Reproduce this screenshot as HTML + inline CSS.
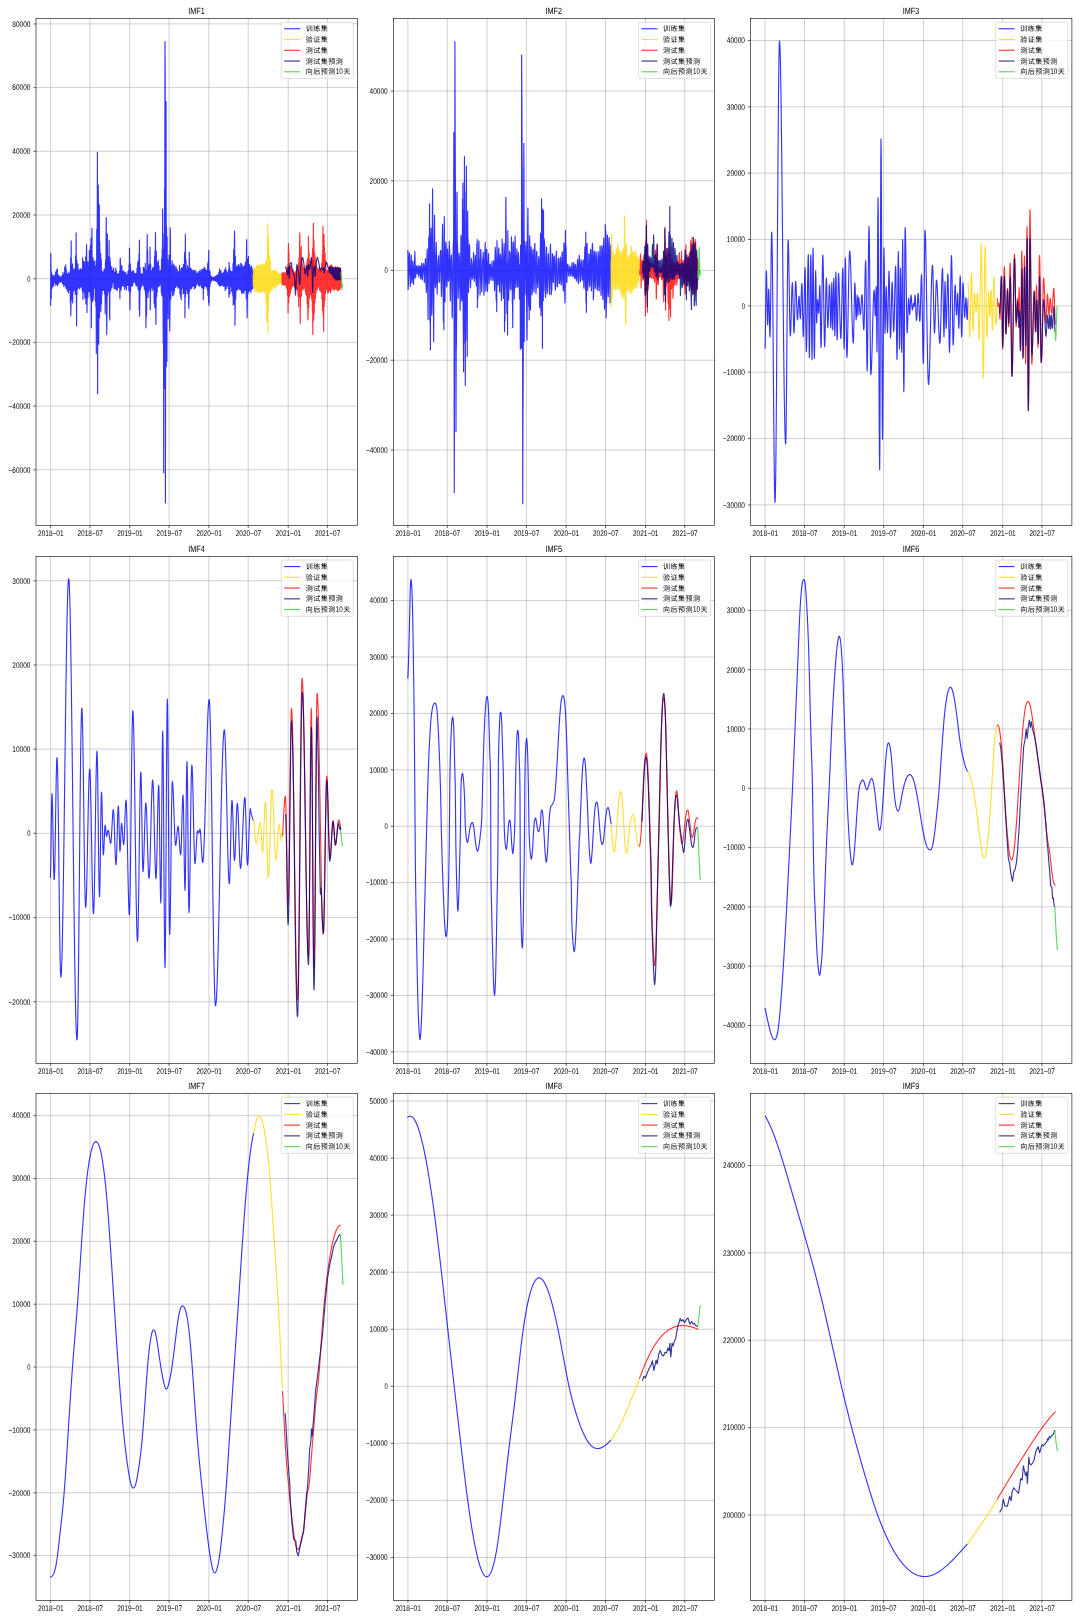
<!DOCTYPE html>
<html lang="zh"><head><meta charset="utf-8"><title>IMF</title>
<style>
html,body{margin:0;padding:0;background:#fff;}
svg{display:block;will-change:transform;}
text{font-family:"Liberation Sans", "Noto Sans CJK SC", sans-serif;fill:#000;text-rendering:geometricPrecision;}
.tk{font-size:8.2px;}
.lg{font-size:7px;letter-spacing:0.5px;}
.tt{font-size:9px;}
.ln{fill:none;stroke-width:1.125;stroke-linejoin:round;stroke-linecap:butt;}
.gr{stroke:#b0b0b0;stroke-width:0.6;fill:none;}
.sp{stroke:#000;stroke-width:0.6;fill:none;}
</style></head><body>
<svg width="1080" height="1620" viewBox="0 0 1080 1620">
<rect x="0" y="0" width="1080" height="1620" fill="#fff"/>
<g id="ax1">
<clipPath id="cp1"><rect x="36" y="18.6" width="321.4" height="506.9"/></clipPath>
<path class="gr" d="M50.6 18.6V525.5M90 18.6V525.5M129.7 18.6V525.5M169.1 18.6V525.5M208.9 18.6V525.5M248.2 18.6V525.5M288.2 18.6V525.5M327.4 18.6V525.5M36 23.9H357.4M36 87.6H357.4M36 151.3H357.4M36 215H357.4M36 278.7H357.4M36 342.4H357.4M36 406.1H357.4M36 469.8H357.4"/>
<g clip-path="url(#cp1)">
<path class="ln" stroke="rgb(0,0,255)" stroke-opacity="0.8" d="M50.6 305.83L50.82 253.33L51.03 269.45L51.25 298.59L51.47 271.98L51.68 275.65L51.9 288.53L52.12 277.46L52.33 276.26L52.55 286.66L52.77 274.95L52.98 282.67L53.2 279.65L53.42 276.61L53.63 285.87L53.85 276.04L54.07 275.94L54.28 281.42L54.5 282.72L54.72 275.7L54.93 283.02L55.15 279.21L55.37 272.8L55.58 282.42L55.8 285.32L56.02 271.42L56.23 281.29L56.45 284.04L56.67 269.94L56.88 280.44L57.1 284.42L57.32 268.79L57.53 285.75L57.75 276.55L57.97 275.8L58.18 283.96L58.4 275.09L58.62 283.45L58.83 280.6L59.05 277.17L59.27 281.32L59.48 280.54L59.7 276.14L59.92 277.78L60.13 282.19L60.35 277.7L60.57 277.96L60.78 280.28L61 277.4L61.22 281.77L61.43 277.82L61.65 276.61L61.87 282.03L62.08 280.4L62.3 274.96L62.52 283.52L62.73 283.01L62.95 272.37L63.17 284.2L63.38 280.78L63.6 274.67L63.82 286.4L64.03 274.23L64.25 276.04L64.47 284.98L64.68 266.89L64.9 284.99L65.12 272.02L65.33 276.12L65.55 286.5L65.77 264.73L65.98 288.19L66.2 269.27L66.42 273.06L66.63 288.5L66.85 273.42L67.07 275.85L67.28 291.14L67.5 283.71L67.72 274.17L67.93 289.05L68.15 274.94L68.37 277.44L68.58 292.87L68.8 271.85L69.02 274.15L69.23 288.47L69.45 273.54L69.67 289.74L69.88 273.68L70.1 274.5L70.32 302.81L70.53 258.16L70.75 315.83L70.97 307.5L71.18 240.83L71.4 283.36L71.62 291.12L71.83 266.39L72.05 299.7L72.27 289.91L72.48 263.73L72.7 303.06L72.91 285.86L73.13 271.28L73.35 291.55L73.56 287.9L73.78 268.89L74 274.51L74.21 287.54L74.43 270.64L74.65 290.15L74.86 290.58L75.08 268.11L75.3 294.4L75.51 255.93L75.73 282.89L75.95 291.96L76.16 232.83L76.38 297.45L76.6 325.83L76.81 260.07L77.03 294.35L77.25 263.42L77.46 267.68L77.68 288.66L77.9 264.47L78.11 284.91L78.33 273.38L78.55 271.63L78.76 287.16L78.98 269.73L79.2 281.66L79.41 288.91L79.63 271.25L79.85 283.73L80.06 275.92L80.28 268.66L80.5 287.63L80.71 271.76L80.93 277.31L81.15 286.44L81.36 269.47L81.58 284.53L81.8 284.66L82.01 269.24L82.23 290.5L82.45 287.46L82.66 257.9L82.88 299.39L83.1 263.9L83.31 286.55L83.53 292.36L83.75 261.24L83.96 283.01L84.18 288.29L84.4 262.37L84.61 288.53L84.83 298.04L85.05 267.82L85.26 271.24L85.48 288.15L85.7 256.81L85.91 304.1L86.13 295.04L86.35 259.89L86.56 244.67L86.78 262.76L87 312.5L87.21 294.35L87.43 262.01L87.65 273.76L87.86 297.8L88.08 261.93L88.3 287.15L88.51 278.76L88.73 266.59L88.95 291.81L89.16 291.86L89.38 250.26L89.6 287.08L89.81 281.73L90.03 252.36L90.25 296.15L90.46 245.24L90.68 284.99L90.9 299.74L91.11 238.31L91.33 327.83L91.55 286.45L91.76 241.61L91.98 228L92.2 287.64L92.41 257.36L92.63 301.72L92.85 259.01L93.06 258.09L93.28 299.27L93.5 289.24L93.71 261.73L93.93 286.44L94.15 287.91L94.36 261L94.58 285.58L94.8 273.87L95.01 266.94L95.23 300.52L95.45 266.06L95.66 298.51L95.88 306.44L96.1 260.51L96.31 353.33L96.53 301.9L96.75 229.03L96.96 323.34L97.18 250.6L97.4 152.5L97.61 393.83L97.83 233.88L98.05 239.33L98.26 185L98.48 210.39L98.7 344.17L98.91 314.07L99.13 227.33L99.35 205L99.56 317.63L99.78 241.89L100 266.48L100.21 304.08L100.43 269.83L100.65 253.25L100.86 311.54L101.08 295.78L101.3 259.27L101.51 303.95L101.73 271.51L101.95 294.16L102.16 283.75L102.38 271.18L102.6 290.5L102.81 272.85L103.03 275.4L103.25 290.56L103.46 272.02L103.68 273.54L103.9 289.59L104.11 269.01L104.33 273.17L104.55 293.96L104.76 272.82L104.98 269.63L105.2 314.05L105.41 263.58L105.63 259.85L105.85 302.97L106.06 237.01L106.28 217.5L106.5 306.81L106.71 334.67L106.93 313.44L107.15 292.94L107.36 233.99L107.58 295.11L107.8 271.53L108.01 256.46L108.23 290.96L108.45 291.28L108.66 262.3L108.88 291.88L109.1 240.33L109.31 262.89L109.53 314.15L109.75 320L109.96 257.7L110.18 291.52L110.4 261.62L110.61 283.96L110.83 290.29L111.05 269.24L111.26 285.19L111.48 271.39L111.7 266.51L111.91 287.62L112.13 285.14L112.35 270.66L112.56 282.77L112.78 277.76L113 270.4L113.21 280.33L113.43 282.73L113.65 268.01L113.86 281.67L114.08 288.62L114.3 275.21L114.51 272.26L114.73 287.96L114.95 273.76L115.16 272.77L115.38 289.3L115.6 274.81L115.81 268.02L116.03 282.96L116.24 285.3L116.46 270.99L116.68 290.18L116.89 276.76L117.11 274.4L117.33 289.94L117.54 280.84L117.76 273.77L117.98 285.42L118.19 275.16L118.41 274.87L118.63 287.43L118.84 273.6L119.06 282.56L119.28 285.4L119.49 271.37L119.71 285.56L119.93 298.67L120.14 259.31L120.36 258L120.58 273.62L120.79 271.35L121.01 290.25L121.23 265.27L121.44 283.85L121.66 286.93L121.88 266.05L122.09 285.04L122.31 274.66L122.53 271.13L122.74 285.43L122.96 282.49L123.18 272.99L123.39 282.87L123.61 286.11L123.83 270.72L124.04 284.58L124.26 272.76L124.48 275.78L124.69 289.79L124.91 272.62L125.13 285.32L125.34 276.25L125.56 272.42L125.78 286.93L125.99 273.66L126.21 275.17L126.43 289.7L126.64 274.75L126.86 274.97L127.08 284.89L127.29 275.93L127.51 277.63L127.73 285.53L127.94 271.42L128.16 281.91L128.38 285.45L128.59 270.29L128.81 290.13L129.03 264.88L129.24 291.48L129.46 248L129.68 263.29L129.89 309.67L130.11 291.41L130.33 263.76L130.54 291.52L130.76 277.36L130.98 270.67L131.19 285.89L131.41 283.76L131.63 273.01L131.84 286.22L132.06 284.22L132.28 271.9L132.49 281.48L132.71 285.59L132.93 271.14L133.14 281.31L133.36 282.7L133.58 270.83L133.79 281.49L134.01 281.73L134.23 273.53L134.44 281.91L134.66 277.15L134.88 273.29L135.09 281.93L135.31 273.69L135.53 284.12L135.74 282.35L135.96 273.8L136.18 285.62L136.39 273.39L136.61 285.87L136.83 282.21L137.04 268.13L137.26 282.2L137.48 281.68L137.69 262.45L137.91 288.42L138.13 288.01L138.34 260.45L138.56 290.33L138.78 290.88L138.99 253.97L139.21 309.87L139.43 240L139.64 316.17L139.86 297.57L140.08 267.26L140.29 276.71L140.51 289.54L140.73 273.56L140.94 285.02L141.16 287.31L141.38 273.57L141.59 285.85L141.81 284.64L142.03 273.96L142.24 281.84L142.46 282.04L142.68 275.14L142.89 278.99L143.11 285.49L143.33 267.21L143.54 284.43L143.76 279.96L143.98 267.79L144.19 289.01L144.41 275.6L144.63 269.29L144.84 285.95L145.06 290.73L145.28 263.41L145.49 295.11L145.71 285.75L145.93 327.83L146.14 307.93L146.36 270.36L146.58 316.09L146.79 285.76L147.01 251.99L147.23 234.5L147.44 292.88L147.66 250.64L147.88 286.47L148.09 297.49L148.31 264.95L148.53 271.85L148.74 291.18L148.96 267.14L149.18 275.55L149.39 288.84L149.61 263.91L149.83 287.99L150.04 247L150.26 310L150.48 291.51L150.69 264.32L150.91 283.82L151.13 284.82L151.34 270.85L151.56 288.05L151.78 271.92L151.99 278.14L152.21 290.8L152.43 272.84L152.64 267.74L152.86 286.01L153.08 279.52L153.29 271.24L153.51 288.91L153.73 267.66L153.94 268.76L154.16 303.71L154.38 266.02L154.59 256.64L154.81 307.75L155.03 250.06L155.24 297.1L155.46 232.5L155.68 261.73L155.89 324.5L156.11 306.07L156.33 251.24L156.54 297.04L156.76 295.92L156.98 262.16L157.19 292.08L157.41 269.01L157.63 263.64L157.84 285.95L158.06 287.01L158.28 260.43L158.49 285.49L158.71 281.54L158.93 265.72L159.14 286L159.36 285.81L159.57 271.19L159.79 277.97L160.01 285.02L160.22 271.23L160.44 275.92L160.66 284.05L160.87 270.17L161.09 273.97L161.31 292.79L161.52 258.75L161.74 280.89L161.96 296.06L162.17 249.41L162.39 279.89L162.61 209.17L162.82 249.81L163.04 312.05L163.26 343.61L163.47 249.9L163.69 472.67L163.91 321.45L164.12 233.7L164.34 388.71L164.56 188.5L164.77 202.59L164.99 41.5L165.21 78.99L165.42 502.83L165.64 345.94L165.86 182.18L166.07 101.67L166.29 366.67L166.51 226.2L166.72 256.14L166.94 361.4L167.16 237L167.37 295.42L167.59 309.93L167.81 260.03L168.02 281.98L168.24 318.67L168.46 270.22L168.67 290.49L168.89 288.79L169.11 255.04L169.32 294.98L169.54 296.35L169.76 330.83L169.97 310.61L170.19 227.83L170.41 237.68L170.62 283.03L170.84 299.21L171.06 265.31L171.27 289.86L171.49 289.84L171.71 269.67L171.92 291.03L172.14 260.7L172.36 282.06L172.57 295.84L172.79 269.32L173.01 273.02L173.22 293.18L173.44 263.97L173.66 274L173.87 294.99L174.09 273.71L174.31 275.75L174.52 290.57L174.74 265.87L174.96 285.98L175.17 269.61L175.39 271.56L175.61 287.39L175.82 282.55L176.04 266.54L176.26 283.95L176.47 276.69L176.69 269.98L176.91 286.12L177.12 268.95L177.34 277.18L177.56 283.11L177.77 272.58L177.99 288.19L178.21 285.48L178.42 271.53L178.64 283.26L178.86 282.75L179.07 271.71L179.29 287.79L179.51 265.49L179.72 274.84L179.94 294.01L180.16 268.98L180.37 283.15L180.59 296.46L180.81 272.13L181.02 273.3L181.24 300.06L181.46 272.42L181.67 267.7L181.89 288.81L182.11 281.75L182.32 267.9L182.54 286.87L182.76 276.67L182.97 276.08L183.19 293.85L183.41 264.48L183.62 286.23L183.84 290.24L184.06 264.15L184.27 293.57L184.49 258.63L184.71 251.99L184.92 317.83L185.14 292.63L185.36 234.17L185.57 296.47L185.79 269.04L186.01 259.46L186.22 289.78L186.44 270.45L186.66 283.42L186.87 285.29L187.09 269.51L187.31 293.74L187.52 265.57L187.74 268.49L187.96 292.56L188.17 267.69L188.39 270.29L188.61 303.57L188.82 308.33L189.04 296.55L189.26 252L189.47 262.87L189.69 290.93L189.91 281.55L190.12 267.73L190.34 288.58L190.56 272.1L190.77 281.51L190.99 285.72L191.21 268.89L191.42 285.08L191.64 288.81L191.86 270.01L192.07 281.38L192.29 285.64L192.51 272.57L192.72 286.58L192.94 275.26L193.16 270.03L193.37 285.26L193.59 271.88L193.81 272.76L194.02 286.25L194.24 270.33L194.46 288.67L194.67 271.2L194.89 285.09L195.11 281.15L195.32 273.19L195.54 287.82L195.76 274.6L195.97 270.67L196.19 285.49L196.41 276.95L196.62 274.32L196.84 284.4L197.06 273.1L197.27 283.48L197.49 281.66L197.71 273.8L197.92 282.29L198.14 282.89L198.36 272.7L198.57 285.27L198.79 271.52L199.01 286.04L199.22 285.5L199.44 271.97L199.66 281.2L199.87 285.91L200.09 269.73L200.31 283.03L200.52 284.81L200.74 271.48L200.96 284.03L201.17 273.84L201.39 273.76L201.61 287.82L201.82 269.53L202.04 287.18L202.25 285.68L202.47 269.06L202.69 288L202.9 285.55L203.12 269.31L203.34 299.67L203.55 269.86L203.77 271.28L203.99 288.74L204.2 267.68L204.42 275.53L204.64 284.17L204.85 267.48L205.07 286.29L205.29 269.25L205.5 282.73L205.72 280.91L205.94 270.37L206.15 286.7L206.37 284.63L206.59 273.03L206.8 286.94L207.02 270.19L207.24 289.7L207.45 288.84L207.67 263.46L207.89 295.6L208.1 265.1L208.32 260.92L208.54 302.41L208.75 250.33L208.97 305.33L209.19 294.39L209.4 286.36L209.62 270.92L209.84 286.78L210.05 271.64L210.27 283.59L210.49 281.12L210.7 275.81L210.92 281.86L211.14 276.33L211.35 277.59L211.57 280.59L211.79 276.69L212 279.64L212.22 280.22L212.44 277.73L212.65 279.78L212.87 277.86L213.09 277.52L213.3 280.18L213.52 279L213.74 277.35L213.95 280.15L214.17 277.55L214.39 277.1L214.6 280.53L214.82 277.29L215.04 277.1L215.25 280.77L215.47 276.2L215.69 281.27L215.9 279.8L216.12 276.03L216.34 281.52L216.55 276.16L216.77 275.63L216.99 281.64L217.2 274.94L217.42 282.09L217.64 276.97L217.85 275.23L218.07 283.67L218.29 277.38L218.5 274.15L218.72 284.92L218.94 272.15L219.15 284.68L219.37 277.62L219.59 268.9L219.8 285.95L220.02 282.91L220.24 271.33L220.45 285.49L220.67 280.95L220.89 270.59L221.1 285.81L221.32 281.36L221.54 273.38L221.75 285.49L221.97 283.34L222.19 273.77L222.4 284.67L222.62 274.39L222.84 282.32L223.05 281.36L223.27 272.55L223.49 286.49L223.7 272.68L223.92 283.54L224.14 286.36L224.35 270.01L224.57 276.07L224.79 284.88L225 271.27L225.22 290.6L225.44 267.79L225.65 283.26L225.87 287.21L226.09 269.8L226.3 288.84L226.52 273.48L226.74 271.71L226.95 285.66L227.17 275.94L227.39 272.97L227.6 285.25L227.82 274.08L228.04 273.71L228.25 288.52L228.47 270.06L228.69 272.28L228.9 297.3L229.12 262.2L229.34 270.37L229.55 290.86L229.77 267.67L229.99 294.06L230.2 274.74L230.42 273.28L230.64 286.54L230.85 271.13L231.07 286.64L231.29 273.85L231.5 281.55L231.72 291.58L231.94 271.45L232.15 291.64L232.37 274.54L232.59 276.97L232.8 295.85L233.02 263.54L233.24 305.01L233.45 274.34L233.67 250.13L233.89 299.7L234.1 304.04L234.32 242.91L234.54 231.17L234.75 249.97L234.97 325.33L235.19 303.11L235.4 256.66L235.62 299.59L235.84 291.63L236.05 265.21L236.27 290.46L236.49 276.04L236.7 268.09L236.92 289.79L237.14 267.22L237.35 289.85L237.57 267.73L237.79 265.82L238 289.42L238.22 264.79L238.44 284.96L238.65 288.18L238.87 264.31L239.09 288.21L239.3 287.99L239.52 266.5L239.74 289.81L239.95 272.46L240.17 267.19L240.39 289.5L240.6 286.21L240.82 263.06L241.04 290.84L241.25 284.88L241.47 267.5L241.69 293.59L241.9 264.1L242.12 292.81L242.34 267.55L242.55 272.69L242.77 288.56L242.99 266.88L243.2 292.85L243.42 285.21L243.64 270.16L243.85 293.32L244.07 268L244.29 265.44L244.5 290.58L244.72 271.11L244.94 266.36L245.15 290.09L245.37 262.14L245.58 290.21L245.8 265.97L246.02 273.61L246.23 298.57L246.45 252.33L246.67 239.5L246.88 288.94L247.1 317.83L247.32 305.79L247.53 285.14L247.75 258.99L247.97 294.02L248.18 288.82L248.4 256.45L248.62 291.05L248.83 265.5L249.05 282.94L249.27 291.67L249.48 264.54L249.7 284.59L249.92 290.13L250.13 267.56L250.35 287.38L250.57 287.95L250.78 269.1L251 292.63L251.22 265.66L251.43 275.71L251.65 289.31L251.87 267.23L252.08 289.19L252.3 269.7L252.52 282.58L252.73 288.44L252.95 269.19"/>
<path class="ln" stroke="rgb(255,215,0)" stroke-opacity="0.8" d="M253 275.06L253.22 286.03L253.43 269.16L253.65 286.75L253.87 287.66L254.08 267.92L254.3 290.89L254.52 269.5L254.73 285.48L254.95 289.08L255.17 268.44L255.38 287.65L255.6 271.38L255.82 273.3L256.03 292.01L256.25 266.84L256.47 284.84L256.68 288.44L256.9 265.23L257.12 290.4L257.33 270.34L257.55 266.3L257.77 291.77L257.98 288.37L258.2 265.54L258.42 291.55L258.63 270.65L258.85 272.2L259.07 292.07L259.28 264.12L259.5 292.56L259.72 285.87L259.93 267.16L260.15 291.22L260.37 266.07L260.58 292.13L260.8 269.46L261.02 285.98L261.23 290.04L261.45 264.01L261.67 291.53L261.88 268.22L262.1 267.58L262.32 289.9L262.53 264.6L262.75 289.72L262.97 289.28L263.18 267.94L263.4 291.9L263.62 287.54L263.83 263.77L264.05 291.43L264.27 268.53L264.48 264.55L264.7 292.29L264.92 287.66L265.13 263.49L265.35 292.43L265.57 287.93L265.78 261.6L266 302.64L266.22 264.72L266.43 261.71L266.65 321.23L266.87 258.67L267.08 266.71L267.3 322.5L267.52 245.59L267.73 223.67L267.95 332.83L268.17 254.18L268.38 309.35L268.6 238.33L268.82 301.89L269.03 287.54L269.25 257.84L269.47 291.43L269.68 255.4L269.9 261.69L270.12 292.09L270.33 261.04L270.55 290.75L270.77 270.65L270.98 275.17L271.2 288.13L271.42 271.38L271.63 289.43L271.85 271.79L272.07 273.17L272.28 287.62L272.5 270.47L272.72 286.46L272.93 274.45L273.15 277.26L273.37 285.03L273.58 270.83L273.8 286.42L274.02 270.91L274.23 271.74L274.45 288.9L274.66 270.75L274.88 282.75L275.1 285.98L275.31 269.96L275.53 287.8L275.75 285L275.96 270.87L276.18 285.79L276.4 271.73L276.61 273.42L276.83 285.22L277.05 271.88L277.26 285.28L277.48 283.63L277.7 272.93L277.91 285.23L278.13 274.29L278.35 273.69L278.56 283.5L278.78 274.04L279 275.01L279.21 283.52L279.43 274.23L279.65 281.56L279.86 282.49L280.08 274.08L280.3 282.13L280.51 279.59L280.73 274.15L280.95 283.08L281.16 274.43L281.38 274.94L281.6 284.66L281.81 274.26"/>
<path class="ln" stroke="rgb(255,0,0)" stroke-opacity="0.8" d="M282 272.55L282.22 284.53L282.43 272.81L282.65 283.22L282.87 274.1L283.08 273.68L283.3 284.58L283.52 272.62L283.73 285.26L283.95 274.79L284.17 273.03L284.38 284.7L284.6 282.94L284.82 273.42L285.03 285.36L285.25 272.75L285.47 275.88L285.68 284.78L285.9 272.89L286.12 273.64L286.33 287.98L286.55 268.3L286.77 288.08L286.98 271.55L287.2 266.98L287.42 294.89L287.63 286.66L287.85 264.23L288.07 312.83L288.28 255.85L288.5 243.67L288.72 302.85L288.93 251.82L289.15 297.25L289.37 269.37L289.58 269.93L289.8 295.95L290.02 265.28L290.23 273.24L290.45 292.85L290.67 266.11L290.88 286.64L291.1 270.78L291.32 267.22L291.53 288.95L291.75 272.85L291.97 270.4L292.18 286.93L292.4 269.54L292.62 280.99L292.83 286.04L293.05 269.92L293.27 285.6L293.48 285.59L293.7 271.02L293.92 282.58L294.13 282.86L294.35 273.35L294.57 286.97L294.78 273.65L295 275.44L295.22 288.83L295.43 271.44L295.65 286.2L295.87 288.94L296.08 273.58L296.3 285.79L296.52 286.98L296.73 274.08L296.95 289.7L297.17 269.56L297.38 290.07L297.6 274.32L297.82 266.43L298.03 296.17L298.25 267.31L298.47 264.74L298.68 306.87L298.9 258.24L299.12 297.33L299.33 283L299.55 240.61L299.77 232.83L299.98 245.99L300.2 323.67L300.42 303.46L300.63 252.38L300.85 251.41L301.07 296.72L301.28 246.6L301.5 295.7L301.72 264.21L301.93 258.33L302.15 290.65L302.37 265.71L302.58 265.24L302.8 287.98L303.02 274.37L303.23 269.8L303.45 289.03L303.67 267.91L303.88 287.89L304.1 274.66L304.31 268.6L304.53 287.82L304.75 270.47L304.96 282L305.18 290.72L305.4 268.44L305.61 270.3L305.83 294.36L306.05 265.35L306.26 269.9L306.48 295.14L306.7 268.45L306.91 262.39L307.13 303.79L307.35 258.49L307.56 291.12L307.78 311.36L308 320L308.21 312.94L308.43 236.17L308.65 253.64L308.86 307.44L309.08 253.14L309.3 297.57L309.51 297.9L309.73 259.71L309.95 290.68L310.16 274.62L310.38 264.92L310.6 294.43L310.81 291.95L311.03 262.67L311.25 296.57L311.46 261.75L311.68 299.73L311.9 291.02L312.11 255.39L312.33 310.36L312.55 248.9L312.76 334.5L312.98 317.51L313.2 241.7L313.41 223L313.63 320.2L313.85 239.8L314.06 247.52L314.28 313.14L314.5 252.41L314.71 253.84L314.93 302.72L315.15 256.42L315.36 272.49L315.58 298.1L315.8 260.77L316.01 288.61L316.23 292.29L316.45 265.83L316.66 286.99L316.88 286.58L317.1 267.42L317.31 289.41L317.53 269.95L317.75 285.38L317.96 278.29L318.18 269.98L318.4 286.93L318.61 269.14L318.83 286.68L319.05 283.17L319.26 267.9L319.48 290.25L319.7 272.8L319.91 273.19L320.13 289.9L320.35 271.98L320.56 270.3L320.78 292.03L321 269.94L321.21 287.55L321.43 283.52L321.65 263.3L321.86 298.41L322.08 292.97L322.3 254.73L322.51 310.75L322.73 246.65L322.95 226.33L323.16 315.91L323.38 239L323.6 331.33L323.81 305.45L324.03 234.32L324.25 306.44L324.46 246.52L324.68 287.4L324.9 300.3L325.11 253.29L325.33 292.54L325.55 293.3L325.76 260.48L325.98 290.15L326.2 286.94L326.41 271.7L326.63 288.89L326.85 270.93L327.06 286.5L327.28 285.26L327.5 270.17L327.71 292.74L327.93 273.69L328.15 276.1L328.36 292.65L328.58 270.42L328.8 291.44L329.01 287.05L329.23 267.01L329.45 289.98L329.66 275.27L329.88 270.01L330.1 290.41L330.31 265.09L330.53 292.76L330.75 266.98L330.96 269.78L331.18 290.82L331.4 265.27L331.61 288.15L331.83 287.71L332.05 265.15L332.26 286.06L332.48 286.97L332.7 268.75L332.91 289.61L333.13 271.04L333.35 268.64L333.56 289.12L333.78 269.86L334 282.96L334.21 286.02L334.43 269.7L334.65 290.3L334.86 273.9L335.08 271.22L335.3 288.58L335.51 266.6L335.73 288.01L335.95 288.26L336.16 268.53L336.38 285.89L336.6 289.42L336.81 267.89L337.03 275.96L337.25 285.67L337.46 266.69L337.68 290.94L337.9 285.61L338.11 268.54L338.33 288.56L338.55 269.76L338.76 267.79L338.98 290.3L339.2 267.72L339.41 287.97L339.63 284.38L339.85 268.06L340.06 289.52L340.28 268.32L340.5 286.82L340.71 287.8L340.93 269.85L341.15 287.77"/>
<path class="ln" stroke="rgb(0,0,128)" stroke-opacity="0.8" d="M285.07 266.67L285.27 266.76L285.47 267L285.67 267.35L285.87 267.8L286.07 268.32L286.27 268.88L286.47 269.47L286.67 270.42L286.87 271.79L287.07 273.23L287.27 274.41L287.47 274.99L287.67 274.43L287.87 272.63L288.07 270.29L288.27 268.11L288.47 266.79L288.67 267.66L288.87 271.96L289.06 276.67L289.26 278.4L289.46 274.89L289.66 268.89L289.86 264.38L290.06 263.62L290.26 263.28L290.46 263L290.66 262.79L290.86 262.64L291.06 262.54L291.26 262.5L291.46 262.87L291.66 264.36L291.86 266.48L292.06 268.66L292.26 270.35L292.46 271.14L292.66 271.61L292.86 271.96L293.06 272.25L293.26 272.54L293.46 272.88L293.66 273.35L293.86 273.99L294.06 274.89L294.26 276.05L294.46 277.49L294.66 279.23L294.86 281.5L295.06 286.41L295.26 291.97L295.46 295.08L295.66 293.61L295.86 289.13L296.06 283.61L296.26 278.7L296.46 272.8L296.66 267.3L296.86 264.61L297.06 264.82L297.26 265.55L297.46 266.61L297.66 267.84L297.85 269.08L298.05 270.26L298.25 271.55L298.45 272.97L298.65 274.51L298.85 276.17L299.05 278.11L299.25 280.92L299.45 283.55L299.65 284.72L299.85 283.45L300.05 280.25L300.25 276.08L300.45 271.87L300.65 268.56L300.85 266.43L301.05 264.53L301.25 262.83L301.45 261.36L301.65 260.16L301.85 259.17L302.05 258.23L302.25 257.53L302.45 257.29L302.65 257.54L302.85 258.14L303.05 258.98L303.25 259.97L303.45 260.99L303.65 262.17L303.85 263.71L304.05 265.45L304.25 267.25L304.45 268.93L304.65 270.56L304.85 272.4L305.05 273.85L305.25 274.29L305.45 273.88L305.65 273.02L305.85 271.87L306.05 270.63L306.25 269.47L306.45 268.11L306.64 266.55L306.84 265.45L307.04 265.9L307.24 269.7L307.44 274.25L307.64 276.39L307.84 275.2L308.04 272.43L308.24 269.08L308.44 266.15L308.64 264.63L308.84 264.9L309.04 265.93L309.24 267.3L309.44 268.58L309.64 269.36L309.84 269.22L310.04 267.99L310.24 266.09L310.44 263.95L310.64 262.02L310.84 260.63L311.04 259.3L311.24 258.17L311.44 257.64L311.64 258.73L311.84 261.97L312.04 266.54L312.24 272.82L312.44 285.12L312.64 292.36L312.84 287.94L313.04 279.54L313.24 274.39L313.44 271.7L313.64 269.39L313.84 267.58L314.04 266.4L314.24 265.97L314.44 266.97L314.64 269.39L314.84 272.35L315.04 274.96L315.23 276.34L315.43 275.44L315.63 272.37L315.83 268.7L316.03 265.94L316.23 263.59L316.43 261.47L316.63 259.91L316.83 258.87L317.03 257.98L317.23 257.41L317.43 257.32L317.63 257.71L317.83 258.42L318.03 259.33L318.23 260.32L318.43 261.24L318.63 262.18L318.83 263.21L319.03 264.31L319.23 265.45L319.43 266.59L319.63 267.96L319.83 269.52L320.03 270.64L320.23 270.77L320.43 270.31L320.63 269.57L320.83 268.79L321.03 268.22L321.23 268.06L321.43 268.25L321.63 268.6L321.83 269L322.03 269.32L322.23 269.44L322.43 269.3L322.63 268.98L322.83 268.58L323.03 268.24L323.23 268.06L323.43 268.37L323.63 269.41L323.83 270.77L324.02 272.05L324.22 272.83L324.42 272.72L324.62 271.67L324.82 270.04L325.02 268.25L325.22 266.67L325.42 265.63L325.62 264.71L325.82 263.84L326.02 263.11L326.22 262.64L326.42 262.5L326.62 262.67L326.82 263.03L327.02 263.55L327.22 264.17L327.42 264.84L327.62 265.49L327.82 266.1L328.02 266.7L328.22 267.34L328.42 268.02L328.62 268.72L328.82 269.44L329.03 271.5L329.24 267.87L329.46 272.96L329.68 266.76L329.89 272.58L330.11 268.22L330.33 272.47L330.54 267.3L330.76 273.31L330.98 267.19L331.19 273.77L331.41 267.41L331.63 274.03L331.84 266.94L332.06 274.35L332.28 267.29L332.49 275.79L332.71 267.57L332.93 276.2L333.14 268.19L333.36 276.54L333.58 267.25L333.79 277.38L334.01 267.84L334.23 278.38L334.44 267.55L334.66 278.66L334.88 268.18L335.09 278.06L335.31 267.72L335.53 278.91L335.74 267.4L335.96 280.37L336.18 267.41L336.39 279.85L336.61 268.46L336.83 279.03L337.04 268.88L337.26 279.38L337.48 267.71L337.69 279.65L337.91 268.54L338.13 279.3L338.34 267.58L338.56 279.2L338.78 269.04L338.99 279.76L339.21 268.27L339.43 279.93L339.64 269.03L339.86 279.55L340.08 267.97L340.29 279.68L340.51 268"/>
<path class="ln" stroke="rgb(50,205,50)" stroke-opacity="0.8" d="M340.6 272.5L341.1 275.5L341.6 281L342.1 289.5L342.7 284"/>
</g>
<rect class="sp" x="36" y="18.6" width="321.4" height="506.9"/>
<path class="sp" d="M50.6 525.5v2.6M90 525.5v2.6M129.7 525.5v2.6M169.1 525.5v2.6M208.9 525.5v2.6M248.2 525.5v2.6M288.2 525.5v2.6M327.4 525.5v2.6M36 23.9h-2.6M36 87.6h-2.6M36 151.3h-2.6M36 215h-2.6M36 278.7h-2.6M36 342.4h-2.6M36 406.1h-2.6M36 469.8h-2.6"/>
<text class="tk" x="50.8" y="536.3" text-anchor="middle" textLength="25.44" lengthAdjust="spacingAndGlyphs">2018−01</text>
<text class="tk" x="90.2" y="536.3" text-anchor="middle" textLength="25.44" lengthAdjust="spacingAndGlyphs">2018−07</text>
<text class="tk" x="129.9" y="536.3" text-anchor="middle" textLength="25.44" lengthAdjust="spacingAndGlyphs">2019−01</text>
<text class="tk" x="169.3" y="536.3" text-anchor="middle" textLength="25.44" lengthAdjust="spacingAndGlyphs">2019−07</text>
<text class="tk" x="209.1" y="536.3" text-anchor="middle" textLength="25.44" lengthAdjust="spacingAndGlyphs">2020−01</text>
<text class="tk" x="248.4" y="536.3" text-anchor="middle" textLength="25.44" lengthAdjust="spacingAndGlyphs">2020−07</text>
<text class="tk" x="288.4" y="536.3" text-anchor="middle" textLength="25.44" lengthAdjust="spacingAndGlyphs">2021−01</text>
<text class="tk" x="327.6" y="536.3" text-anchor="middle" textLength="25.44" lengthAdjust="spacingAndGlyphs">2021−07</text>
<text class="tk" x="30.4" y="26.7" text-anchor="end" textLength="18.1" lengthAdjust="spacingAndGlyphs">80000</text>
<text class="tk" x="30.4" y="90.4" text-anchor="end" textLength="18.1" lengthAdjust="spacingAndGlyphs">60000</text>
<text class="tk" x="30.4" y="154.1" text-anchor="end" textLength="18.1" lengthAdjust="spacingAndGlyphs">40000</text>
<text class="tk" x="30.4" y="217.8" text-anchor="end" textLength="18.1" lengthAdjust="spacingAndGlyphs">20000</text>
<text class="tk" x="30.4" y="281.5" text-anchor="end" textLength="3.22" lengthAdjust="spacingAndGlyphs">0</text>
<text class="tk" x="30.4" y="345.2" text-anchor="end" textLength="21.82" lengthAdjust="spacingAndGlyphs">−20000</text>
<text class="tk" x="30.4" y="408.9" text-anchor="end" textLength="21.82" lengthAdjust="spacingAndGlyphs">−40000</text>
<text class="tk" x="30.4" y="472.6" text-anchor="end" textLength="21.82" lengthAdjust="spacingAndGlyphs">−60000</text>
<text class="tt" x="196.5" y="14.1" text-anchor="middle" textLength="16.6" lengthAdjust="spacingAndGlyphs">IMF1</text>
<rect x="281.25" y="22.3" width="72.05" height="56.2" rx="1.5" ry="1.5" fill="#fff" fill-opacity="0.8" stroke="#ccc" stroke-opacity="0.8" stroke-width="0.75"/>
<path class="ln" stroke="rgb(0,0,255)" stroke-opacity="0.8" d="M284.15 28.75h16"/>
<text class="lg" x="305.65" y="31.35">训练集</text>
<path class="ln" stroke="rgb(255,215,0)" stroke-opacity="0.8" d="M284.15 39.51h16"/>
<text class="lg" x="305.65" y="42.11">验证集</text>
<path class="ln" stroke="rgb(255,0,0)" stroke-opacity="0.8" d="M284.15 50.27h16"/>
<text class="lg" x="305.65" y="52.87">测试集</text>
<path class="ln" stroke="rgb(0,0,128)" stroke-opacity="0.8" d="M284.15 61.03h16"/>
<text class="lg" x="305.65" y="63.63">测试集预测</text>
<path class="ln" stroke="rgb(50,205,50)" stroke-opacity="0.8" d="M284.15 71.79h16"/>
<text class="lg" x="305.65" y="74.39">向后预测</text><text class="tk" x="335.75" y="74.49" textLength="7" lengthAdjust="spacingAndGlyphs">10</text><text class="lg" x="343.15" y="74.39">天</text>
</g>
<g id="ax2">
<clipPath id="cp2"><rect x="393.3" y="18.6" width="321.4" height="506.9"/></clipPath>
<path class="gr" d="M407.9 18.6V525.5M447.3 18.6V525.5M487 18.6V525.5M526.4 18.6V525.5M566.2 18.6V525.5M605.5 18.6V525.5M645.5 18.6V525.5M684.7 18.6V525.5M393.3 91H714.7M393.3 180.75H714.7M393.3 270.5H714.7M393.3 360.25H714.7M393.3 450H714.7"/>
<g clip-path="url(#cp2)">
<path class="ln" stroke="rgb(0,0,255)" stroke-opacity="0.8" d="M407.9 250L408.12 289.44L408.33 285.97L408.55 276.92L408.77 269.15L408.98 264.62L409.2 253.89L409.42 252.81L409.63 258.56L409.85 274.46L410.07 277.3L410.28 286.42L410.5 282.64L410.72 277.34L410.93 264.78L411.15 254.94L411.37 257.95L411.58 271.76L411.8 279.65L412.02 283.04L412.23 278.56L412.45 271.75L412.67 262.38L412.88 261.01L413.1 264.6L413.32 278.4L413.53 284.35L413.75 278.47L413.97 278.6L414.18 278.73L414.4 264.32L414.62 258.64L414.83 251.43L415.05 258.51L415.27 272.03L415.48 277.71L415.7 277.38L415.92 272.78L416.13 268.71L416.35 265.74L416.57 266.79L416.78 268.7L417 271.28L417.22 274.01L417.43 273.59L417.65 272.45L417.87 268.54L418.08 265.4L418.3 267.69L418.52 271.67L418.73 277.05L418.95 274.12L419.17 275.21L419.38 269.68L419.6 266.06L419.82 266.4L420.03 266.39L420.25 266.46L420.47 276.11L420.68 278.51L420.9 279.07L421.12 271.78L421.33 266.54L421.55 263.29L421.77 266.68L421.98 268.91L422.2 276.64L422.42 280.01L422.63 274.87L422.85 269.89L423.07 266.63L423.28 263.33L423.5 264.36L423.72 265.9L423.93 272.59L424.15 274.86L424.37 282.35L424.58 275.08L424.8 267.85L425.02 264.05L425.23 261.76L425.45 258.45L425.67 266.63L425.88 284.07L426.1 284.05L426.32 292.55L426.53 286.59L426.75 265.25L426.97 254.85L427.18 248.96L427.4 261.14L427.62 282.64L427.83 297.56L428.05 319.59L428.27 292.14L428.48 265.29L428.7 237.86L428.92 243.12L429.13 236.28L429.35 246.66L429.57 203.83L429.78 320.46L430 298.5L430.21 317.38L430.43 350L430.65 234.27L430.86 234.8L431.08 228.11L431.3 255.96L431.51 286.62L431.73 315.1L431.95 310.61L432.16 268.3L432.38 214.21L432.6 188.83L432.81 226.74L433.03 256.95L433.25 301.43L433.46 307.16L433.68 341.67L433.9 281.28L434.11 255.57L434.33 230.4L434.55 215.25L434.76 252.66L434.98 275.62L435.2 286.87L435.41 287.79L435.63 279.58L435.85 254.78L436.06 256.21L436.28 242.33L436.5 255.66L436.71 284.06L436.93 283.63L437.15 293.98L437.36 285.57L437.58 278.94L437.8 267.66L438.01 259.9L438.23 260.84L438.45 255.52L438.66 258.13L438.88 272.77L439.1 282.49L439.31 279.8L439.53 281.64L439.75 273.65L439.96 263.92L440.18 252.15L440.4 253.85L440.61 250.23L440.83 251.36L441.05 273.01L441.26 290.89L441.48 296.45L441.7 287.13L441.91 278.6L442.13 249.34L442.35 235.84L442.56 224.12L442.78 249.36L443 263.96L443.21 299.52L443.43 321.5L443.65 300.79L443.86 329.67L444.08 242.27L444.3 216.61L444.51 243.91L444.73 277.67L444.95 302.05L445.16 286.2L445.38 283.13L445.6 254.63L445.81 243.12L446.03 242.12L446.25 247.17L446.46 266.18L446.68 286.96L446.9 286.2L447.11 278.01L447.33 266.92L447.55 249L447.76 254.83L447.98 262.07L448.2 275.95L448.41 281.36L448.63 280.3L448.85 277.8L449.06 257.93L449.28 241.23L449.5 248.32L449.71 249.84L449.93 259.02L450.15 291.67L450.36 301.06L450.58 288.45L450.8 271.91L451.01 258.64L451.23 259.44L451.45 254.97L451.66 266.64L451.88 280.39L452.1 315.62L452.31 317.85L452.53 298.77L452.75 292.08L452.96 262.95L453.18 247.68L453.4 242.76L453.61 240.38L453.83 132.33L454.05 276.33L454.26 492.67L454.48 401.69L454.7 315.56L454.91 41.67L455.13 120.88L455.35 177L455.56 195.7L455.78 287.18L456 431.67L456.21 351.85L456.43 343.7L456.65 307.82L456.86 233.14L457.08 192.17L457.3 243.7L457.51 243.59L457.73 257.63L457.95 281.15L458.16 298.27L458.38 291.26L458.6 287.78L458.81 261.31L459.03 253.15L459.25 255.68L459.46 255.65L459.68 272.76L459.9 293.62L460.11 310.24L460.33 298.16L460.55 276.76L460.76 258.25L460.98 235.42L461.2 236.11L461.41 287.39L461.63 298.58L461.85 301.03L462.06 297.36L462.28 274.44L462.5 199.08L462.71 237.33L462.93 183L463.15 318.13L463.36 335.71L463.58 371.67L463.8 238.47L464.01 209.45L464.23 222.9L464.45 156.67L464.66 312.04L464.88 343.18L465.1 340.17L465.31 385.5L465.53 287.71L465.75 230.03L465.96 191.75L466.18 206.15L466.4 166.17L466.61 312.29L466.83 340.3L467.05 294.48L467.26 356.33L467.48 247.45L467.7 211.02L467.91 243.98L468.13 239.25L468.35 273.47L468.56 292.54L468.78 280.61L469 278.93L469.21 253.4L469.43 244.59L469.65 248L469.86 262.07L470.08 273.97L470.3 279.91L470.51 287.81L470.73 281.75L470.95 276.67L471.16 265.57L471.38 258.66L471.6 261.99L471.81 265.5L472.03 275.22L472.25 278.89L472.46 278.92L472.68 276.36L472.9 272.38L473.11 261.24L473.33 260.53L473.54 252.55L473.76 260.96L473.98 276.9L474.19 281.29L474.41 280.21L474.63 276.1L474.84 266.29L475.06 259.49L475.28 255.04L475.49 258.41L475.71 276.69L475.93 279.38L476.14 283.67L476.36 285.87L476.58 273.72L476.79 243.46L477.01 254.1L477.23 239.44L477.44 307.5L477.66 282.41L477.88 298.23L478.09 293.82L478.31 284.73L478.53 265.37L478.74 243.46L478.96 240.81L479.18 258L479.39 260.63L479.61 275.55L479.83 280.11L480.04 294.96L480.26 288.43L480.48 266.08L480.69 249.37L480.91 249.81L481.13 261.4L481.34 275.17L481.56 285.3L481.78 291.98L481.99 284.85L482.21 278.05L482.43 267.67L482.64 258.65L482.86 258.82L483.08 256.31L483.29 252.25L483.51 259.4L483.73 279.77L483.94 295.28L484.16 289.47L484.38 281.83L484.59 264.85L484.81 255.08L485.03 249.53L485.24 242.36L485.46 268.56L485.68 290.82L485.89 284.7L486.11 282.32L486.33 249.47L486.54 251.63L486.76 249.49L486.98 261.82L487.19 281.98L487.41 291.55L487.63 289.05L487.84 275.54L488.06 263.49L488.28 260.67L488.49 253.48L488.71 259.25L488.93 278.72L489.14 283.74L489.36 277.25L489.58 275.57L489.79 267L490.01 264.71L490.23 264.06L490.44 264.55L490.66 274.33L490.88 279.73L491.09 280.19L491.31 276.71L491.53 271.28L491.74 266.02L491.96 261L492.18 267.06L492.39 273.81L492.61 277.59L492.83 280.52L493.04 275.22L493.26 267.92L493.48 265.55L493.69 260.67L493.91 263.7L494.13 276.08L494.34 281.8L494.56 290.41L494.78 281.86L494.99 257.85L495.21 247.25L495.43 251.14L495.64 254.78L495.86 268.85L496.08 296.7L496.29 301.25L496.51 280.24L496.73 311.67L496.94 240.67L497.16 248.01L497.38 261.79L497.59 280.86L497.81 281.49L498.03 284.91L498.24 273.28L498.46 258.63L498.68 249.66L498.89 247.93L499.11 264.77L499.33 285.23L499.54 290.95L499.76 292.23L499.98 268.79L500.19 257.51L500.41 254.16L500.63 257.63L500.84 259.93L501.06 278.01L501.28 295.4L501.49 300.55L501.71 280.84L501.93 259.07L502.14 238.98L502.36 245.3L502.58 258.94L502.79 279.43L503.01 285.13L503.23 291.74L503.44 298.34L503.66 263.16L503.88 249.92L504.09 243.32L504.31 249.75L504.53 331.67L504.74 306.44L504.96 321.09L505.18 293.86L505.39 263.52L505.61 239.22L505.83 197.17L506.04 221.47L506.26 247.55L506.48 283.75L506.69 291.25L506.91 313.48L507.13 308.42L507.34 262.91L507.56 335L507.78 230.65L507.99 243.9L508.21 267.51L508.43 296.09L508.64 300.19L508.86 294.59L509.08 280.2L509.29 265.39L509.51 251.26L509.73 252.66L509.94 253.12L510.16 274.04L510.38 288.34L510.59 285.18L510.81 290.01L511.03 279.13L511.24 254.55L511.46 236.76L511.68 243.6L511.89 250.99L512.11 275.77L512.33 304.21L512.54 301.29L512.76 327.5L512.98 265.86L513.19 242.85L513.41 241.74L513.63 246.77L513.84 278.99L514.06 288.68L514.28 299.03L514.49 290.43L514.71 275.75L514.93 241.32L515.14 235.96L515.36 256.39L515.58 274.09L515.79 284.6L516.01 287.8L516.23 276.98L516.44 257.94L516.66 254.63L516.87 248.74L517.09 255.63L517.31 274.04L517.52 286.96L517.74 286.25L517.96 286.79L518.17 271.22L518.39 252.34L518.61 256.33L518.82 258.69L519.04 272.6L519.26 284.3L519.47 299.09L519.69 296.87L519.91 267.72L520.12 264.61L520.34 349.17L520.56 245.31L520.77 266.17L520.99 312.98L521.21 344.6L521.42 348.26L521.64 55L521.86 100.2L522.07 149.38L522.29 181.61L522.51 239.66L522.72 503.83L522.94 417.15L523.16 391.98L523.37 312.7L523.59 248.44L523.81 143.33L524.02 171.76L524.24 341.67L524.46 240.96L524.67 294.99L524.89 294.9L525.11 294.22L525.32 279.16L525.54 261.39L525.76 246.16L525.97 246.29L526.19 241.9L526.41 260.9L526.62 299.75L526.84 325.53L527.06 340L527.27 303.68L527.49 254.42L527.71 221.24L527.92 208L528.14 240.24L528.36 286.51L528.57 302.88L528.79 306.47L529.01 300.78L529.22 320L529.44 249.77L529.66 235.74L529.87 247.72L530.09 277.67L530.31 306.01L530.52 310.06L530.74 289.88L530.96 259.52L531.17 246.78L531.39 251.26L531.61 254.7L531.82 282.57L532.04 294.81L532.26 291.89L532.47 287.61L532.69 262.74L532.91 249.55L533.12 249.28L533.34 251.34L533.56 275.81L533.77 288.28L533.99 292.04L534.21 287.12L534.42 266.3L534.64 245.34L534.86 243.33L535.07 251.87L535.29 257.25L535.51 266.88L535.72 285.56L535.94 293.61L536.16 289.36L536.37 269.16L536.59 251.73L536.81 251.43L537.02 257.29L537.24 274.01L537.46 284.29L537.67 287.63L537.89 286.04L538.11 278.77L538.32 267.11L538.54 260.12L538.76 256.59L538.97 260.07L539.19 272.36L539.41 288.94L539.62 307.79L539.84 301.33L540.06 286.56L540.27 250.47L540.49 235.6L540.71 233.31L540.92 315.83L541.14 268.29L541.36 309.8L541.57 198.83L541.79 310.65L542.01 273.33L542.22 230.7L542.44 348.33L542.66 208.98L542.87 224.76L543.09 262.04L543.31 300.68L543.52 210.83L543.74 290.74L543.96 254.51L544.17 238.71L544.39 241.61L544.61 243.29L544.82 254.96L545.04 284.07L545.26 293.15L545.47 297.37L545.69 294.03L545.91 285.14L546.12 255.68L546.34 250.46L546.56 246.83L546.77 256.92L546.99 281.67L547.21 293.48L547.42 291.09L547.64 285.29L547.86 276.07L548.07 263.42L548.29 256.04L548.51 253.64L548.72 260.86L548.94 270.73L549.16 285.18L549.37 292.73L549.59 294.34L549.81 284.15L550.02 275.77L550.24 248.03L550.46 244.15L550.67 251.32L550.89 263.37L551.11 283.88L551.32 294.73L551.54 289.17L551.76 290.8L551.97 282.18L552.19 262.08L552.41 253.51L552.62 254.55L552.84 257.65L553.06 275.56L553.27 282.43L553.49 282.35L553.71 271.98L553.92 260.16L554.14 255.72L554.36 256.56L554.57 261.31L554.79 269.15L555.01 284.16L555.22 288.74L555.44 290.26L555.66 279.98L555.87 261.37L556.09 256.2L556.31 251.09L556.52 256.46L556.74 260.32L556.96 280.49L557.17 286.81L557.39 285.55L557.61 286.4L557.82 281.54L558.04 274.31L558.26 263.44L558.47 258.18L558.69 258.89L558.91 264.24L559.12 271.59L559.34 283.6L559.56 282.97L559.77 277.89L559.99 267.71L560.2 258.63L560.42 257.35L560.64 260.8L560.85 278.29L561.07 284.51L561.29 285L561.5 281.44L561.72 266.5L561.94 255.36L562.15 253.19L562.37 251.86L562.59 266.27L562.8 279.99L563.02 284.79L563.24 290.99L563.45 286.03L563.67 260.14L563.89 242.72L564.1 245.33L564.32 259.96L564.54 288.55L564.75 294.33L564.97 303.03L565.19 290.57L565.4 230.33L565.62 248.21L565.84 245.55L566.05 248.77L566.27 261.31L566.49 278.39L566.7 282.64L566.92 281.18L567.14 275.29L567.35 267.36L567.57 264.97L567.79 264.18L568 264.61L568.22 267.33L568.44 271.56L568.65 274.81L568.87 276.09L569.09 276.18L569.3 271.78L569.52 267.74L569.74 265.99L569.95 266.5L570.17 266.49L570.39 269.05L570.6 274.64L570.82 275.83L571.04 275.98L571.25 274.98L571.47 270.11L571.69 265.75L571.9 262.82L572.12 264.93L572.34 268.06L572.55 273.01L572.77 276.21L572.99 276.59L573.2 276.01L573.42 269.68L573.64 264.33L573.85 262.34L574.07 264.69L574.29 270.64L574.5 277.39L574.72 278.36L574.94 278.3L575.15 268.25L575.37 264.6L575.59 265.26L575.8 267.01L576.02 275.82L576.24 279.55L576.45 280.91L576.67 279.11L576.89 275.07L577.1 267.5L577.32 263.28L577.54 259.19L577.75 261.27L577.97 274.3L578.19 282.43L578.4 283.74L578.62 277.98L578.84 267.72L579.05 260.56L579.27 255.3L579.49 255.78L579.7 260.92L579.92 274.14L580.14 280.57L580.35 282.04L580.57 278.65L580.79 269.66L581 263.81L581.22 260.15L581.44 261.82L581.65 267.81L581.87 274.13L582.09 278.27L582.3 280.24L582.52 279.93L582.74 272.09L582.95 262.56L583.17 259.77L583.39 261.36L583.6 275.24L583.82 287.61L584.04 288.2L584.25 280.91L584.47 263.11L584.69 252.09L584.9 246.81L585.12 247.11L585.34 263.82L585.55 289.88L585.77 232.17L585.99 302.8L586.2 291L586.42 312.17L586.64 249.74L586.85 245.82L587.07 243.24L587.29 254.8L587.5 271.56L587.72 290.45L587.94 286.45L588.15 283.34L588.37 275.47L588.59 262.64L588.8 253.87L589.02 254.11L589.24 272.11L589.45 280.77L589.67 286.65L589.89 284.36L590.1 273.69L590.32 256.58L590.54 249.23L590.75 250.66L590.97 259.57L591.19 280.61L591.4 291.01L591.62 287.69L591.84 280.95L592.05 255.48L592.27 244.88L592.49 243.43L592.7 248.47L592.92 256.79L593.14 280.13L593.35 299.84L593.57 297.26L593.79 286.81L594 259.41L594.22 251.07L594.44 252.39L594.65 255.58L594.87 276.31L595.09 286.15L595.3 288.56L595.52 285.98L595.74 264.3L595.95 251.66L596.17 252.62L596.39 256.08L596.6 260.6L596.82 277.48L597.04 287.5L597.25 290.21L597.47 288.25L597.69 283.26L597.9 259.12L598.12 251.71L598.34 252.92L598.55 256.8L598.77 286.79L598.99 290.96L599.2 290.58L599.42 284.77L599.64 258.69L599.85 251.98L600.07 245.75L600.29 249.26L600.5 264.26L600.72 280.58L600.94 295.3L601.15 294.58L601.37 283.39L601.59 256.1L601.8 246.89L602.02 245.64L602.24 248.4L602.45 277.27L602.67 296.38L602.89 299.38L603.1 285.42L603.32 257.58L603.53 245.4L603.75 238.17L603.97 252.47L604.18 287.67L604.4 306.99L604.62 309.24L604.83 301.71L605.05 281.2L605.27 224.5L605.48 239.95L605.7 230.27L605.92 243.71L606.13 318L606.35 302.79L606.57 302.63L606.78 291.05L607 266.06L607.22 237.94L607.43 234.96L607.65 241.49L607.87 279.63L608.08 293.71L608.3 296.53L608.52 288.92L608.73 256.2L608.95 242.97L609.17 237.56L609.38 245.77L609.6 259.75L609.82 288.83L610.03 302.82L610.25 297.92L610.47 278.42L610.68 252.67L610.9 244.61"/>
<path class="ln" stroke="rgb(255,215,0)" stroke-opacity="0.8" d="M611 260.32L611.22 306.67L611.43 244.38L611.65 234.5L611.87 282.94L612.08 294.94L612.3 298.29L612.52 286.02L612.73 263.83L612.95 250.83L613.17 252.45L613.38 259.15L613.6 282.4L613.82 289.02L614.03 285.32L614.25 282.45L614.47 258.92L614.68 254.61L614.9 256.24L615.12 271.63L615.33 287.59L615.55 289.42L615.77 279.93L615.98 256.12L616.2 251.01L616.42 248.63L616.63 266.78L616.85 283.76L617.07 289.08L617.28 280.59L617.5 255.14L617.72 244.04L617.93 249.25L618.15 257.31L618.37 284.63L618.58 289.04L618.8 287.64L619.02 276.38L619.23 251.69L619.45 249.74L619.67 253.8L619.88 257.55L620.1 285.47L620.32 288.72L620.53 293.05L620.75 286.49L620.97 259.64L621.18 255.2L621.4 252.4L621.62 253.91L621.83 262.91L622.05 295.39L622.27 297.9L622.48 293.56L622.7 257.99L622.92 248.01L623.13 250.11L623.35 251.99L623.57 289.84L623.78 297.78L624 293.54L624.22 283.45L624.43 215.83L624.65 229.33L624.87 235.18L625.08 257.76L625.3 310.8L625.52 319.71L625.73 325L625.95 283.38L626.17 247.4L626.38 244.16L626.6 259.21L626.82 282.41L627.03 291.02L627.25 289.46L627.47 280.47L627.68 265.13L627.9 257.65L628.12 255.86L628.33 260.21L628.55 275.06L628.77 289.61L628.98 291.09L629.2 284.71L629.42 263.21L629.63 255.69L629.85 254.33L630.07 273.1L630.28 285.24L630.5 294.22L630.72 284.13L630.93 260.04L631.15 246.03L631.37 249.7L631.58 259.83L631.8 284.54L632.02 292.43L632.23 286.66L632.45 262.66L632.66 251.41L632.88 251.51L633.1 258.53L633.31 277.32L633.53 288.04L633.75 289.31L633.96 265.77L634.18 256.31L634.4 252.69L634.61 256.56L634.83 276.45L635.05 288.1L635.26 287.61L635.48 284.63L635.7 260.2L635.91 251.04L636.13 252.5L636.35 265.14L636.56 281.48L636.78 287.83L637 285.43L637.21 276.72L637.43 256.97L637.65 256.41L637.86 259.2L638.08 264.84L638.3 276.54L638.51 282.64L638.73 281.45L638.95 274.13L639.16 261.72L639.38 258.5L639.6 262.99"/>
<path class="ln" stroke="rgb(255,0,0)" stroke-opacity="0.8" d="M639.6 271.04L639.82 275.02L640.03 274.16L640.25 266L640.47 253.89L640.68 257.73L640.9 262.34L641.12 287.92L641.33 278.74L641.55 277.55L641.77 277.56L641.98 266.36L642.2 260.85L642.42 260.23L642.63 266.65L642.85 278.79L643.07 280.48L643.28 280.09L643.5 268.4L643.72 258.42L643.93 255.57L644.15 255.17L644.37 272.92L644.58 281.12L644.8 293.51L645.02 294.67L645.23 276.71L645.45 315.69L645.67 241.72L645.88 244.44L646.1 285.16L646.32 290.47L646.53 220.56L646.75 280.9L646.97 255.21L647.18 244.98L647.4 312.22L647.62 258.93L647.83 278.15L648.05 290.33L648.27 288.24L648.48 286.53L648.7 259.53L648.92 260.52L649.13 261.82L649.35 266.24L649.57 276.07L649.78 277.65L650 277.14L650.22 269.49L650.43 264.17L650.65 263.42L650.87 267.71L651.08 277.22L651.3 278.14L651.52 277.16L651.73 273.4L651.95 262.97L652.17 263.99L652.38 263.6L652.6 271.44L652.82 275.27L653.03 278.73L653.25 278.26L653.47 268.83L653.68 265.08L653.9 264.87L654.12 266.97L654.33 277.01L654.55 282.1L654.77 280.5L654.98 274.86L655.2 260.82L655.42 250.07L655.63 256.21L655.85 267.59L656.07 281.71L656.28 299.03L656.5 295.75L656.72 280.93L656.93 253L657.15 243.82L657.37 251.54L657.58 260.32L657.8 278.56L658.02 284.33L658.23 284.51L658.45 281.78L658.67 267.67L658.88 267.07L659.1 267.69L659.32 270.18L659.53 275.09L659.75 277.1L659.97 276.17L660.18 275.7L660.4 269.72L660.62 268.25L660.83 267.53L661.05 268.62L661.26 278.24L661.48 279.11L661.7 279.73L661.91 275.5L662.13 269.74L662.35 267.14L662.56 265.21L662.78 264.6L663 267.67L663.21 287.69L663.43 296.41L663.65 301.81L663.86 255.24L664.08 250.79L664.3 256.2L664.51 263.67L664.73 287.81L664.95 227.15L665.16 278.4L665.38 254.93L665.6 310.14L665.81 255.83L666.03 267.57L666.25 286.46L666.46 248.33L666.68 282.83L666.9 266.67L667.11 253.57L667.33 257.09L667.55 262.34L667.76 277.38L667.98 296.31L668.2 303.48L668.41 295.83L668.63 278.23L668.85 320.56L669.06 250.74L669.28 248.44L669.5 276.39L669.71 307.5L669.93 308.95L670.15 290.73L670.36 253.97L670.58 317.08L670.8 258.41L671.01 275.55L671.23 287.34L671.45 289.09L671.66 286.75L671.88 267.46L672.1 260.6L672.31 258.57L672.53 265.68L672.75 287.79L672.96 298.33L673.18 289.12L673.4 285.68L673.61 266.98L673.83 262.86L674.05 263.07L674.26 265.34L674.48 280.62L674.7 285.5L674.91 284.25L675.13 284.8L675.35 268.62L675.56 263.58L675.78 261.91L676 266.2L676.21 276.87L676.43 281.05L676.65 282.77L676.86 284.83L677.08 273.32L677.3 264.35L677.51 261.22L677.73 261.55L677.95 274.82L678.16 279L678.38 278.39L678.6 276.71L678.81 265.82L679.03 254.85L679.25 255.87L679.46 252.5L679.68 275.17L679.9 278.33L680.11 277.59L680.33 273.92L680.55 265.33L680.76 262.33L680.98 258.85L681.2 264.88L681.41 275.94L681.63 251.11L681.85 276.01L682.06 261.7L682.28 260.91L682.5 264.22L682.71 269.42L682.93 278.13L683.15 281.5L683.36 284.09L683.58 273.34L683.8 260.34L684.01 259.96L684.23 260.08L684.45 276.54L684.66 284.93L684.88 288.65L685.1 294.17L685.31 265.9L685.53 258.51L685.75 252.94L685.96 244.86L686.18 262.15L686.4 279.77L686.61 285.23L686.83 280.22L687.05 273.19L687.26 261.39L687.48 257.33L687.7 258.43L687.91 277.95L688.13 280.1L688.35 281.87L688.56 269.09L688.78 259.6L689 256.52L689.21 252.82L689.43 273.42L689.65 283.35L689.86 286.4L690.08 281.8L690.3 261.64L690.51 240.69L690.73 247.11L690.95 256.71L691.16 282.73L691.38 290.03L691.6 284.7L691.81 256.73L692.03 237.22L692.25 245.18L692.46 253.59L692.68 285.33L692.9 290.6L693.11 293.04L693.33 284.63L693.55 256.39L693.76 248.4L693.98 241.85L694.2 255.53L694.41 282.84L694.63 293.94L694.85 288.6L695.06 281.75L695.28 239.31L695.5 241.48L695.71 243.4L695.93 249.5L696.15 263.33L696.36 282.1L696.58 290.78L696.8 283.72L697.01 266.47L697.23 259.99L697.45 258.2L697.66 262.54L697.88 274.38"/>
<path class="ln" stroke="rgb(0,0,128)" stroke-opacity="0.8" d="M642.5 273.43L642.72 269.27L642.93 263.99L643.15 261.33L643.37 263.39L643.58 274.04L643.8 278.47L644.02 276.89L644.23 275.58L644.45 254.59L644.67 250.44L644.88 245.69L645.1 261.01L645.32 295.56L645.53 293.98L645.75 286.37L645.97 258.74L646.18 240.48L646.4 225.42L646.62 258.52L646.83 289.33L647.05 294.14L647.27 306.67L647.48 257.91L647.7 244L647.92 250.13L648.13 279.28L648.35 284.15L648.57 278.4L648.78 273.95L649 255.94L649.22 257.58L649.43 262.57L649.65 271.52L649.87 270.05L650.08 267.74L650.3 266.81L650.52 257.75L650.73 257.37L650.95 261.17L651.17 266.53L651.38 260.14L651.6 262.18L651.82 263.26L652.03 267.7L652.25 249.11L652.47 244.53L652.68 256.43L652.9 265.37L653.12 263.01L653.33 267.79L653.55 234.79L653.77 239.26L653.98 246.95L654.2 269.95L654.42 270.38L654.63 271.68L654.85 272.36L655.07 260.23L655.28 255.36L655.5 254.33L655.72 267.75L655.93 275.49L656.15 276.91L656.37 276.46L656.58 273.62L656.8 259.95L657.02 252.58L657.23 244.51L657.45 263.56L657.67 275.36L657.88 279.6L658.1 275.56L658.32 265.97L658.53 261.48L658.75 260.54L658.97 271.64L659.18 272.36L659.4 272.38L659.62 271.19L659.83 264.05L660.05 261.21L660.27 260.19L660.48 262.16L660.7 271.06L660.92 272.9L661.13 272.85L661.35 272.11L661.57 268.88L661.78 261.64L662 259.15L662.22 259.89L662.43 271.52L662.65 274.24L662.87 278.01L663.08 276.92L663.3 269.19L663.52 251.22L663.73 254.11L663.95 252.18L664.16 267.42L664.38 284.3L664.6 294.81L664.81 228.89L665.03 247.03L665.25 242.36L665.46 301.81L665.68 257.17L665.9 275.07L666.11 278.57L666.33 280.88L666.55 276.35L666.76 259.57L666.98 251.66L667.2 248.25L667.41 250.06L667.63 273.46L667.85 279.22L668.06 282.79L668.28 278.68L668.5 256.61L668.71 244.48L668.93 231.91L669.15 247.7L669.36 276.41L669.58 281.28L669.8 206.32L670.01 273.36L670.23 235.65L670.45 235.38L670.66 248.24L670.88 274L671.1 278.96L671.31 278.7L671.53 275.87L671.75 251.36L671.96 238.26L672.18 246.31L672.4 275.29L672.61 279.46L672.83 278.37L673.05 274.54L673.26 252.07L673.48 242.67L673.7 250.82L673.91 267.34L674.13 278.28L674.35 279.14L674.56 275.54L674.78 262.88L675 248.36L675.21 251.83L675.43 256.97L675.65 273.69L675.86 275.19L676.08 275.02L676.3 274.13L676.51 264.42L676.73 255.58L676.95 255.4L677.16 260.62L677.38 271.18L677.6 272.13L677.81 273.49L678.03 274.5L678.25 272.47L678.46 264.71L678.68 263.16L678.9 265.2L679.11 275.72L679.33 275.78L679.55 278.33L679.76 273.65L679.98 264.39L680.2 264.99L680.41 295.56L680.63 280.09L680.85 288.16L681.06 284.81L681.28 275.7L681.5 265.49L681.71 262.82L681.93 265.24L682.15 282.67L682.36 286.91L682.58 287.24L682.8 278.46L683.01 265.17L683.23 262.94L683.45 263.77L683.66 265.97L683.88 276.58L684.1 281.03L684.31 284.2L684.53 281.29L684.75 261.82L684.96 253.42L685.18 249.66L685.4 255.83L685.61 275.31L685.83 285.79L686.05 293.32L686.26 291.34L686.48 299.72L686.7 260.09L686.91 254.88L687.13 258.54L687.35 278.23L687.56 284.95L687.78 286.03L688 279.43L688.21 263.97L688.43 257.1L688.65 257.05L688.86 259.99L689.08 278.59L689.3 290.74L689.51 290.64L689.73 285.25L689.95 272.86L690.16 259.63L690.38 252.98L690.6 250.85L690.81 259.98L691.03 295.36L691.25 302.18L691.46 309.44L691.68 261.8L691.9 244.23L692.11 246.83L692.33 249.02L692.55 292.13L692.76 294.63L692.98 288.83L693.2 278.8L693.41 237.22L693.63 246.93L693.85 244.04L694.06 257.12L694.28 305.97L694.5 302.01L694.71 283.52L694.93 258.63L695.15 243.1L695.36 250.61L695.58 277.57L695.8 300.15L696.01 297.61L696.23 305.28L696.45 257.85L696.66 249.97L696.88 254.48L697.1 277.53L697.31 288.92L697.53 283.47L697.75 277.88"/>
<path class="ln" stroke="rgb(50,205,50)" stroke-opacity="0.8" d="M697.8 270.5L698.5 279.5L699.2 247.3L699.9 276L700.5 271"/>
</g>
<rect class="sp" x="393.3" y="18.6" width="321.4" height="506.9"/>
<path class="sp" d="M407.9 525.5v2.6M447.3 525.5v2.6M487 525.5v2.6M526.4 525.5v2.6M566.2 525.5v2.6M605.5 525.5v2.6M645.5 525.5v2.6M684.7 525.5v2.6M393.3 91h-2.6M393.3 180.75h-2.6M393.3 270.5h-2.6M393.3 360.25h-2.6M393.3 450h-2.6"/>
<text class="tk" x="408.1" y="536.3" text-anchor="middle" textLength="25.44" lengthAdjust="spacingAndGlyphs">2018−01</text>
<text class="tk" x="447.5" y="536.3" text-anchor="middle" textLength="25.44" lengthAdjust="spacingAndGlyphs">2018−07</text>
<text class="tk" x="487.2" y="536.3" text-anchor="middle" textLength="25.44" lengthAdjust="spacingAndGlyphs">2019−01</text>
<text class="tk" x="526.6" y="536.3" text-anchor="middle" textLength="25.44" lengthAdjust="spacingAndGlyphs">2019−07</text>
<text class="tk" x="566.4" y="536.3" text-anchor="middle" textLength="25.44" lengthAdjust="spacingAndGlyphs">2020−01</text>
<text class="tk" x="605.7" y="536.3" text-anchor="middle" textLength="25.44" lengthAdjust="spacingAndGlyphs">2020−07</text>
<text class="tk" x="645.7" y="536.3" text-anchor="middle" textLength="25.44" lengthAdjust="spacingAndGlyphs">2021−01</text>
<text class="tk" x="684.9" y="536.3" text-anchor="middle" textLength="25.44" lengthAdjust="spacingAndGlyphs">2021−07</text>
<text class="tk" x="387.7" y="93.8" text-anchor="end" textLength="18.1" lengthAdjust="spacingAndGlyphs">40000</text>
<text class="tk" x="387.7" y="183.55" text-anchor="end" textLength="18.1" lengthAdjust="spacingAndGlyphs">20000</text>
<text class="tk" x="387.7" y="273.3" text-anchor="end" textLength="3.22" lengthAdjust="spacingAndGlyphs">0</text>
<text class="tk" x="387.7" y="363.05" text-anchor="end" textLength="21.82" lengthAdjust="spacingAndGlyphs">−20000</text>
<text class="tk" x="387.7" y="452.8" text-anchor="end" textLength="21.82" lengthAdjust="spacingAndGlyphs">−40000</text>
<text class="tt" x="553.8" y="14.1" text-anchor="middle" textLength="16.6" lengthAdjust="spacingAndGlyphs">IMF2</text>
<rect x="638.55" y="22.3" width="72.05" height="56.2" rx="1.5" ry="1.5" fill="#fff" fill-opacity="0.8" stroke="#ccc" stroke-opacity="0.8" stroke-width="0.75"/>
<path class="ln" stroke="rgb(0,0,255)" stroke-opacity="0.8" d="M641.45 28.75h16"/>
<text class="lg" x="662.95" y="31.35">训练集</text>
<path class="ln" stroke="rgb(255,215,0)" stroke-opacity="0.8" d="M641.45 39.51h16"/>
<text class="lg" x="662.95" y="42.11">验证集</text>
<path class="ln" stroke="rgb(255,0,0)" stroke-opacity="0.8" d="M641.45 50.27h16"/>
<text class="lg" x="662.95" y="52.87">测试集</text>
<path class="ln" stroke="rgb(0,0,128)" stroke-opacity="0.8" d="M641.45 61.03h16"/>
<text class="lg" x="662.95" y="63.63">测试集预测</text>
<path class="ln" stroke="rgb(50,205,50)" stroke-opacity="0.8" d="M641.45 71.79h16"/>
<text class="lg" x="662.95" y="74.39">向后预测</text><text class="tk" x="693.05" y="74.49" textLength="7" lengthAdjust="spacingAndGlyphs">10</text><text class="lg" x="700.45" y="74.39">天</text>
</g>
<g id="ax3">
<clipPath id="cp3"><rect x="750.5" y="18.6" width="321.4" height="506.9"/></clipPath>
<path class="gr" d="M765.1 18.6V525.5M804.5 18.6V525.5M844.2 18.6V525.5M883.6 18.6V525.5M923.4 18.6V525.5M962.7 18.6V525.5M1002.7 18.6V525.5M1041.9 18.6V525.5M750.5 40.45H1071.9M750.5 106.8H1071.9M750.5 173.15H1071.9M750.5 239.5H1071.9M750.5 305.85H1071.9M750.5 372.2H1071.9M750.5 438.55H1071.9M750.5 504.9H1071.9"/>
<g clip-path="url(#cp3)">
<path class="ln" stroke="rgb(0,0,255)" stroke-opacity="0.8" d="M765 348.83L765.22 343.61L765.44 329.33L765.67 309.83L765.89 290.33L766.11 276.06L766.33 270.83L766.56 274.46L766.78 284.38L767 297.92L767.22 311.46L767.44 321.37L767.67 325L767.92 319.75L768.17 307.08L768.42 294.41L768.67 289.17L768.89 292.37L769.11 301.12L769.33 313.08L769.56 325.04L769.78 333.8L770 337L770.24 331.81L770.48 317.26L770.71 296.25L770.95 272.92L771.19 251.9L771.43 237.36L771.67 232.17L771.9 235.55L772.14 245.54L772.38 261.64L772.62 283.03L772.86 308.64L773.1 337.19L773.33 367.25L773.57 397.31L773.81 425.86L774.05 451.47L774.29 472.86L774.52 488.96L774.76 498.95L775 502.33L775.25 498.83L775.5 488.43L775.75 471.44L776 448.39L776.25 419.97L776.5 387.04L776.75 350.61L777 311.79L777.25 271.75L777.5 231.71L777.75 192.89L778 156.46L778.25 123.53L778.5 95.11L778.75 72.06L779 55.07L779.25 44.67L779.5 41.17L779.75 42.76L779.99 47.5L780.24 55.32L780.49 66.09L780.73 79.65L780.98 95.78L781.23 114.23L781.47 134.7L781.72 156.87L781.97 180.4L782.21 204.91L782.46 230.01L782.71 255.32L782.95 280.42L783.2 304.93L783.45 328.46L783.69 350.64L783.94 371.11L784.19 389.55L784.43 405.68L784.68 419.24L784.93 430.02L785.17 437.84L785.42 442.58L785.67 444.17L785.92 439.17L786.17 424.67L786.42 402.09L786.67 373.63L786.92 342.08L787.17 310.54L787.42 282.08L787.67 259.5L787.92 245L788.17 240L788.41 242.89L788.65 251.21L788.89 263.96L789.13 279.6L789.37 296.24L789.61 311.88L789.85 324.62L790.09 332.94L790.33 335.83L790.58 333.8L790.83 328.02L791.08 319.37L791.33 309.17L791.58 298.96L791.83 290.31L792.08 284.53L792.33 282.5L792.57 284.99L792.81 291.98L793.05 302.07L793.29 313.27L793.52 323.36L793.76 330.34L794 332.83L794.24 330.28L794.48 323.14L794.71 312.81L794.95 301.35L795.19 291.03L795.43 283.88L795.67 281.33L795.9 282.8L796.12 287L796.35 293.27L796.58 300.67L796.81 308.07L797.04 314.34L797.27 318.53L797.5 320L797.75 318.4L798 314.04L798.25 308.08L798.5 302.12L798.75 297.76L799 296.17L799.22 297.67L799.44 301.79L799.67 307.42L799.89 313.04L800.11 317.16L800.33 318.67L800.58 316.3L800.83 309.83L801.08 301L801.33 292.17L801.58 285.7L801.83 283.33L802.08 286.91L802.33 296.67L802.58 310L802.83 323.33L803.08 333.09L803.33 336.67L803.57 333.24L803.81 323.65L804.05 309.78L804.29 294.39L804.52 280.52L804.76 270.92L805 267.5L805.22 273.14L805.44 288.54L805.67 309.58L805.89 330.62L806.11 346.03L806.33 351.67L806.58 347.97L806.83 337.44L807.08 321.68L807.33 303.08L807.58 284.49L807.83 268.73L808.08 258.2L808.33 254.5L808.58 269.58L808.83 306L809.08 342.42L809.33 357.5L809.58 350.63L809.83 331.88L810.08 306.25L810.33 280.62L810.58 261.87L810.83 255L811.07 264.99L811.3 291.16L811.53 323.51L811.77 349.67L812 359.67L812.25 343.31L812.5 303.83L812.75 264.35L813 248L813.22 255.39L813.44 275.58L813.67 303.17L813.89 330.75L814.11 350.94L814.33 358.33L814.56 352.47L814.78 336.46L815 314.58L815.22 292.71L815.44 276.69L815.67 270.83L815.92 278.47L816.17 296.92L816.42 315.36L816.67 323L816.88 319.58L817.08 311.33L817.29 303.08L817.5 299.67L817.73 300.97L817.97 304.39L818.2 308.61L818.43 312.03L818.67 313.33L818.9 310.66L819.13 303.66L819.37 295.01L819.6 288.01L819.83 285.33L820.07 291.27L820.3 306.81L820.53 326.02L820.77 341.56L821 347.5L821.23 343.98L821.46 333.95L821.69 318.95L821.92 301.25L822.15 283.55L822.38 268.55L822.6 258.52L822.83 255L823.06 258.49L823.29 268.42L823.52 283.29L823.75 300.83L823.98 318.37L824.21 333.24L824.44 343.18L824.67 346.67L824.9 343.27L825.14 333.74L825.38 319.97L825.62 304.69L825.86 290.93L826.1 281.4L826.33 278L826.58 281.32L826.83 290.38L827.08 302.75L827.33 315.12L827.58 324.18L827.83 327.5L828.07 325.37L828.31 319.41L828.55 310.78L828.79 301.22L829.02 292.59L829.26 286.63L829.5 284.5L829.72 287.41L829.94 295.38L830.17 306.25L830.39 317.12L830.61 325.09L830.83 328L831.08 321.34L831.33 305.25L831.58 289.16L831.83 282.5L832.04 289.46L832.25 306.25L832.46 323.04L832.67 330L832.9 325.07L833.13 312.15L833.37 296.18L833.6 283.27L833.83 278.33L834.08 286.75L834.33 307.08L834.58 327.41L834.83 335.83L835.08 326.51L835.33 304L835.58 281.49L835.83 272.17L836.06 276.69L836.28 289.04L836.5 305.92L836.72 322.79L836.94 335.15L837.17 339.67L837.39 335.22L837.61 323.08L837.83 306.5L838.06 289.92L838.28 277.78L838.5 273.33L838.73 274.93L838.97 279.57L839.2 286.8L839.43 295.91L839.67 306L839.9 316.09L840.13 325.2L840.37 332.43L840.6 337.07L840.83 338.67L841.08 335.98L841.33 328.32L841.58 316.85L841.83 303.33L842.08 289.81L842.33 278.35L842.58 270.69L842.83 268L843.06 273.41L843.28 288.21L843.5 308.42L843.72 328.62L843.94 343.42L844.17 348.83L844.4 340.14L844.63 317.39L844.87 289.27L845.1 266.52L845.33 257.83L845.58 264.51L845.83 282.75L846.08 307.67L846.33 332.58L846.58 350.82L846.83 357.5L847.07 355.69L847.31 350.38L847.54 341.93L847.78 330.92L848.01 318.09L848.25 304.33L848.49 290.57L848.72 277.75L848.96 266.74L849.19 258.29L849.43 252.98L849.67 251.17L849.91 252.17L850.16 255.14L850.4 259.94L850.64 266.36L850.89 274.12L851.13 282.89L851.38 292.28L851.62 301.88L851.87 311.27L852.11 320.04L852.36 327.81L852.6 334.23L852.84 339.03L853.09 342L853.33 343L853.58 338.97L853.83 327.96L854.08 312.92L854.33 297.88L854.58 286.86L854.83 282.83L855.06 285.32L855.28 292.12L855.5 301.42L855.72 310.71L855.94 317.51L856.17 320L856.42 316.34L856.67 307.5L856.92 298.66L857.17 295L857.39 300.21L857.61 310.62L857.83 315.83L858.04 313.1L858.25 306.5L858.46 299.9L858.67 297.17L858.9 298.03L859.14 300.46L859.38 303.97L859.62 307.86L859.86 311.37L860.1 313.8L860.33 314.67L860.57 313.68L860.81 310.9L861.05 306.89L861.29 302.44L861.52 298.43L861.76 295.66L862 294.67L862.23 296.01L862.46 299.84L862.69 305.57L862.92 312.33L863.15 319.09L863.38 324.83L863.6 328.66L863.83 330L864.06 327.37L864.29 319.87L864.52 308.65L864.75 295.42L864.98 282.18L865.21 270.96L865.44 263.47L865.67 260.83L865.92 268.2L866.17 288.33L866.42 315.83L866.67 343.33L866.92 363.46L867.17 370.83L867.4 365.33L867.62 349.67L867.85 326.23L868.08 298.58L868.31 270.93L868.54 247.49L868.77 231.83L869 226.33L869.23 231.98L869.46 248.06L869.69 272.12L869.92 300.5L870.15 328.88L870.38 352.94L870.6 369.02L870.83 374.67L871.07 373.61L871.31 370.47L871.55 365.43L871.79 358.73L872.02 350.7L872.26 341.75L872.5 332.33L872.74 322.91L872.98 313.97L873.21 305.94L873.45 299.24L873.69 294.19L873.93 291.06L874.17 290L874.4 292.47L874.63 298.93L874.87 306.91L875.1 313.37L875.33 315.83L875.54 311.56L875.75 301.25L875.96 290.94L876.17 286.67L876.38 296.23L876.58 319.33L876.79 342.43L877 352L877.25 329.42L877.5 274.92L877.75 220.41L878 197.83L878.24 211.31L878.48 249.07L878.71 303.64L878.95 364.2L879.19 418.76L879.43 456.52L879.67 470L879.89 447.82L880.11 387.21L880.33 304.42L880.56 221.63L880.78 161.02L881 138.83L881.25 158.95L881.5 213.92L881.75 289L882 364.08L882.25 419.05L882.5 439.17L882.75 426.35L883 391.33L883.25 343.5L883.5 295.67L883.75 260.65L884 247.83L884.25 260.35L884.5 290.58L884.75 320.81L885 333.33L885.23 328.88L885.47 317.21L885.7 302.79L885.93 291.12L886.17 286.67L886.39 289.74L886.61 298.12L886.83 309.58L887.06 321.04L887.28 329.43L887.5 332.5L887.75 328.39L888 317.17L888.25 301.83L888.5 286.5L888.75 275.28L889 271.17L889.25 275.64L889.5 287.88L889.75 304.58L890 321.29L890.25 333.52L890.5 338L890.74 335.23L890.98 327.46L891.21 316.23L891.45 303.77L891.69 292.54L891.93 284.77L892.17 282L892.42 285.33L892.67 294.42L892.92 306.83L893.17 319.25L893.42 328.34L893.67 331.67L893.92 329.17L894.17 322.07L894.42 311.45L894.67 298.92L894.92 286.38L895.17 275.76L895.42 268.66L895.67 266.17L895.89 272.42L896.11 289.5L896.33 312.83L896.56 336.17L896.78 353.25L897 359.5L897.22 352.28L897.44 332.54L897.67 305.58L897.89 278.62L898.11 258.89L898.33 251.67L898.57 260.95L898.8 285.24L899.03 315.26L899.27 339.55L899.5 348.83L899.75 337L900 308.42L900.25 279.84L900.5 268L900.73 276.04L900.97 297.08L901.2 323.09L901.43 344.13L901.67 352.17L901.92 335.69L902.17 295.92L902.42 256.14L902.67 239.67L902.9 254.18L903.13 292.18L903.37 339.15L903.6 377.15L903.83 391.67L904.06 380.67L904.28 350.62L904.5 309.58L904.72 268.54L904.94 238.5L905.17 227.5L905.42 231.51L905.67 242.93L905.92 260.01L906.17 280.17L906.42 300.32L906.67 317.41L906.92 328.82L907.17 332.83L907.42 330.52L907.67 324.21L907.92 315.58L908.17 306.96L908.42 300.64L908.67 298.33L908.92 300.73L909.17 306.5L909.42 312.27L909.67 314.67L909.89 313.35L910.11 309.75L910.33 304.83L910.56 299.92L910.78 296.32L911 295L911.22 296L911.44 298.75L911.67 302.5L911.89 306.25L912.11 309L912.33 310L912.56 309.55L912.78 308.33L913 306.67L913.22 305L913.44 303.78L913.67 303.33L913.92 305L914.17 306.67L914.38 304.96L914.58 300.83L914.79 296.71L915 295L915.25 296.71L915.5 301.38L915.75 307.75L916 314.12L916.25 318.79L916.5 320.5L916.74 319.15L916.98 315.39L917.21 309.94L917.45 303.89L917.69 298.45L917.93 294.68L918.17 293.33L918.4 294.72L918.64 298.6L918.88 304.22L919.12 310.45L919.36 316.06L919.6 319.95L919.83 321.33L920.07 319.01L920.31 312.52L920.55 303.13L920.79 292.71L921.02 283.32L921.26 276.82L921.5 274.5L921.73 277.88L921.96 287.51L922.19 301.92L922.42 318.92L922.65 335.91L922.88 350.32L923.1 359.95L923.33 363.33L923.57 356.73L923.81 338.23L924.05 311.5L924.29 281.83L924.52 255.1L924.76 236.6L925 230L925.25 231.94L925.5 237.66L925.75 246.87L926 259.12L926.25 273.78L926.5 290.13L926.75 307.33L927 324.54L927.25 340.89L927.5 355.55L927.75 367.79L928 377.01L928.25 382.73L928.5 384.67L928.75 383.52L929 380.12L929.25 374.61L929.5 367.19L929.75 358.15L930 347.83L930.25 336.64L930.5 325L930.75 313.36L931 302.17L931.25 291.85L931.5 282.81L931.75 275.39L932 269.88L932.25 266.48L932.5 265.33L932.75 267.9L933 275.22L933.25 286.17L933.5 299.08L933.75 312L934 322.95L934.25 330.26L934.5 332.83L934.75 330.82L935 325.1L935.25 316.53L935.5 306.42L935.75 296.31L936 287.74L936.25 282.01L936.5 280L936.74 280.79L936.98 283.14L937.21 286.91L937.45 291.92L937.69 297.93L937.93 304.62L938.17 311.67L938.4 318.71L938.64 325.41L938.88 331.41L939.12 336.42L939.36 340.2L939.6 342.54L939.83 343.33L940.08 341.81L940.32 337.38L940.56 330.39L940.8 321.41L941.05 311.17L941.29 300.5L941.53 290.26L941.77 281.28L942.02 274.29L942.26 269.85L942.5 268.33L942.75 272.91L943 285.42L943.25 302.5L943.5 319.58L943.75 332.09L944 336.67L944.25 328.61L944.5 309.17L944.75 289.72L945 281.67L945.23 286.12L945.47 297.79L945.7 312.21L945.93 323.88L946.17 328.33L946.4 325.63L946.64 318.07L946.88 307.15L947.12 295.02L947.36 284.09L947.6 276.53L947.83 273.83L948.07 277.71L948.31 288.58L948.55 304.28L948.79 321.72L949.02 337.42L949.26 348.29L949.5 352.17L949.75 348.49L950 338.01L950.25 322.33L950.5 303.83L950.75 285.34L951 269.66L951.25 259.18L951.5 255.5L951.74 259.93L951.98 272.35L952.21 290.29L952.45 310.21L952.69 328.15L952.93 340.57L953.17 345L953.42 342.72L953.67 336.21L953.92 326.48L954.17 315L954.42 303.52L954.67 293.79L954.92 287.28L955.17 285L955.39 287.01L955.61 292.5L955.83 300L956.06 307.5L956.28 312.99L956.5 315L956.73 312.93L956.97 307.51L957.2 300.82L957.43 295.4L957.67 293.33L957.9 296.68L958.13 305.43L958.37 316.24L958.6 324.99L958.83 328.33L959.06 324.82L959.28 315.21L959.5 302.08L959.72 288.96L959.94 279.35L960.17 275.83L960.42 279.91L960.67 291.04L960.92 306.25L961.17 321.46L961.42 332.59L961.67 336.67L961.89 333.06L962.11 323.21L962.33 309.75L962.56 296.29L962.78 286.44L963 282.83L963.24 284.55L963.48 289.36L963.71 296.31L963.95 304.02L964.19 310.97L964.43 315.78L964.67 317.5L964.9 315.59L965.13 310.59L965.37 304.41L965.6 299.41L965.83 297.5L966.06 298.98L966.28 303.04L966.5 308.58L966.72 314.12L966.94 318.18L967.17 319.67L967.4 317.63L967.63 312.3L967.87 305.7L968.1 300.37L968.33 298.33"/>
<path class="ln" stroke="rgb(255,215,0)" stroke-opacity="0.8" d="M968 282.5L968.24 285.2L968.48 292.76L968.71 303.69L968.95 315.81L969.19 326.74L969.43 334.3L969.67 337L969.9 334.56L970.12 327.63L970.35 317.25L970.58 305L970.81 292.75L971.04 282.37L971.27 275.44L971.5 273L971.75 276.87L972 287.46L972.25 301.92L972.5 316.38L972.75 326.96L973 330.83L973.25 328.27L973.5 321.25L973.75 311.67L974 302.08L974.25 295.07L974.5 292.5L974.75 293.84L975 297.5L975.25 302.5L975.5 307.5L975.75 311.16L976 312.5L976.25 311.16L976.5 307.5L976.75 302.5L977 297.5L977.25 293.84L977.5 292.5L977.74 294.85L977.98 301.44L978.21 310.97L978.45 321.53L978.69 331.06L978.93 337.65L979.17 340L979.41 337.1L979.65 328.73L979.89 315.92L980.13 300.2L980.37 283.47L980.61 267.75L980.85 254.94L981.09 246.57L981.33 243.67L981.56 248.81L981.79 263.46L982.02 285.39L982.25 311.25L982.48 337.11L982.71 359.04L982.94 373.69L983.17 378.83L983.42 373.79L983.67 359.43L983.92 337.94L984.17 312.58L984.42 287.23L984.67 265.74L984.92 251.38L985.17 246.33L985.4 249.8L985.62 259.68L985.85 274.47L986.08 291.92L986.31 309.36L986.54 324.15L986.77 334.03L987 337.5L987.23 335.76L987.46 330.79L987.69 323.35L987.92 314.58L988.15 305.81L988.38 298.38L988.6 293.41L988.83 291.67L989.07 294.05L989.3 300.3L989.53 308.03L989.77 314.28L990 316.67L990.23 314.12L990.47 307.45L990.7 299.21L990.93 292.55L991.17 290L991.39 292.68L991.61 300L991.83 310L992.06 320L992.28 327.32L992.5 330L992.72 326.45L992.94 316.75L993.17 303.5L993.39 290.25L993.61 280.55L993.83 277L994.08 278.83L994.33 284.03L994.58 291.82L994.83 301L995.08 310.18L995.33 317.97L995.58 323.17L995.83 325L996.06 323.79L996.29 320.36L996.52 315.23L996.75 309.17L996.98 303.11"/>
<path class="ln" stroke="rgb(255,0,0)" stroke-opacity="0.8" d="M997.33 298.33L997.58 301.52L997.83 304.23L998.08 306.03L998.33 306.67L998.56 305.83L998.78 304.17L999 303.33L999.25 305.65L999.5 311.25L999.75 316.85L1000 319.17L1000.23 315.08L1000.47 304.37L1000.7 291.13L1000.93 280.42L1001.17 276.33L1001.42 281.19L1001.67 294.46L1001.92 312.58L1002.17 330.71L1002.42 343.98L1002.67 348.83L1002.9 344.76L1003.14 333.37L1003.38 316.89L1003.62 298.61L1003.86 282.13L1004.1 270.74L1004.33 266.67L1004.56 269.2L1004.79 276.43L1005.02 287.24L1005.25 300L1005.48 312.76L1005.71 323.57L1005.94 330.8L1006.17 333.33L1006.39 330.32L1006.61 322.08L1006.83 310.83L1007.06 299.58L1007.28 291.35L1007.5 288.33L1007.73 291.99L1007.97 301.58L1008.2 313.42L1008.43 323.01L1008.67 326.67L1008.92 322.4L1009.17 310.75L1009.42 294.83L1009.67 278.92L1009.92 267.26L1010.17 263L1010.4 267.29L1010.62 279.52L1010.85 297.83L1011.08 319.42L1011.31 341.01L1011.54 359.31L1011.77 371.54L1012 375.83L1012.25 372.86L1012.5 364.22L1012.75 350.76L1013 333.8L1013.25 315L1013.5 296.2L1013.75 279.24L1014 265.78L1014.25 257.14L1014.5 254.17L1014.74 257.76L1014.98 267.82L1015.21 282.35L1015.45 298.48L1015.69 313.02L1015.93 323.08L1016.17 326.67L1016.39 324.77L1016.61 319.58L1016.83 312.5L1017.06 305.42L1017.28 300.23L1017.5 298.33L1017.71 301.02L1017.92 307.5L1018.12 313.98L1018.33 316.67L1018.54 312.4L1018.75 302.08L1018.96 291.77L1019.17 287.5L1019.4 293.47L1019.63 309.09L1019.87 328.41L1020.1 344.03L1020.33 350L1020.58 343.38L1020.83 325.29L1021.08 300.58L1021.33 275.88L1021.58 257.79L1021.83 251.17L1022.07 261.4L1022.3 288.19L1022.53 321.31L1022.77 348.1L1023 358.33L1023.25 351.47L1023.5 332.71L1023.75 307.08L1024 281.46L1024.25 262.7L1024.5 255.83L1024.73 266.13L1024.97 293.09L1025.2 326.41L1025.43 353.37L1025.67 363.67L1025.89 354.49L1026.11 329.42L1026.33 295.17L1026.56 260.92L1026.78 235.84L1027 226.67L1027.22 238.97L1027.44 272.58L1027.67 318.5L1027.89 364.42L1028.11 398.03L1028.33 410.33L1028.57 400.39L1028.81 372.53L1029.05 332.26L1029.29 287.57L1029.52 247.31L1029.76 219.44L1030 209.5L1030.23 215.39L1030.46 232.15L1030.69 257.24L1030.92 286.83L1031.15 316.43L1031.38 341.52L1031.6 358.28L1031.83 364.17L1032.07 362.37L1032.3 357.16L1032.53 349.05L1032.77 338.83L1033 327.5L1033.23 316.17L1033.47 305.95L1033.7 297.84L1033.93 292.63L1034.17 290.83L1034.4 294.73L1034.63 304.94L1034.87 317.56L1035.1 327.77L1035.33 331.67L1035.57 327.21L1035.8 315.54L1036.03 301.12L1036.27 289.46L1036.5 285L1036.75 289.19L1037 300.62L1037.25 316.25L1037.5 331.88L1037.75 343.31L1038 347.5L1038.25 341.34L1038.5 324.5L1038.75 301.5L1039 278.5L1039.25 261.66L1039.5 255.5L1039.73 259.57L1039.96 271.17L1040.19 288.53L1040.42 309L1040.65 329.47L1040.88 346.83L1041.1 358.43L1041.33 362.5L1041.57 360.43L1041.8 354.43L1042.03 345.08L1042.27 333.31L1042.5 320.25L1042.73 307.19L1042.97 295.42L1043.2 286.07L1043.43 280.07L1043.67 278L1043.91 279.37L1044.15 283.3L1044.39 289.33L1044.63 296.73L1044.87 304.6L1045.11 312L1045.35 318.03L1045.59 321.97L1045.83 323.33L1046.07 321.89L1046.31 317.84L1046.55 312L1046.79 305.5L1047.02 299.66L1047.26 295.61L1047.5 294.17L1047.72 295.56L1047.94 299.38L1048.17 304.58L1048.39 309.79L1048.61 313.6L1048.83 315L1049.06 313.88L1049.28 310.83L1049.5 306.67L1049.72 302.5L1049.94 299.45L1050.17 298.33L1050.42 299.34L1050.67 302.08L1050.92 305.83L1051.17 309.58L1051.42 312.33L1051.67 313.33L1051.91 312.58L1052.15 310.41L1052.39 307.08L1052.63 303L1052.87 298.66L1053.11 294.58L1053.35 291.26L1053.59 289.09L1053.83 288.33L1054.08 290.73L1054.33 297.29L1054.58 306.25L1054.83 315.21L1055.08 321.77L1055.33 324.17"/>
<path class="ln" stroke="rgb(0,0,128)" stroke-opacity="0.8" d="M999.5 313.33L999.74 312.23L999.98 309.04L1000.22 304.17L1000.46 298.18L1000.7 291.82L1000.94 285.83L1001.19 280.96L1001.43 277.77L1001.67 276.67L1001.92 286.92L1002.17 311.67L1002.42 336.42L1002.67 346.67L1002.9 343.2L1003.14 333.49L1003.38 319.45L1003.62 303.88L1003.86 289.84L1004.1 280.13L1004.33 276.67L1004.58 280.52L1004.83 291.04L1005.08 305.42L1005.33 319.79L1005.58 330.31L1005.83 334.17L1006.07 331.98L1006.31 325.85L1006.55 317L1006.79 307.17L1007.02 298.31L1007.26 292.19L1007.5 290L1007.72 292.23L1007.94 298.33L1008.17 306.67L1008.39 315L1008.61 321.1L1008.83 323.33L1009.08 320.21L1009.33 311.67L1009.58 300L1009.83 288.33L1010.08 279.79L1010.33 276.67L1010.57 281.6L1010.81 295.43L1011.05 315.41L1011.29 337.59L1011.52 357.57L1011.76 371.4L1012 376.33L1012.25 373.45L1012.5 365.07L1012.75 352.01L1013 335.57L1013.25 317.33L1013.5 299.1L1013.75 282.65L1014 269.6L1014.25 261.22L1014.5 258.33L1014.74 261.51L1014.98 270.41L1015.21 283.28L1015.45 297.56L1015.69 310.42L1015.93 319.32L1016.17 322.5L1016.42 321.1L1016.67 317.29L1016.92 312.08L1017.17 306.88L1017.42 303.06L1017.67 301.67L1017.9 304.13L1018.13 310.59L1018.37 318.57L1018.6 325.03L1018.83 327.5L1019.04 325.06L1019.25 319.17L1019.46 313.27L1019.67 310.83L1019.88 316.69L1020.08 330.83L1020.29 344.98L1020.5 350.83L1020.74 346.75L1020.98 335.3L1021.21 318.76L1021.45 300.4L1021.69 283.86L1021.93 272.42L1022.17 268.33L1022.38 281.39L1022.58 312.92L1022.79 344.44L1023 357.5L1023.24 353L1023.48 340.4L1023.71 322.19L1023.95 301.98L1024.19 283.77L1024.43 271.16L1024.67 266.67L1024.9 274.23L1025.13 294.02L1025.37 318.48L1025.6 338.27L1025.83 345.83L1026.06 338.63L1026.28 318.96L1026.5 292.08L1026.72 265.21L1026.94 245.53L1027.17 238.33L1027.4 254.81L1027.63 297.93L1027.87 351.24L1028.1 394.36L1028.33 410.83L1028.57 402.29L1028.81 378.36L1029.05 343.78L1029.29 305.39L1029.52 270.81L1029.76 246.87L1030 238.33L1030.23 242.77L1030.46 255.42L1030.69 274.34L1030.92 296.67L1031.15 318.99L1031.38 337.91L1031.6 350.56L1031.83 355L1032.08 353.45L1032.33 348.95L1032.58 341.95L1032.83 333.12L1033.08 323.33L1033.33 313.55L1033.58 304.72L1033.83 297.71L1034.08 293.22L1034.33 291.67L1034.58 294.35L1034.83 301.67L1035.08 311.67L1035.33 321.67L1035.58 328.99L1035.83 331.67L1036.08 327.03L1036.33 315.83L1036.58 304.64L1036.83 300L1037.08 302.9L1037.33 310.83L1037.58 321.67L1037.83 332.5L1038.08 340.43L1038.33 343.33L1038.56 338.87L1038.78 326.67L1039 310L1039.22 293.33L1039.44 281.13L1039.67 276.67L1039.92 282.42L1040.17 298.12L1040.42 319.58L1040.67 341.04L1040.92 356.75L1041.17 362.5L1041.42 360.96L1041.67 356.5L1041.92 349.55L1042.17 340.79L1042.42 331.08L1042.67 321.38L1042.92 312.62L1043.17 305.67L1043.42 301.2L1043.67 299.67L1043.9 300.56L1044.13 303.17L1044.37 307.22L1044.6 312.33L1044.83 318L1045.07 323.67L1045.3 328.78L1045.53 332.83L1045.77 335.44L1046 336.33L1046.25 334.9L1046.5 331L1046.75 325.67L1047 320.33L1047.25 316.43L1047.5 315L1047.73 316.27L1047.97 319.61L1048.2 323.73L1048.43 327.06L1048.67 328.33L1048.92 326.38L1049.17 321.67L1049.42 316.95L1049.67 315L1049.88 317.07L1050.08 322.08L1050.29 327.09L1050.5 329.17L1050.71 327.09L1050.92 322.08L1051.12 317.07L1051.33 315L1051.58 316.95L1051.83 321.67L1052.08 326.38L1052.33 328.33L1052.57 327.26L1052.81 324.25L1053.05 319.91L1053.29 315.09L1053.52 310.75L1053.76 307.74L1054 306.67L1054.25 310.33L1054.5 319.17L1054.75 328.01L1055 331.67"/>
<path class="ln" stroke="rgb(50,205,50)" stroke-opacity="0.8" d="M1055 331.67L1055.22 333.87L1055.44 338.29L1055.67 340.5L1055.92 337.01L1056.17 328.58L1056.42 320.16L1056.67 316.67L1056.92 311.25L1057.17 305.83"/>
</g>
<rect class="sp" x="750.5" y="18.6" width="321.4" height="506.9"/>
<path class="sp" d="M765.1 525.5v2.6M804.5 525.5v2.6M844.2 525.5v2.6M883.6 525.5v2.6M923.4 525.5v2.6M962.7 525.5v2.6M1002.7 525.5v2.6M1041.9 525.5v2.6M750.5 40.45h-2.6M750.5 106.8h-2.6M750.5 173.15h-2.6M750.5 239.5h-2.6M750.5 305.85h-2.6M750.5 372.2h-2.6M750.5 438.55h-2.6M750.5 504.9h-2.6"/>
<text class="tk" x="765.3" y="536.3" text-anchor="middle" textLength="25.44" lengthAdjust="spacingAndGlyphs">2018−01</text>
<text class="tk" x="804.7" y="536.3" text-anchor="middle" textLength="25.44" lengthAdjust="spacingAndGlyphs">2018−07</text>
<text class="tk" x="844.4" y="536.3" text-anchor="middle" textLength="25.44" lengthAdjust="spacingAndGlyphs">2019−01</text>
<text class="tk" x="883.8" y="536.3" text-anchor="middle" textLength="25.44" lengthAdjust="spacingAndGlyphs">2019−07</text>
<text class="tk" x="923.6" y="536.3" text-anchor="middle" textLength="25.44" lengthAdjust="spacingAndGlyphs">2020−01</text>
<text class="tk" x="962.9" y="536.3" text-anchor="middle" textLength="25.44" lengthAdjust="spacingAndGlyphs">2020−07</text>
<text class="tk" x="1002.9" y="536.3" text-anchor="middle" textLength="25.44" lengthAdjust="spacingAndGlyphs">2021−01</text>
<text class="tk" x="1042.1" y="536.3" text-anchor="middle" textLength="25.44" lengthAdjust="spacingAndGlyphs">2021−07</text>
<text class="tk" x="744.9" y="43.25" text-anchor="end" textLength="18.1" lengthAdjust="spacingAndGlyphs">40000</text>
<text class="tk" x="744.9" y="109.6" text-anchor="end" textLength="18.1" lengthAdjust="spacingAndGlyphs">30000</text>
<text class="tk" x="744.9" y="175.95" text-anchor="end" textLength="18.1" lengthAdjust="spacingAndGlyphs">20000</text>
<text class="tk" x="744.9" y="242.3" text-anchor="end" textLength="18.1" lengthAdjust="spacingAndGlyphs">10000</text>
<text class="tk" x="744.9" y="308.65" text-anchor="end" textLength="3.22" lengthAdjust="spacingAndGlyphs">0</text>
<text class="tk" x="744.9" y="375" text-anchor="end" textLength="21.82" lengthAdjust="spacingAndGlyphs">−10000</text>
<text class="tk" x="744.9" y="441.35" text-anchor="end" textLength="21.82" lengthAdjust="spacingAndGlyphs">−20000</text>
<text class="tk" x="744.9" y="507.7" text-anchor="end" textLength="21.82" lengthAdjust="spacingAndGlyphs">−30000</text>
<text class="tt" x="911" y="14.1" text-anchor="middle" textLength="16.6" lengthAdjust="spacingAndGlyphs">IMF3</text>
<rect x="995.75" y="22.3" width="72.05" height="56.2" rx="1.5" ry="1.5" fill="#fff" fill-opacity="0.8" stroke="#ccc" stroke-opacity="0.8" stroke-width="0.75"/>
<path class="ln" stroke="rgb(0,0,255)" stroke-opacity="0.8" d="M998.65 28.75h16"/>
<text class="lg" x="1020.15" y="31.35">训练集</text>
<path class="ln" stroke="rgb(255,215,0)" stroke-opacity="0.8" d="M998.65 39.51h16"/>
<text class="lg" x="1020.15" y="42.11">验证集</text>
<path class="ln" stroke="rgb(255,0,0)" stroke-opacity="0.8" d="M998.65 50.27h16"/>
<text class="lg" x="1020.15" y="52.87">测试集</text>
<path class="ln" stroke="rgb(0,0,128)" stroke-opacity="0.8" d="M998.65 61.03h16"/>
<text class="lg" x="1020.15" y="63.63">测试集预测</text>
<path class="ln" stroke="rgb(50,205,50)" stroke-opacity="0.8" d="M998.65 71.79h16"/>
<text class="lg" x="1020.15" y="74.39">向后预测</text><text class="tk" x="1050.25" y="74.49" textLength="7" lengthAdjust="spacingAndGlyphs">10</text><text class="lg" x="1057.65" y="74.39">天</text>
</g>
<g id="ax4">
<clipPath id="cp4"><rect x="36" y="556.4" width="321.4" height="506.9"/></clipPath>
<path class="gr" d="M50.6 556.4V1063.3M90 556.4V1063.3M129.7 556.4V1063.3M169.1 556.4V1063.3M208.9 556.4V1063.3M248.2 556.4V1063.3M288.2 556.4V1063.3M327.4 556.4V1063.3M36 580.75H357.4M36 664.95H357.4M36 749.15H357.4M36 833.35H357.4M36 917.55H357.4M36 1001.75H357.4"/>
<g clip-path="url(#cp4)">
<path class="ln" stroke="rgb(0,0,255)" stroke-opacity="0.8" d="M50.33 878L50.57 873.82L50.81 862.12L51.05 845.22L51.29 826.45L51.52 809.54L51.76 797.84L52 793.67L52.24 796.26L52.48 803.73L52.72 815.17L52.96 829.2L53.2 844.13L53.44 858.17L53.69 869.61L53.93 877.07L54.17 879.67L54.4 877.59L54.64 871.48L54.88 861.78L55.11 849.12L55.35 834.39L55.58 818.58L55.82 802.77L56.06 788.04L56.29 775.39L56.53 765.68L56.76 759.58L57 757.5L57.24 759.61L57.48 765.85L57.72 776L57.96 789.65L58.2 806.28L58.44 825.25L58.68 845.84L58.92 867.25L59.16 888.66L59.4 909.25L59.64 928.22L59.88 944.85L60.11 958.5L60.35 968.65L60.59 974.89L60.83 977L61.08 976.04L61.32 973.17L61.57 968.42L61.81 961.84L62.06 953.48L62.3 943.43L62.55 931.79L62.79 918.67L63.04 904.18L63.28 888.48L63.53 871.72L63.77 854.05L64.02 835.65L64.26 816.69L64.51 797.36L64.75 777.83L64.99 758.31L65.24 738.98L65.48 720.02L65.73 701.62L65.97 683.95L66.22 667.18L66.46 651.48L66.71 637L66.95 623.88L67.2 612.23L67.44 602.18L67.69 593.83L67.93 587.24L68.18 582.49L68.42 579.63L68.67 578.67L68.91 579.65L69.16 582.59L69.4 587.47L69.65 594.24L69.89 602.85L70.14 613.22L70.38 625.26L70.63 638.87L70.87 653.93L71.12 670.33L71.36 687.9L71.61 706.52L71.85 726.01L72.1 746.21L72.34 766.95L72.59 788.05L72.83 809.33L73.08 830.62L73.32 851.72L73.57 872.46L73.81 892.66L74.06 912.15L74.3 930.76L74.55 948.34L74.79 964.73L75.04 979.8L75.28 993.41L75.53 1005.45L75.77 1015.82L76.02 1024.42L76.26 1031.19L76.51 1036.07L76.75 1039.02L77 1040L77.24 1037.96L77.48 1031.88L77.73 1021.91L77.97 1008.3L78.21 991.38L78.45 971.57L78.69 949.36L78.93 925.3L79.18 899.97L79.42 874L79.66 848.03L79.9 822.7L80.14 798.64L80.38 776.43L80.62 756.62L80.87 739.7L81.11 726.09L81.35 716.12L81.59 710.04L81.83 708L82.07 709.92L82.31 715.59L82.55 724.81L82.79 737.22L83.03 752.33L83.27 769.58L83.51 788.29L83.75 807.75L83.99 827.21L84.23 845.92L84.47 863.17L84.71 878.28L84.95 890.69L85.19 899.91L85.43 905.58L85.67 907.5L85.92 906.17L86.17 902.24L86.42 895.84L86.67 887.24L86.92 876.76L87.17 864.8L87.42 851.83L87.67 838.33L87.92 824.84L88.17 811.86L88.42 799.91L88.67 789.43L88.92 780.82L89.17 774.43L89.42 770.5L89.67 769.17L89.91 770.55L90.15 774.67L90.39 781.34L90.62 790.33L90.86 801.28L91.1 813.77L91.34 827.32L91.58 841.42L91.82 855.51L92.06 869.07L92.3 881.56L92.54 892.51L92.78 901.49L93.02 908.17L93.26 912.28L93.5 913.67L93.75 911.63L94 905.62L94.25 895.94L94.5 883.08L94.75 867.67L95 850.5L95.25 832.42L95.5 814.34L95.75 797.16L96 781.76L96.25 768.89L96.5 759.21L96.75 753.2L97 751.17L97.25 754.73L97.5 765.06L97.75 781.16L98 801.44L98.25 823.92L98.5 846.4L98.75 866.68L99 882.77L99.25 893.11L99.5 896.67L99.75 892.69L100 881.36L100.25 864.41L100.5 844.42L100.75 824.42L101 807.47L101.25 796.14L101.5 792.17L101.73 794.56L101.96 801.37L102.19 811.56L102.42 823.58L102.65 835.61L102.88 845.8L103.1 852.61L103.33 855L103.56 853.86L103.79 850.61L104.02 845.74L104.25 840L104.48 834.26L104.71 829.39L104.94 826.14L105.17 825L105.39 825.76L105.61 827.83L105.83 830.67L106.06 833.5L106.28 835.57L106.5 836.33L106.74 836.04L106.98 835.2L107.21 834L107.45 832.67L107.69 831.46L107.93 830.63L108.17 830.33L108.42 830.65L108.67 831.57L108.92 833.01L109.17 834.82L109.42 836.83L109.67 838.84L109.92 840.65L110.17 842.09L110.42 843.02L110.67 843.33L110.91 842.65L111.15 840.66L111.39 837.52L111.64 833.49L111.88 828.9L112.12 824.1L112.36 819.51L112.61 815.48L112.85 812.34L113.09 810.35L113.33 809.67L113.58 810.78L113.82 814.03L114.06 819.16L114.3 825.74L114.55 833.25L114.79 841.08L115.03 848.59L115.27 855.18L115.52 860.3L115.76 863.55L116 864.67L116.23 863.24L116.47 859.08L116.7 852.61L116.93 844.46L117.17 835.42L117.4 826.38L117.63 818.22L117.87 811.75L118.1 807.6L118.33 806.17L118.57 808.4L118.81 814.67L119.05 823.72L119.29 833.78L119.52 842.83L119.76 849.1L120 851.33L120.25 849.46L120.5 844.33L120.75 837.33L121 830.33L121.25 825.21L121.5 823.33L121.74 823.98L121.98 825.83L122.22 828.67L122.46 832.15L122.7 835.85L122.94 839.33L123.19 842.17L123.43 844.02L123.67 844.67L123.9 843.57L124.13 840.4L124.37 835.46L124.6 829.23L124.83 822.33L125.07 815.43L125.3 809.21L125.53 804.27L125.77 801.09L126 800L126.24 801.44L126.48 805.69L126.71 812.54L126.95 821.65L127.19 832.55L127.43 844.71L127.67 857.5L127.9 870.29L128.14 882.45L128.38 893.35L128.62 902.46L128.86 909.31L129.1 913.56L129.33 915L129.58 912.44L129.83 904.87L130.08 892.69L130.33 876.5L130.58 857.11L130.83 835.5L131.08 812.75L131.33 790L131.58 768.39L131.83 749L132.08 732.81L132.33 720.63L132.58 713.06L132.83 710.5L133.08 712.07L133.32 716.75L133.57 724.41L133.82 734.84L134.06 747.75L134.31 762.79L134.55 779.55L134.8 797.58L135.04 816.39L135.29 835.45L135.54 854.25L135.78 872.28L136.03 889.04L136.27 904.09L136.52 917L136.76 927.42L137.01 935.08L137.25 939.76L137.5 941.33L137.74 939.21L137.98 932.95L138.21 922.86L138.45 909.46L138.69 893.4L138.93 875.51L139.17 856.67L139.4 837.83L139.64 819.93L139.88 803.88L140.12 790.47L140.36 780.38L140.6 774.12L140.83 772L141.07 775.01L141.31 783.66L141.56 796.92L141.8 813.18L142.04 830.49L142.28 846.75L142.52 860.01L142.76 868.66L143 871.67L143.24 870.49L143.47 867.06L143.71 861.59L143.94 854.46L144.18 846.16L144.42 837.25L144.65 828.34L144.89 820.04L145.12 812.91L145.36 807.44L145.6 804.01L145.83 802.83L146.08 803.93L146.32 807.16L146.56 812.33L146.81 819.14L147.05 827.2L147.29 836.03L147.54 845.13L147.78 853.97L148.03 862.03L148.27 868.84L148.51 874.01L148.76 877.24L149 878.33L149.24 877.26L149.49 874.08L149.73 868.94L149.98 862.07L150.22 853.75L150.47 844.36L150.71 834.31L150.96 824.03L151.2 813.97L151.44 804.58L151.69 796.27L151.93 789.39L152.18 784.25L152.42 781.07L152.67 780L152.9 781.24L153.14 784.89L153.38 790.76L153.62 798.57L153.86 807.93L154.1 818.36L154.33 829.33L154.57 840.31L154.81 850.74L155.05 860.09L155.29 867.9L155.52 873.78L155.76 877.43L156 878.67L156.24 876.78L156.48 871.26L156.73 862.56L156.97 851.39L157.21 838.64L157.45 825.36L157.7 812.61L157.94 801.44L158.18 792.74L158.42 787.22L158.67 785.33L158.91 788.88L159.15 799.1L159.39 814.75L159.63 833.95L159.87 854.38L160.11 873.58L160.35 889.24L160.59 899.45L160.83 903L161.06 896.46L161.29 877.84L161.52 849.96L161.75 817.08L161.98 784.2L162.21 756.33L162.44 737.71L162.67 731.17L162.9 736.95L163.13 753.73L163.37 779.88L163.6 812.82L163.83 849.33L164.07 885.85L164.3 918.79L164.53 944.93L164.77 961.72L165 967.5L165.23 960.93L165.47 941.88L165.7 912.19L165.93 874.79L166.17 833.33L166.4 791.87L166.63 754.47L166.87 724.79L167.1 705.73L167.33 699.17L167.57 704.93L167.8 721.64L168.03 747.67L168.27 780.47L168.5 816.83L168.73 853.19L168.97 886L169.2 912.03L169.43 928.74L169.67 934.5L169.91 931.4L170.15 922.34L170.39 908.07L170.64 889.73L170.88 868.82L171.12 847.02L171.36 826.1L171.61 807.77L171.85 793.49L172.09 784.44L172.33 781.33L172.57 782.14L172.81 784.5L173.05 788.31L173.29 793.38L173.52 799.45L173.76 806.21L174 813.33L174.24 820.45L174.48 827.22L174.71 833.29L174.95 838.35L175.19 842.16L175.43 844.53L175.67 845.33L175.9 844.87L176.13 843.52L176.37 841.42L176.6 838.77L176.83 835.83L177.07 832.9L177.3 830.25L177.53 828.15L177.77 826.8L178 826.33L178.24 826.91L178.48 828.58L178.73 831.22L178.97 834.61L179.21 838.48L179.45 842.52L179.7 846.39L179.94 849.78L180.18 852.42L180.42 854.09L180.67 854.67L180.9 853.21L181.13 848.97L181.37 842.37L181.6 834.05L181.83 824.83L182.07 815.61L182.3 807.3L182.53 800.7L182.77 796.46L183 795L183.25 798.63L183.5 808.96L183.75 824.43L184 842.67L184.25 860.91L184.5 876.37L184.75 886.7L185 890.33L185.25 885.44L185.5 871.49L185.75 850.62L186 826L186.25 801.38L186.5 780.51L186.75 766.56L187 761.67L187.25 767.41L187.5 783.76L187.75 808.22L188 837.08L188.25 865.94L188.5 890.41L188.75 906.76L189 912.5L189.24 909.99L189.47 902.62L189.71 890.9L189.94 875.62L190.18 857.84L190.42 838.75L190.65 819.66L190.89 801.88L191.12 786.6L191.36 774.88L191.6 767.51L191.83 765L192.08 766.43L192.32 770.65L192.56 777.41L192.81 786.31L193.05 796.84L193.29 808.39L193.54 820.28L193.78 831.83L194.03 842.36L194.27 851.26L194.51 858.02L194.76 862.23L195 863.67L195.25 862.86L195.5 860.53L195.75 856.9L196 852.32L196.25 847.25L196.5 842.18L196.75 837.6L197 833.97L197.25 831.64L197.5 830.83L197.73 831.04L197.97 831.58L198.2 832.25L198.43 832.79L198.67 833L198.89 832.74L199.11 832.04L199.33 831.08L199.56 830.12L199.78 829.42L200 829.17L200.24 829.84L200.48 831.81L200.73 834.92L200.97 838.91L201.21 843.46L201.45 848.21L201.7 852.76L201.94 856.75L202.18 859.85L202.42 861.82L202.67 862.5L202.92 861.91L203.17 860.13L203.42 857.2L203.67 853.16L203.92 848.07L204.17 842L204.42 835.04L204.67 827.3L204.92 818.87L205.17 809.9L205.42 800.5L205.67 790.82L205.92 781L206.17 771.18L206.42 761.5L206.67 752.1L206.92 743.13L207.17 734.7L207.42 726.96L207.67 720L207.92 713.93L208.17 708.84L208.42 704.8L208.67 701.87L208.92 700.09L209.17 699.5L209.41 700.62L209.65 703.95L209.9 709.45L210.14 717.04L210.38 726.61L210.63 738.02L210.87 751.1L211.12 765.66L211.36 781.49L211.6 798.35L211.85 816.01L212.09 834.2L212.33 852.67L212.58 871.13L212.82 889.32L213.06 906.98L213.31 923.85L213.55 939.68L213.79 954.23L214.04 967.31L214.28 978.72L214.53 988.29L214.77 995.88L215.01 1001.38L215.26 1004.72L215.5 1005.83L215.75 1005.31L215.99 1003.74L216.24 1001.13L216.48 997.51L216.73 992.9L216.97 987.33L217.22 980.86L217.46 973.53L217.71 965.39L217.95 956.51L218.2 946.95L218.44 936.79L218.69 926.11L218.94 914.98L219.18 903.49L219.43 891.73L219.67 879.78L219.92 867.75L220.16 855.72L220.41 843.77L220.65 832.01L220.9 820.52L221.14 809.39L221.39 798.71L221.63 788.55L221.88 778.99L222.12 770.11L222.37 761.97L222.62 754.64L222.86 748.17L223.11 742.6L223.35 737.99L223.6 734.37L223.84 731.76L224.09 730.19L224.33 729.67L224.58 730.61L224.83 733.44L225.08 738.06L225.33 744.37L225.58 752.22L225.83 761.41L226.08 771.71L226.33 782.87L226.58 794.62L226.83 806.67L227.08 818.71L227.33 830.46L227.58 841.62L227.83 851.93L228.08 861.11L228.33 868.96L228.58 875.27L228.83 879.9L229.08 882.72L229.33 883.67L229.58 881.98L229.82 877.05L230.06 869.29L230.3 859.31L230.55 847.93L230.79 836.07L231.03 824.69L231.27 814.71L231.52 806.95L231.76 802.02L232 800.33L232.25 801.8L232.5 806.06L232.75 812.7L233 821.06L233.25 830.33L233.5 839.6L233.75 847.97L234 854.6L234.25 858.87L234.5 860.33L234.74 859.36L234.97 856.52L235.21 851.99L235.44 846.08L235.68 839.21L235.92 831.83L236.15 824.46L236.39 817.58L236.62 811.68L236.86 807.15L237.1 804.3L237.33 803.33L237.58 804.28L237.82 807.06L238.06 811.51L238.31 817.37L238.55 824.31L238.79 831.92L239.04 839.75L239.28 847.36L239.53 854.3L239.77 860.16L240.01 864.61L240.26 867.39L240.5 868.33L240.74 867.8L240.98 866.2L241.22 863.59L241.46 860.05L241.7 855.68L241.94 850.62L242.19 845.03L242.43 839.07L242.67 832.92L242.91 826.77L243.15 820.8L243.39 815.21L243.63 810.15L243.87 805.79L244.11 802.24L244.35 799.64L244.59 798.04L244.83 797.5L245.08 798.87L245.32 802.86L245.56 809.15L245.8 817.23L246.05 826.45L246.29 836.05L246.53 845.27L246.77 853.35L247.02 859.64L247.26 863.63L247.5 865L247.74 864.04L247.97 861.23L248.21 856.75L248.44 850.92L248.68 844.12L248.92 836.83L249.15 829.54L249.39 822.75L249.62 816.92L249.86 812.44L250.1 809.63L250.33 808.67L250.61 810.28L250.89 811.8L251.17 813.22L251.44 814.52L251.72 815.67L252 816.67L252.28 817.56L252.56 818.39L252.83 819.15L253.11 819.83L253.39 820.39L253.67 820.83"/>
<path class="ln" stroke="rgb(255,215,0)" stroke-opacity="0.8" d="M253.68 818.83L253.92 821.56L254.16 824.51L254.4 827.58L254.64 830.66L254.88 833.61L255.12 836.33L255.37 838.72L255.61 840.68L255.85 842.13L256.09 843.03L256.33 843.33L256.58 843.13L256.83 842.54L257.08 841.58L257.33 840.28L257.58 838.7L257.83 836.9L258.08 834.95L258.33 832.92L258.58 830.88L258.83 828.93L259.08 827.13L259.33 825.55L259.58 824.26L259.83 823.29L260.08 822.7L260.33 822.5L260.57 823.4L260.81 826.01L261.06 830L261.3 834.9L261.54 840.1L261.78 845L262.02 848.99L262.26 851.6L262.5 852.5L262.75 851.64L263 849.12L263.25 845.1L263.5 839.88L263.75 833.79L264 827.25L264.25 820.71L264.5 814.62L264.75 809.4L265 805.38L265.25 802.86L265.5 802L265.74 803.29L265.97 807.06L266.21 813.06L266.44 820.88L266.68 829.98L266.92 839.75L267.15 849.52L267.39 858.62L267.62 866.44L267.86 872.44L268.1 876.21L268.33 877.5L268.58 876.54L268.82 873.7L269.07 869.1L269.31 862.94L269.56 855.5L269.8 847.1L270.04 838.1L270.29 828.9L270.53 819.9L270.78 811.5L271.02 804.06L271.27 797.9L271.51 793.3L271.76 790.46L272 789.5L272.24 790.17L272.48 792.17L272.72 795.41L272.96 799.78L273.2 805.09L273.44 811.16L273.68 817.74L273.92 824.58L274.16 831.43L274.4 838.01L274.64 844.07L274.88 849.39L275.11 853.75L275.35 857L275.59 858.99L275.83 859.67L276.08 859.23L276.33 857.93L276.58 855.85L276.83 853.08L277.08 849.76L277.33 846.06L277.58 842.17L277.83 838.27L278.08 834.57L278.33 831.26L278.58 828.48L278.83 826.4L279.08 825.11L279.33 824.67L279.58 825.28L279.83 827.03L280.08 829.66L280.33 832.75L280.58 835.84L280.83 838.47L281.08 840.22L281.33 840.83L282.3 833.3"/>
<path class="ln" stroke="rgb(255,0,0)" stroke-opacity="0.8" d="M282.51 836.13L282.75 832.23L282.99 827.95L283.23 823.44L283.47 818.86L283.71 814.35L283.95 810.07L284.19 806.17L284.44 802.79L284.68 800.02L284.92 797.98L285.16 796.72L285.4 796.3L285.65 798.51L285.89 804.97L286.14 815.14L286.38 828.22L286.63 843.13L286.87 858.67L287.12 873.58L287.36 886.66L287.61 896.83L287.85 903.29L288.1 905.5L288.34 903.03L288.59 895.74L288.83 883.99L289.07 868.38L289.31 849.68L289.56 828.84L289.8 806.9L290.04 784.96L290.29 764.12L290.53 745.42L290.77 729.81L291.01 718.06L291.26 710.77L291.5 708.3L291.75 709.55L292 713.27L292.25 719.4L292.5 727.84L292.75 738.44L293 751.02L293.25 765.36L293.5 781.22L293.75 798.34L294 816.4L294.25 835.11L294.5 854.15L294.75 873.19L295 891.9L295.25 909.96L295.5 927.07L295.75 942.94L296 957.28L296.25 969.86L296.5 980.46L296.75 988.9L297 995.03L297.25 998.75L297.5 1000L297.74 997.81L297.98 991.28L298.23 980.61L298.47 966.07L298.71 948.07L298.95 927.1L299.19 903.73L299.44 878.6L299.68 852.39L299.92 825.81L300.16 799.6L300.41 774.47L300.65 751.1L300.89 730.13L301.13 712.13L301.37 697.59L301.62 686.92L301.86 680.39L302.1 678.2L302.35 679.22L302.59 682.25L302.84 687.25L303.08 694.15L303.33 702.85L303.58 713.22L303.82 725.11L304.07 738.35L304.32 752.74L304.56 768.07L304.81 784.13L305.05 800.67L305.3 817.45L305.55 834.23L305.79 850.77L306.04 866.83L306.28 882.16L306.53 896.55L306.78 909.79L307.02 921.68L307.27 932.05L307.52 940.75L307.76 947.65L308.01 952.65L308.25 955.68L308.5 956.7L308.75 951.67L309 936.98L309.25 913.83L309.5 884.09L309.75 850.18L310 814.82L310.25 780.91L310.5 751.17L310.75 728.02L311 713.33L311.25 708.3L311.5 713.55L311.75 728.87L312 753.03L312.25 784.06L312.5 819.46L312.75 856.34L313 891.74L313.25 922.77L313.5 946.93L313.75 962.25L314 967.5L314.24 963.51L314.48 951.79L314.72 933.01L314.95 908.26L315.19 878.98L315.43 846.88L315.67 813.82L315.91 781.72L316.15 752.44L316.38 727.69L316.62 708.91L316.86 697.19L317.1 693.2L317.35 694.15L317.6 696.99L317.84 701.67L318.09 708.11L318.34 716.22L318.59 725.87L318.84 736.91L319.08 749.16L319.33 762.42L319.58 776.5L319.83 791.16L320.08 806.18L320.32 821.32L320.57 836.34L320.82 851L321.07 865.08L321.32 878.34L321.56 890.59L321.81 901.63L322.06 911.28L322.31 919.39L322.56 925.83L322.8 930.51L323.05 933.35L323.3 934.3L323.55 932.32L323.8 926.47L324.05 917.04L324.3 904.52L324.55 889.52L324.8 872.8L325.05 855.2L325.3 837.6L325.55 820.88L325.8 805.88L326.05 793.36L326.3 783.93L326.55 778.08L326.8 776.1L327.05 777.29L327.29 780.81L327.54 786.44L327.78 793.85L328.03 802.63L328.28 812.25L328.52 822.15L328.77 831.77L329.02 840.55L329.26 847.96L329.51 853.59L329.75 857.11L330 858.3L330.24 857.76L330.48 856.15L330.72 853.58L330.95 850.2L331.19 846.2L331.43 841.81L331.67 837.29L331.91 832.9L332.15 828.9L332.38 825.52L332.62 822.95L332.86 821.34L333.1 820.8L333.33 821.4L333.56 823.15L333.79 825.87L334.02 829.3L334.25 833.1L334.48 836.9L334.71 840.33L334.94 843.05L335.17 844.8L335.4 845.4L335.64 845.08L335.88 844.14L336.12 842.63L336.36 840.62L336.6 838.21L336.84 835.53L337.07 832.7L337.31 829.87L337.55 827.19L337.79 824.78L338.03 822.77L338.27 821.26L338.51 820.32L338.75 820L339 820.2L339.25 820.79L339.5 821.73L339.75 822.92L340 824.29L340.25 825.71L340.5 827.08L340.75 828.27"/>
<path class="ln" stroke="rgb(0,0,128)" stroke-opacity="0.8" d="M285.6 814.2L285.85 816.9L286.1 824.74L286.35 836.95L286.6 852.34L286.85 869.4L287.1 886.46L287.35 901.85L287.6 914.06L287.85 921.9L288.1 924.6L288.34 922.05L288.59 914.51L288.83 902.37L289.07 886.23L289.31 866.91L289.56 845.37L289.8 822.7L290.04 800.03L290.29 778.49L290.53 759.17L290.77 743.03L291.01 730.89L291.26 723.35L291.5 720.8L291.75 722.07L292 725.84L292.25 732.06L292.5 740.62L292.75 751.37L293 764.13L293.25 778.68L293.5 794.77L293.75 812.13L294 830.46L294.25 849.44L294.5 868.75L294.75 888.06L295 907.04L295.25 925.37L295.5 942.73L295.75 958.82L296 973.37L296.25 986.13L296.5 996.88L296.75 1005.44L297 1011.66L297.25 1015.43L297.5 1016.7L297.74 1014.7L297.98 1008.76L298.22 999.01L298.46 985.7L298.7 969.16L298.94 949.8L299.18 928.08L299.42 904.55L299.66 879.79L299.9 854.4L300.14 829.01L300.38 804.25L300.62 780.72L300.86 759L301.1 739.64L301.34 723.1L301.58 709.79L301.82 700.04L302.06 694.1L302.3 692.1L302.55 693.17L302.8 696.38L303.04 701.67L303.29 708.95L303.54 718.12L303.79 729.03L304.04 741.5L304.28 755.34L304.53 770.34L304.78 786.25L305.03 802.82L305.28 819.79L305.52 836.91L305.77 853.88L306.02 870.45L306.27 886.36L306.52 901.36L306.76 915.2L307.01 927.67L307.26 938.58L307.51 947.75L307.76 955.03L308 960.32L308.25 963.53L308.5 964.6L308.74 960.56L308.98 948.72L309.23 929.88L309.47 905.33L309.71 876.73L309.95 846.05L310.19 815.37L310.43 786.78L310.67 762.22L310.92 743.38L311.16 731.54L311.4 727.5L311.64 732.82L311.87 748.34L312.11 772.8L312.35 804.23L312.58 840.07L312.82 877.43L313.05 913.27L313.29 944.7L313.53 969.16L313.76 984.68L314 990L314.24 986.03L314.48 974.35L314.72 955.63L314.95 930.98L315.19 901.81L315.43 869.82L315.67 836.88L315.91 804.89L316.15 775.72L316.38 751.07L316.62 732.35L316.86 720.67L317.1 716.7L317.3 721.83L317.5 728.45L317.7 736.31L317.9 745.21L318.1 754.92L318.3 765.68L318.5 779.58L318.7 795.52L318.9 811.81L319.1 826.81L319.3 839.15L319.5 849.92L319.7 859.98L319.9 870L320.1 882.48L320.3 893.22L320.5 894.25L320.7 890.7L320.9 888.1L321.1 888.1L321.3 891.98L321.5 897.44L321.7 902.56L321.9 908.53L322.1 914.71L322.3 920.01L322.5 923.67L322.7 926.82L322.9 929.54L323.1 931.63L323.3 932.9L323.55 930.98L323.8 925.33L324.05 916.22L324.3 904.12L324.55 889.62L324.8 873.46L325.05 856.45L325.3 839.44L325.55 823.28L325.8 808.78L326.05 796.68L326.3 787.57L326.55 781.92L326.8 780L327.05 781.38L327.29 785.44L327.54 791.9L327.78 800.31L328.03 810.11L328.27 820.62L328.52 831.14L328.77 840.94L329.01 849.35L329.26 855.81L329.5 859.87L329.75 861.25L329.99 860.75L330.23 859.28L330.47 856.91L330.71 853.77L330.95 850L331.19 845.8L331.43 841.38L331.66 836.95L331.9 832.75L332.14 828.98L332.38 825.84L332.62 823.47L332.86 822L333.1 821.5L333.33 822.06L333.56 823.7L333.79 826.24L334.02 829.45L334.25 833L334.48 836.55L334.71 839.76L334.94 842.3L335.17 843.94L335.4 844.5L335.64 844.19L335.88 843.29L336.12 841.83L336.35 839.92L336.59 837.66L336.83 835.18L337.07 832.62L337.31 830.14L337.55 827.88L337.78 825.97L338.02 824.51L338.26 823.61L338.5 823.3L339 825.5L339.6 829.2L340.1 828L340.4 827.5L340.7 830"/>
<path class="ln" stroke="rgb(50,205,50)" stroke-opacity="0.8" d="M340.7 830L340.97 834.11L341.25 837.71L341.52 840.5L341.8 842.23L342.07 843.6L342.35 844.74L342.62 845.51L342.9 845.8"/>
</g>
<rect class="sp" x="36" y="556.4" width="321.4" height="506.9"/>
<path class="sp" d="M50.6 1063.3v2.6M90 1063.3v2.6M129.7 1063.3v2.6M169.1 1063.3v2.6M208.9 1063.3v2.6M248.2 1063.3v2.6M288.2 1063.3v2.6M327.4 1063.3v2.6M36 580.75h-2.6M36 664.95h-2.6M36 749.15h-2.6M36 833.35h-2.6M36 917.55h-2.6M36 1001.75h-2.6"/>
<text class="tk" x="50.8" y="1074.1" text-anchor="middle" textLength="25.44" lengthAdjust="spacingAndGlyphs">2018−01</text>
<text class="tk" x="90.2" y="1074.1" text-anchor="middle" textLength="25.44" lengthAdjust="spacingAndGlyphs">2018−07</text>
<text class="tk" x="129.9" y="1074.1" text-anchor="middle" textLength="25.44" lengthAdjust="spacingAndGlyphs">2019−01</text>
<text class="tk" x="169.3" y="1074.1" text-anchor="middle" textLength="25.44" lengthAdjust="spacingAndGlyphs">2019−07</text>
<text class="tk" x="209.1" y="1074.1" text-anchor="middle" textLength="25.44" lengthAdjust="spacingAndGlyphs">2020−01</text>
<text class="tk" x="248.4" y="1074.1" text-anchor="middle" textLength="25.44" lengthAdjust="spacingAndGlyphs">2020−07</text>
<text class="tk" x="288.4" y="1074.1" text-anchor="middle" textLength="25.44" lengthAdjust="spacingAndGlyphs">2021−01</text>
<text class="tk" x="327.6" y="1074.1" text-anchor="middle" textLength="25.44" lengthAdjust="spacingAndGlyphs">2021−07</text>
<text class="tk" x="30.4" y="583.55" text-anchor="end" textLength="18.1" lengthAdjust="spacingAndGlyphs">30000</text>
<text class="tk" x="30.4" y="667.75" text-anchor="end" textLength="18.1" lengthAdjust="spacingAndGlyphs">20000</text>
<text class="tk" x="30.4" y="751.95" text-anchor="end" textLength="18.1" lengthAdjust="spacingAndGlyphs">10000</text>
<text class="tk" x="30.4" y="836.15" text-anchor="end" textLength="3.22" lengthAdjust="spacingAndGlyphs">0</text>
<text class="tk" x="30.4" y="920.35" text-anchor="end" textLength="21.82" lengthAdjust="spacingAndGlyphs">−10000</text>
<text class="tk" x="30.4" y="1004.55" text-anchor="end" textLength="21.82" lengthAdjust="spacingAndGlyphs">−20000</text>
<text class="tt" x="196.5" y="551.9" text-anchor="middle" textLength="16.6" lengthAdjust="spacingAndGlyphs">IMF4</text>
<rect x="281.25" y="560.1" width="72.05" height="56.2" rx="1.5" ry="1.5" fill="#fff" fill-opacity="0.8" stroke="#ccc" stroke-opacity="0.8" stroke-width="0.75"/>
<path class="ln" stroke="rgb(0,0,255)" stroke-opacity="0.8" d="M284.15 566.55h16"/>
<text class="lg" x="305.65" y="569.15">训练集</text>
<path class="ln" stroke="rgb(255,215,0)" stroke-opacity="0.8" d="M284.15 577.31h16"/>
<text class="lg" x="305.65" y="579.91">验证集</text>
<path class="ln" stroke="rgb(255,0,0)" stroke-opacity="0.8" d="M284.15 588.07h16"/>
<text class="lg" x="305.65" y="590.67">测试集</text>
<path class="ln" stroke="rgb(0,0,128)" stroke-opacity="0.8" d="M284.15 598.83h16"/>
<text class="lg" x="305.65" y="601.43">测试集预测</text>
<path class="ln" stroke="rgb(50,205,50)" stroke-opacity="0.8" d="M284.15 609.59h16"/>
<text class="lg" x="305.65" y="612.19">向后预测</text><text class="tk" x="335.75" y="612.29" textLength="7" lengthAdjust="spacingAndGlyphs">10</text><text class="lg" x="343.15" y="612.19">天</text>
</g>
<g id="ax5">
<clipPath id="cp5"><rect x="393.3" y="556.4" width="321.4" height="506.9"/></clipPath>
<path class="gr" d="M407.9 556.4V1063.3M447.3 556.4V1063.3M487 556.4V1063.3M526.4 556.4V1063.3M566.2 556.4V1063.3M605.5 556.4V1063.3M645.5 556.4V1063.3M684.7 556.4V1063.3M393.3 600.6H714.7M393.3 657H714.7M393.3 713.4H714.7M393.3 769.8H714.7M393.3 826.2H714.7M393.3 882.6H714.7M393.3 939H714.7M393.3 995.4H714.7M393.3 1051.8H714.7"/>
<g clip-path="url(#cp5)">
<path class="ln" stroke="rgb(0,0,255)" stroke-opacity="0.8" d="M407.83 678.67L408.13 671.61L408.43 663.33L408.73 653.99L409.03 642.95L409.33 630.65L409.63 618.06L409.93 604.12L410.23 591.06L410.53 584.33L410.83 579.96L411.13 579.47L411.43 582.1L411.73 586.68L412.03 592.32L412.33 601.73L412.63 615.11L412.93 630.12L413.23 648.49L413.53 668.81L413.83 689.83L414.13 713.57L414.43 742.78L414.73 777.57L415.03 821.63L415.33 859.77L415.63 884.05L415.93 903.57L416.23 920.82L416.53 937.81L416.83 953.98L417.13 968.89L417.43 982.18L417.73 994.11L418.03 1005.44L418.33 1015.26L418.63 1022.64L418.93 1028.05L419.23 1033L419.53 1036.94L419.83 1039.28L420.13 1039.43L420.43 1037.29L420.73 1033.46L421.03 1028.61L421.33 1023.41L421.63 1017.12L421.93 1008.95L422.23 999.54L422.53 989.59L422.83 979.48L423.13 968.41L423.43 956.58L423.73 944.38L424.03 932.19L424.33 920.27L424.63 908.19L424.93 896L425.23 883.85L425.53 871.88L425.83 860.23L426.13 848.62L426.43 836.81L426.73 824.98L427.03 813.33L427.33 802.05L427.63 791.34L427.93 781.4L428.23 772.42L428.53 764.43L428.83 756.95L429.13 750L429.43 743.64L429.73 737.93L430.03 732.93L430.33 728.36L430.63 724.08L430.93 720.2L431.23 716.82L431.53 714.06L431.83 711.93L432.13 710.03L432.43 708.35L432.73 706.92L433.03 705.79L433.32 705.02L433.62 704.46L433.92 703.95L434.22 703.53L434.52 703.21L434.82 703.03L435.12 703.03L435.42 703.36L435.72 703.99L436.02 704.9L436.32 706.01L436.62 707.3L436.92 709.32L437.22 712.76L437.52 717.18L437.82 722.08L438.12 727.11L438.42 732.9L438.72 739.45L439.02 746.51L439.32 753.88L439.62 761.67L439.92 770.15L440.22 779.57L440.52 790.63L440.82 804.33L441.12 819.16L441.42 833.39L441.72 845.33L442.02 855.69L442.32 865.33L442.62 874.32L442.92 882.7L443.22 890.54L443.52 898.04L443.82 905.57L444.12 912.79L444.42 919.29L444.72 924.68L445.02 928.55L445.32 931.63L445.62 934.31L445.92 936.14L446.22 936.64L446.52 935.5L446.82 932.99L447.12 929.51L447.42 925.23L447.72 917.24L448.02 906.11L448.32 893.87L448.62 881.26L448.92 866.51L449.22 847.78L449.52 816.45L449.82 782.88L450.12 763.96L450.42 753.07L450.72 744.67L451.02 736.68L451.32 729.18L451.62 723.86L451.92 720.92L452.22 718.57L452.52 717.19L452.82 717.29L453.12 719.38L453.42 722.97L453.72 727.61L454.02 737.32L454.32 750.62L454.62 762.68L454.92 772.87L455.22 785.33L455.52 809.1L455.82 842.23L456.12 860.02L456.42 873.53L456.72 884.19L457.02 894.4L457.32 903.59L457.62 909.8L457.92 911.14L458.22 907.7L458.52 901.32L458.82 893.75L459.12 883.84L459.42 870.79L459.72 858.07L460.02 847.88L460.32 836.47L460.62 814.74L460.92 789.01L461.22 781.88L461.52 777.86L461.82 775.73L462.12 774.18L462.42 773.38L462.72 773.81L463.02 775.67L463.32 778.18L463.62 781.24L463.91 785.45L464.21 790.72L464.51 797.01L464.81 807.78L465.11 820.55L465.41 827.96L465.71 832.15L466.01 835.46L466.31 837.97L466.61 839.76L466.91 841.07L467.21 842.1L467.51 842.5L467.81 841.8L468.11 840.2L468.41 838.23L468.71 836.4L469.01 834.53L469.31 832.5L469.61 830.5L469.91 828.76L470.21 827.32L470.51 825.92L470.81 824.67L471.11 823.74L471.41 823.24L471.71 822.92L472.01 822.67L472.31 822.53L472.61 822.56L472.91 823.22L473.21 824.41L473.51 825.88L473.81 827.52L474.11 829.93L474.41 832.84L474.71 835.81L475.01 838.42L475.31 840.76L475.61 843.06L475.91 845.16L476.21 846.92L476.51 848.3L476.81 849.64L477.11 850.72L477.41 851.3L477.71 851.16L478.01 850.38L478.31 849.18L478.61 847.76L478.91 846.28L479.21 844.47L479.51 842.26L479.81 839.75L480.11 837.06L480.41 834.3L480.71 831.62L481.01 828.76L481.31 825.33L481.61 820.97L481.91 814.01L482.21 802.87L482.51 789.69L482.81 776.68L483.11 765.8L483.41 755.69L483.71 746.08L484.01 737.39L484.31 729.94L484.61 723.14L484.91 717.04L485.21 711.85L485.51 707.59L485.81 703.77L486.11 700.71L486.41 698.79L486.71 697.39L487.01 696.48L487.31 696.54L487.61 698.14L487.91 700.76L488.21 704.6L488.51 711.24L488.81 719.27L489.11 728.61L489.41 739.84L489.71 751.45L490.01 758.8L490.31 766.93L490.61 785.71L490.91 871.82L491.21 892.49L491.51 903.19L491.81 917.03L492.11 931.22L492.41 944.06L492.71 955.53L493.01 965.87L493.31 975.69L493.61 983.93L493.91 989.41L494.21 993.52L494.5 995.33L494.8 993.54L495.1 989.19L495.4 983.44L495.7 973.22L496 959.45L496.3 944.79L496.6 927.78L496.9 909.34L497.2 891.19L497.5 876.68L497.8 860.05L498.1 823.06L498.4 764.2L498.7 747.92L499 737.97L499.3 729.36L499.6 721.41L499.9 715.95L500.2 713.62L500.5 712.23L500.8 712.23L501.1 714.09L501.4 717.19L501.7 722.06L502 730.85L502.3 740.71L502.6 749.77L502.9 759.17L503.2 769.77L503.5 783.45L503.8 802.65L504.1 821.01L504.4 831.57L504.7 837.48L505 841.85L505.3 844.77L505.6 846.79L505.9 848.44L506.2 849.39L506.5 849.15L506.8 847.16L507.1 844.15L507.4 840.91L507.7 836.38L508 831.18L508.3 826.99L508.6 824.21L508.9 821.95L509.2 820.76L509.5 820.24L509.8 820L510.1 820.99L510.4 823.73L510.7 827.04L511 831.7L511.3 837.44L511.6 842.48L511.9 846.14L512.2 849.66L512.5 852.4L512.8 853.65L513.1 852.79L513.4 850.19L513.7 846.66L514 842.73L514.3 837.32L514.6 830.2L514.9 819.6L515.2 803.66L515.5 786.13L515.8 770.95L516.1 759.14L516.4 748.67L516.7 741.03L517 735.37L517.3 731.85L517.6 730.69L517.9 730.39L518.2 731.93L518.5 734.97L518.8 743.1L519.1 755.61L519.4 764.36L519.7 771.74L520 791.32L520.3 885.61L520.6 901.43L520.9 912.82L521.2 925.4L521.5 935.76L521.8 942.76L522.1 946.88L522.4 948.16L522.7 943.52L523 935.13L523.3 919.48L523.6 898.01L523.9 880.1L524.2 862.08L524.5 833.25L524.79 789.19L525.09 765.12L525.39 754.14L525.69 747.09L525.99 743.03L526.29 739.98L526.59 738.4L526.89 739.53L527.19 743.9L527.49 749.88L527.79 758.81L528.09 771.76L528.39 786.53L528.69 807.31L528.99 827.81L529.29 838.11L529.59 844.18L529.89 848.72L530.19 852.08L530.49 854.68L530.79 857.03L531.09 858.69L531.39 859.13L531.69 857.92L531.99 855.44L532.29 852.28L532.59 848.88L532.89 843.97L533.19 838.09L533.49 832.55L533.79 828.42L534.09 824.75L534.39 821.71L534.69 819.91L534.99 818.87L535.29 818.16L535.59 818.06L535.89 818.92L536.19 820.49L536.49 822.32L536.79 824.1L537.09 826.41L537.39 828.67L537.69 830.06L537.99 830.81L538.29 831.37L538.59 831.65L538.89 831.43L539.19 830.5L539.49 829.18L539.79 827.78L540.09 826.42L540.39 824.37L540.69 820.81L540.99 812.76L541.29 811.14L541.59 810.3L541.89 810.02L542.19 810.35L542.49 812.06L542.79 814.66L543.09 817.62L543.39 822.08L543.69 827.71L543.99 833.53L544.29 838.72L544.59 843.99L544.89 849.1L545.19 853.39L545.49 856.54L545.79 859.42L546.09 861.53L546.39 862.13L546.69 860.78L546.99 857.96L547.29 854.35L547.59 850.47L547.89 844.98L548.19 838.31L548.49 831.72L548.79 826.25L549.09 821.06L549.39 816.45L549.69 813.17L549.99 810.85L550.29 808.93L550.59 807.47L550.89 806.54L551.19 805.95L551.49 805.51L551.79 805.16L552.09 804.8L552.39 804.37L552.69 803.82L552.99 803.26L553.29 802.63L553.59 801.91L553.89 801.02L554.19 799.92L554.49 798.18L554.79 795.67L555.09 792.67L555.38 789.43L555.68 785.61L555.98 781.15L556.28 776.31L556.58 771.35L556.88 766.33L557.18 760.98L557.48 755.43L557.78 749.83L558.08 744.35L558.38 739.14L558.68 733.92L558.98 728.67L559.28 723.59L559.58 718.87L559.88 714.74L560.18 711.22L560.48 707.81L560.78 704.63L561.08 701.86L561.38 699.68L561.68 698.28L561.98 697.31L562.28 696.48L562.58 695.86L562.88 695.53L563.18 695.62L563.48 696.25L563.78 697.33L564.08 698.71L564.38 700.27L564.68 702.65L564.98 706.01L565.28 710.08L565.58 714.63L565.88 720.3L566.18 727.14L566.48 734.89L566.78 743.46L567.08 754.09L567.38 765.34L567.68 775.5L567.98 785.15L568.28 794.58L568.58 803.96L568.88 813.5L569.18 823.2L569.48 832.8L569.78 842.01L570.08 850.65L570.38 860.31L570.68 870.03L570.98 877.79L571.28 881.57L571.58 910.42L571.88 924.37L572.18 930.46L572.48 934.63L572.78 939.79L573.08 944.03L573.38 947.05L573.68 949.53L573.98 951.29L574.28 951.53L574.58 950.1L574.88 947.73L575.18 944.73L575.48 940.09L575.78 934.4L576.08 928.43L576.38 921.78L576.68 914.41L576.98 906.63L577.28 898.68L577.58 890.15L577.88 881.29L578.18 872.61L578.48 864.19L578.78 854.43L579.08 844.9L579.38 837.72L579.68 837.13L579.98 829.5L580.28 817.67L580.58 812.02L580.88 805.45L581.18 797.26L581.48 789.62L581.78 782.78L582.08 776.92L582.38 771.49L582.68 766.78L582.98 763.51L583.28 761.44L583.58 759.67L583.88 758.44L584.18 758L584.48 758.57L584.78 760.03L585.08 762.11L585.38 764.54L585.68 768.64L585.97 774.38L586.27 780.52L586.57 786.43L586.87 792.66L587.17 799.22L587.47 806.07L587.77 813.56L588.07 821.72L588.37 829.74L588.67 836.82L588.97 843.26L589.27 849.23L589.57 853.93L589.87 857.15L590.17 860.04L590.47 862.24L590.77 863.3L591.07 862.68L591.37 860.39L591.67 857.14L591.97 853.64L592.27 849.75L592.57 844.89L592.87 839.56L593.17 834.29L593.47 829.44L593.77 824.44L594.07 819.51L594.37 815.09L594.67 811.61L594.97 808.8L595.27 806.3L595.57 804.36L595.87 803.24L596.17 802.55L596.47 802.1L596.77 802.05L597.07 802.63L597.37 803.7L597.67 805.02L597.97 807.06L598.27 810.09L598.57 813.59L598.87 817.09L599.17 820.91L599.47 825.05L599.77 829.04L600.07 832.39L600.37 835.52L600.67 838.4L600.97 840.68L601.27 842.05L601.57 843.1L601.87 843.93L602.17 844.42L602.47 844.41L602.77 843.65L603.07 842.34L603.37 840.73L603.67 838.86L603.97 836.05L604.27 832.71L604.57 829.35L604.87 826.23L605.17 822.96L605.47 819.74L605.77 816.84L606.07 814.52L606.37 812.47L606.67 810.65L606.97 809.25L607.27 808.45L607.57 807.88L607.87 807.54L608.17 807.6L608.47 808.21L608.77 809.16L609.07 810.27L609.37 812.01L609.67 814.24L609.97 816.45L610.27 818.41L610.57 820.35L610.87 822.27L611.17 824.17"/>
<path class="ln" stroke="rgb(255,215,0)" stroke-opacity="0.8" d="M611.17 824.17L611.46 829.12L611.76 833.58L612.06 837.41L612.36 840.86L612.66 843.93L612.96 846.37L613.25 848.34L613.55 850.19L613.85 851.58L614.15 852.16L614.45 851.72L614.75 850.45L615.04 848.65L615.34 846.6L615.64 843.68L615.94 839.57L616.24 834.88L616.54 830.22L616.83 826L617.13 821.71L617.43 817.43L617.73 813.36L618.03 809.69L618.32 806.2L618.62 802.83L618.92 799.81L619.22 797.38L619.52 795.61L619.82 793.95L620.11 792.56L620.41 791.62L620.71 791.34L621.01 791.74L621.31 792.63L621.61 793.89L621.9 795.41L622.2 798.2L622.5 802.23L622.8 806.86L623.1 811.54L623.39 816.96L623.69 822.89L623.99 828.64L624.29 833.69L624.59 838.75L624.89 843.45L625.18 847.11L625.48 849.31L625.78 851.1L626.08 852.49L626.38 853.26L626.68 853.16L626.97 852.22L627.27 850.7L627.57 848.92L627.87 846.87L628.17 843.99L628.46 840.67L628.76 837.38L629.06 834.29L629.36 831.04L629.66 827.95L629.96 825.33L630.25 823.19L630.55 821.21L630.85 819.49L631.15 818.12L631.45 817.18L631.75 816.36L632.04 815.63L632.34 815.07L632.64 814.73L632.94 814.7L633.24 815.13L633.54 815.94L633.83 817.01L634.13 818.19L634.43 819.71L634.73 821.87L635.03 824.38L635.32 826.93L635.62 829.29L635.92 831.76L636.22 834.3L636.52 836.72L636.82 838.88L637.11 840.64L637.41 842.32L637.71 843.85L638.01 845.07L638.31 845.8L638.61 846.14L638.9 846.42L639.2 846.6L639.5 846.67"/>
<path class="ln" stroke="rgb(255,0,0)" stroke-opacity="0.8" d="M639.5 846.67L639.8 845.34L640.1 843.36L640.4 840.92L640.69 838.04L640.99 834.31L641.29 829.81L641.59 824.71L641.89 818.6L642.19 810.87L642.49 802.8L642.79 795.58L643.08 788.68L643.38 782.16L643.68 776.41L643.98 771.25L644.28 766.56L644.58 762.65L644.88 759.53L645.17 756.84L645.47 755.09L645.77 754.19L646.07 753.54L646.37 753.35L646.67 754.34L646.97 756.53L647.26 759.33L647.56 762.89L647.86 768.17L648.16 774.49L648.46 781.29L648.76 789.27L649.06 798.16L649.36 807.34L649.65 816.95L649.95 827.07L650.25 837.25L650.55 846.55L650.85 854.82L651.15 864.87L651.45 882.12L651.74 905.45L652.04 917.78L652.34 927.33L652.64 935.07L652.94 941.95L653.24 948.71L653.54 954.93L653.84 959.81L654.13 962.87L654.43 965.13L654.73 965.75L655.03 963.56L655.33 959.41L655.63 954.22L655.93 945.78L656.22 934.98L656.52 923.55L656.82 912.83L657.12 901.8L657.42 890.45L657.72 879.01L658.02 867.74L658.31 856.93L658.61 846.44L658.91 835.91L659.21 824.97L659.51 813.27L659.81 800.15L660.11 784.54L660.41 768.66L660.7 755.18L661 743.86L661.3 733.72L661.6 725.05L661.9 717.56L662.2 710.69L662.5 705.34L662.79 702.19L663.09 699.79L663.39 698.09L663.69 697.5L663.99 698.29L664.29 700.13L664.59 702.61L664.88 705.97L665.18 711.44L665.48 718.48L665.78 726.78L666.08 738.45L666.38 752.11L666.68 765.42L666.98 777.87L667.27 790.31L667.57 802.75L667.87 815.35L668.17 828.22L668.47 840.67L668.77 852.07L669.07 862.98L669.36 873.06L669.66 881.58L669.96 889.07L670.26 895.83L670.56 900.64L670.86 903.03L671.16 904.17L671.46 902.27L671.75 897.92L672.05 892.33L672.35 884.34L672.65 875.26L672.95 864.51L673.25 853.89L673.55 843.28L673.84 832.97L674.14 823.96L674.44 816.32L674.74 809.41L675.04 803.67L675.34 799.22L675.64 795.38L675.93 792.81L676.23 791.64L676.53 790.92L676.83 791.06L677.13 792.42L677.43 794.47L677.73 797.38L678.03 802.03L678.32 807.21L678.62 811.82L678.92 816.33L679.22 820.75L679.52 824.84L679.82 828.44L680.12 831.86L680.41 834.96L680.71 837.51L681.01 839.47L681.31 841.33L681.61 842.82L681.91 843.61L682.21 843.48L682.51 842.63L682.8 841.29L683.1 839.66L683.4 837.91L683.7 835.39L684 832.16L684.3 828.74L684.6 825.64L684.89 823.05L685.19 820.57L685.49 818.25L685.79 816.21L686.09 814.53L686.39 812.99L686.69 811.68L686.98 810.86L687.28 810.41L687.58 810.1L687.88 810.02L688.18 810.89L688.48 812.63L688.78 814.64L689.08 816.74L689.37 819.33L689.67 822.1L689.97 824.76L690.27 827.35L690.57 830.04L690.87 832.44L691.17 834.16L691.46 835.4L691.76 836.49L692.06 837.25L692.36 837.5L692.66 837.02L692.96 835.94L693.26 834.53L693.55 833.06L693.85 831.09L694.15 828.7L694.45 826.38L694.75 824.55L695.05 822.9L695.35 821.38L695.65 820.11L695.94 819.27L696.24 818.79L696.54 818.4L696.84 818.12L697.14 818L697.44 818.03L697.74 818.13L698.03 818.33L698.33 818.67"/>
<path class="ln" stroke="rgb(0,0,128)" stroke-opacity="0.8" d="M642 821.67L642.3 814.49L642.6 807.46L642.9 800.59L643.2 793.77L643.5 786.91L643.8 780.47L644.1 774.88L644.4 769.55L644.7 764.89L645 761.67L645.3 759.48L645.6 757.71L645.9 756.74L646.2 757.06L646.5 758.81L646.8 761.42L647.1 764.39L647.4 768.6L647.7 773.98L648 780L648.3 786.91L648.6 794.98L648.9 803.7L649.2 812.86L649.5 822.87L649.8 833.21L650.1 843.17L650.4 851.58L650.7 860.64L651 873.33L651.3 899.6L651.6 914.15L651.9 925.1L652.2 933.98L652.5 942.06L652.8 950.47L653.1 958.83L653.4 966.32L653.7 972.24L654 977.57L654.3 982.16L654.6 984.57L654.9 983.56L655.2 979.51L655.5 973.62L655.8 966.39L656.1 954.37L656.4 939.57L656.7 925.16L657 911.27L657.3 897.07L657.6 883.05L657.9 869.45L658.2 856.04L658.5 842.77L658.8 829.65L659.1 816.67L659.4 803.81L659.7 790.84L660 778.13L660.3 766.24L660.6 755.33L660.9 745.05L661.2 735.58L661.5 726.89L661.8 718.56L662.1 711.21L662.4 705.55L662.7 700.64L663 696.57L663.3 694.27L663.6 693.55L663.9 693.42L664.2 695.51L664.5 699.33L664.8 703.71L665.1 709.71L665.4 717.24L665.7 726.38L666 738.13L666.3 751.23L666.6 764.4L666.9 778.4L667.2 792.83L667.5 806.67L667.8 819.62L668.1 832.14L668.4 844.33L668.7 856.59L669 869.21L669.3 880.59L669.6 889.36L669.9 897.49L670.2 904L670.5 906.67L670.8 905.53L671.1 902.74L671.4 899.08L671.7 892.62L672 883.74L672.3 874.33L672.6 864.73L672.9 854.18L673.2 844.02L673.5 835.28L673.8 827.13L674.1 819.83L674.4 813.76L674.7 808.39L675 803.75L675.3 800.29L675.6 797.75L675.9 795.72L676.2 795L676.5 795.24L676.8 795.76L677.1 797.33L677.4 800.41L677.7 803.67L678 806.95L678.3 810.5L678.6 814.06L678.9 817.38L679.2 820.63L679.5 823.79L679.8 826.66L680.1 829.08L680.4 831.04L680.7 832.77L681 834.49L681.3 836.43L681.6 838.85L681.9 841.65L682.2 844.39L682.5 846.67L682.8 848.67L683.1 850.6L683.4 852.02L683.7 852.49L684 851.25L684.3 848.67L684.6 845.64L684.9 842.4L685.2 838.27L685.5 833.99L685.8 830.33L686.1 827.36L686.4 824.53L686.7 822.23L687 820.83L687.3 820.08L687.6 819.49L687.9 819.19L688.2 819.56L688.5 821.27L688.8 823.72L689.1 826.19L689.4 828.33L689.7 830.58L690 832.88L690.3 835.18L690.6 837.43L690.9 839.9L691.2 842.33L691.5 844.28L691.8 845.44L692.1 846.34L692.4 847.06L692.7 847.45L693 847.38L693.3 846.63L693.6 845.39L693.9 843.87L694.2 841.81L694.5 838.43L694.8 834.98L695.1 832.73L695.4 831.03L695.7 829.6L696 828.62L696.3 828.19L696.6 827.91L696.9 827.69L697.2 827.55L697.5 827.5"/>
<path class="ln" stroke="rgb(50,205,50)" stroke-opacity="0.8" d="M697.5 827.5L697.78 830.97L698.07 835.31L698.35 840.31L698.63 846.78L698.92 854.18L699.2 860.67L699.48 866.19L699.77 871.32L700.05 875.95L700.33 880"/>
</g>
<rect class="sp" x="393.3" y="556.4" width="321.4" height="506.9"/>
<path class="sp" d="M407.9 1063.3v2.6M447.3 1063.3v2.6M487 1063.3v2.6M526.4 1063.3v2.6M566.2 1063.3v2.6M605.5 1063.3v2.6M645.5 1063.3v2.6M684.7 1063.3v2.6M393.3 600.6h-2.6M393.3 657h-2.6M393.3 713.4h-2.6M393.3 769.8h-2.6M393.3 826.2h-2.6M393.3 882.6h-2.6M393.3 939h-2.6M393.3 995.4h-2.6M393.3 1051.8h-2.6"/>
<text class="tk" x="408.1" y="1074.1" text-anchor="middle" textLength="25.44" lengthAdjust="spacingAndGlyphs">2018−01</text>
<text class="tk" x="447.5" y="1074.1" text-anchor="middle" textLength="25.44" lengthAdjust="spacingAndGlyphs">2018−07</text>
<text class="tk" x="487.2" y="1074.1" text-anchor="middle" textLength="25.44" lengthAdjust="spacingAndGlyphs">2019−01</text>
<text class="tk" x="526.6" y="1074.1" text-anchor="middle" textLength="25.44" lengthAdjust="spacingAndGlyphs">2019−07</text>
<text class="tk" x="566.4" y="1074.1" text-anchor="middle" textLength="25.44" lengthAdjust="spacingAndGlyphs">2020−01</text>
<text class="tk" x="605.7" y="1074.1" text-anchor="middle" textLength="25.44" lengthAdjust="spacingAndGlyphs">2020−07</text>
<text class="tk" x="645.7" y="1074.1" text-anchor="middle" textLength="25.44" lengthAdjust="spacingAndGlyphs">2021−01</text>
<text class="tk" x="684.9" y="1074.1" text-anchor="middle" textLength="25.44" lengthAdjust="spacingAndGlyphs">2021−07</text>
<text class="tk" x="387.7" y="603.4" text-anchor="end" textLength="18.1" lengthAdjust="spacingAndGlyphs">40000</text>
<text class="tk" x="387.7" y="659.8" text-anchor="end" textLength="18.1" lengthAdjust="spacingAndGlyphs">30000</text>
<text class="tk" x="387.7" y="716.2" text-anchor="end" textLength="18.1" lengthAdjust="spacingAndGlyphs">20000</text>
<text class="tk" x="387.7" y="772.6" text-anchor="end" textLength="18.1" lengthAdjust="spacingAndGlyphs">10000</text>
<text class="tk" x="387.7" y="829" text-anchor="end" textLength="3.22" lengthAdjust="spacingAndGlyphs">0</text>
<text class="tk" x="387.7" y="885.4" text-anchor="end" textLength="21.82" lengthAdjust="spacingAndGlyphs">−10000</text>
<text class="tk" x="387.7" y="941.8" text-anchor="end" textLength="21.82" lengthAdjust="spacingAndGlyphs">−20000</text>
<text class="tk" x="387.7" y="998.2" text-anchor="end" textLength="21.82" lengthAdjust="spacingAndGlyphs">−30000</text>
<text class="tk" x="387.7" y="1054.6" text-anchor="end" textLength="21.82" lengthAdjust="spacingAndGlyphs">−40000</text>
<text class="tt" x="553.8" y="551.9" text-anchor="middle" textLength="16.6" lengthAdjust="spacingAndGlyphs">IMF5</text>
<rect x="638.55" y="560.1" width="72.05" height="56.2" rx="1.5" ry="1.5" fill="#fff" fill-opacity="0.8" stroke="#ccc" stroke-opacity="0.8" stroke-width="0.75"/>
<path class="ln" stroke="rgb(0,0,255)" stroke-opacity="0.8" d="M641.45 566.55h16"/>
<text class="lg" x="662.95" y="569.15">训练集</text>
<path class="ln" stroke="rgb(255,215,0)" stroke-opacity="0.8" d="M641.45 577.31h16"/>
<text class="lg" x="662.95" y="579.91">验证集</text>
<path class="ln" stroke="rgb(255,0,0)" stroke-opacity="0.8" d="M641.45 588.07h16"/>
<text class="lg" x="662.95" y="590.67">测试集</text>
<path class="ln" stroke="rgb(0,0,128)" stroke-opacity="0.8" d="M641.45 598.83h16"/>
<text class="lg" x="662.95" y="601.43">测试集预测</text>
<path class="ln" stroke="rgb(50,205,50)" stroke-opacity="0.8" d="M641.45 609.59h16"/>
<text class="lg" x="662.95" y="612.19">向后预测</text><text class="tk" x="693.05" y="612.29" textLength="7" lengthAdjust="spacingAndGlyphs">10</text><text class="lg" x="700.45" y="612.19">天</text>
</g>
<g id="ax6">
<clipPath id="cp6"><rect x="750.5" y="556.4" width="321.4" height="506.9"/></clipPath>
<path class="gr" d="M765.1 556.4V1063.3M804.5 556.4V1063.3M844.2 556.4V1063.3M883.6 556.4V1063.3M923.4 556.4V1063.3M962.7 556.4V1063.3M1002.7 556.4V1063.3M1041.9 556.4V1063.3M750.5 610.4H1071.9M750.5 669.7H1071.9M750.5 729H1071.9M750.5 788.3H1071.9M750.5 847.6H1071.9M750.5 906.9H1071.9M750.5 966.2H1071.9M750.5 1025.5H1071.9"/>
<g clip-path="url(#cp6)">
<path class="ln" stroke="rgb(0,0,255)" stroke-opacity="0.8" d="M765 1007.94L765.3 1009.33L765.6 1010.73L765.9 1012.14L766.2 1013.56L766.5 1014.97L766.8 1016.39L767.1 1017.79L767.4 1019.18L767.7 1020.56L768 1021.92L768.3 1023.26L768.6 1024.58L768.89 1025.86L769.19 1027.11L769.49 1028.33L769.79 1029.5L770.09 1030.63L770.39 1031.71L770.69 1032.75L770.99 1033.72L771.29 1034.64L771.59 1035.49L771.89 1036.28L772.19 1037L772.49 1037.64L772.79 1038.21L773.09 1038.7L773.39 1039.1L773.69 1039.41L773.99 1039.64L774.29 1039.76L774.59 1039.79L774.89 1039.71L775.19 1039.51L775.49 1039.19L775.79 1038.73L776.09 1038.12L776.39 1037.36L776.68 1036.42L776.98 1035.3L777.28 1033.99L777.58 1032.48L777.88 1030.75L778.18 1028.8L778.48 1026.62L778.78 1024.19L779.08 1021.51L779.38 1018.61L779.68 1015.5L779.98 1012.2L780.28 1008.72L780.58 1005.09L780.88 1001.31L781.18 997.42L781.48 993.4L781.78 989.26L782.08 985.01L782.38 980.65L782.68 976.17L782.98 971.59L783.28 966.9L783.58 962.1L783.88 957.21L784.17 952.22L784.47 947.13L784.77 941.95L785.07 936.68L785.37 931.31L785.67 925.87L785.97 920.34L786.27 914.73L786.57 909.04L786.87 903.27L787.17 897.44L787.47 891.55L787.77 885.6L788.07 879.62L788.37 873.6L788.67 867.56L788.97 861.51L789.27 855.45L789.57 849.4L789.87 843.36L790.17 837.33L790.47 831.28L790.77 825.19L791.07 819.06L791.37 812.85L791.66 806.55L791.96 800.14L792.26 793.61L792.56 786.92L792.86 780.08L793.16 773.11L793.46 766.04L793.76 758.9L794.06 751.71L794.36 744.49L794.66 737.29L794.96 730.12L795.26 723L795.56 715.93L795.86 708.88L796.16 701.81L796.46 694.72L796.76 687.56L797.06 680.32L797.36 672.97L797.66 665.49L797.96 657.91L798.26 650.31L798.56 642.8L798.86 635.45L799.16 628.37L799.45 621.63L799.75 615.33L800.05 609.56L800.35 604.38L800.65 599.77L800.95 595.71L801.25 592.17L801.55 589.13L801.85 586.55L802.15 584.42L802.45 582.71L802.75 581.38L803.05 580.43L803.35 579.82L803.65 579.52L803.95 579.52L804.25 579.9L804.55 580.73L804.85 582.1L805.15 584.09L805.45 586.8L805.75 590.22L806.05 594.29L806.35 598.89L806.65 603.94L806.94 609.35L807.24 615.04L807.54 621.11L807.84 627.71L808.14 635.02L808.44 643.19L808.74 652.39L809.04 662.65L809.34 673.77L809.64 685.53L809.94 697.7L810.24 710.04L810.54 722.15L810.84 733.57L811.14 743.85L811.44 752.52L811.74 760.16L812.04 768.78L812.34 780.52L812.64 797.42L812.94 818.72L813.24 840.54L813.54 859.08L813.84 873.46L814.14 884.59L814.44 893.42L814.73 900.9L815.03 907.97L815.33 915.32L815.63 922.83L815.93 930.26L816.23 937.37L816.53 943.92L816.83 949.66L817.13 954.55L817.43 958.74L817.73 962.34L818.03 965.5L818.33 968.34L818.63 970.94L818.93 973.13L819.23 974.68L819.53 975.33L819.83 974.95L820.13 973.69L820.43 971.73L820.73 969.27L821.03 966.5L821.33 963.43L821.63 959.97L821.93 956.03L822.22 951.49L822.52 946.28L822.82 940.33L823.12 933.71L823.42 926.54L823.72 918.89L824.02 910.88L824.32 902.61L824.62 894.16L824.92 885.64L825.22 877.16L825.52 868.8L825.82 860.67L826.12 852.86L826.42 845.48L826.72 838.55L827.02 832.01L827.32 825.76L827.62 819.71L827.92 813.78L828.22 807.87L828.52 801.9L828.82 795.77L829.12 789.41L829.42 782.73L829.71 775.78L830.01 768.62L830.31 761.35L830.61 754.05L830.91 746.79L831.21 739.65L831.51 732.72L831.81 726.08L832.11 719.75L832.41 713.71L832.71 707.95L833.01 702.43L833.31 697.14L833.61 692.06L833.91 687.15L834.21 682.41L834.51 677.8L834.81 673.36L835.11 669.09L835.41 665L835.71 661.12L836.01 657.46L836.31 654.04L836.61 650.86L836.91 647.96L837.21 645.33L837.5 643.01L837.8 640.99L838.1 639.31L838.4 637.98L838.7 637.03L839 636.48L839.3 636.37L839.6 636.72L839.9 637.57L840.2 638.93L840.5 640.84L840.8 643.33L841.1 646.42L841.4 650.13L841.7 654.48L842 659.49L842.3 665.18L842.6 671.55L842.9 678.59L843.2 686.22L843.5 694.35L843.8 702.88L844.1 711.74L844.4 720.83L844.7 730.07L844.99 739.37L845.29 748.64L845.59 757.8L845.89 766.76L846.19 775.43L846.49 783.72L846.79 791.56L847.09 798.9L847.39 805.77L847.69 812.19L847.99 818.2L848.29 823.83L848.59 829.1L848.89 834.03L849.19 838.67L849.49 843.02L849.79 847.06L850.09 850.77L850.39 854.12L850.69 857.08L850.99 859.63L851.29 861.72L851.59 863.31L851.89 864.37L852.19 864.86L852.48 864.73L852.78 864.01L853.08 862.72L853.38 860.88L853.68 858.5L853.98 855.62L854.28 852.29L854.58 848.58L854.88 844.55L855.18 840.26L855.48 835.77L855.78 831.15L856.08 826.47L856.38 821.77L856.68 817.13L856.98 812.61L857.28 808.27L857.58 804.17L857.88 800.38L858.18 796.91L858.48 793.81L858.78 791.1L859.08 788.83L859.38 787.02L859.68 785.61L859.98 784.54L860.27 783.7L860.57 783.03L860.87 782.42L861.17 781.83L861.47 781.27L861.77 780.78L862.07 780.4L862.37 780.14L862.67 780.06L862.97 780.16L863.27 780.43L863.57 780.88L863.87 781.49L864.17 782.27L864.47 783.2L864.77 784.24L865.07 785.32L865.37 786.39L865.67 787.41L865.97 788.3L866.27 789.02L866.57 789.51L866.87 789.71L867.17 789.57L867.47 789.12L867.76 788.4L868.06 787.51L868.36 786.52L868.66 785.48L868.96 784.43L869.26 783.4L869.56 782.4L869.86 781.47L870.16 780.62L870.46 779.89L870.76 779.29L871.06 778.86L871.36 778.61L871.66 778.58L871.96 778.77L872.26 779.2L872.56 779.86L872.86 780.75L873.16 781.87L873.46 783.21L873.76 784.76L874.06 786.53L874.36 788.52L874.66 790.72L874.96 793.12L875.26 795.72L875.55 798.5L875.85 801.39L876.15 804.38L876.45 807.4L876.75 810.42L877.05 813.4L877.35 816.3L877.65 819.07L877.95 821.67L878.25 824.05L878.55 826.15L878.85 827.89L879.15 829.19L879.45 829.98L879.75 830.16L880.05 829.72L880.35 828.68L880.65 827.08L880.95 824.98L881.25 822.42L881.55 819.43L881.85 816.06L882.15 812.37L882.45 808.38L882.75 804.15L883.04 799.71L883.34 795.12L883.64 790.43L883.94 785.7L884.24 780.97L884.54 776.32L884.84 771.78L885.14 767.42L885.44 763.29L885.74 759.45L886.04 755.95L886.34 752.85L886.64 750.19L886.94 747.97L887.24 746.17L887.54 744.78L887.84 743.77L888.14 743.14L888.44 742.87L888.74 742.95L889.04 743.35L889.34 744.06L889.64 745.08L889.94 746.37L890.24 747.93L890.53 749.79L890.83 751.98L891.13 754.54L891.43 757.51L891.73 760.92L892.03 764.76L892.33 768.9L892.63 773.19L892.93 777.5L893.23 781.68L893.53 785.58L893.83 789.17L894.13 792.46L894.43 795.44L894.73 798.13L895.03 800.54L895.33 802.67L895.63 804.55L895.93 806.17L896.23 807.55L896.53 808.69L896.83 809.61L897.13 810.31L897.43 810.79L897.73 811.05L898.03 811.1L898.32 810.93L898.62 810.55L898.92 809.95L899.22 809.14L899.52 808.13L899.82 806.9L900.12 805.49L900.42 803.94L900.72 802.28L901.02 800.55L901.32 798.81L901.62 797.09L901.92 795.42L902.22 793.82L902.52 792.29L902.82 790.82L903.12 789.42L903.42 788.09L903.72 786.82L904.02 785.61L904.32 784.47L904.62 783.4L904.92 782.38L905.22 781.43L905.52 780.55L905.81 779.72L906.11 778.96L906.41 778.26L906.71 777.62L907.01 777.05L907.31 776.53L907.61 776.07L907.91 775.68L908.21 775.34L908.51 775.07L908.81 774.86L909.11 774.71L909.41 774.62L909.71 774.6L910.01 774.64L910.31 774.75L910.61 774.92L910.91 775.16L911.21 775.47L911.51 775.84L911.81 776.29L912.11 776.8L912.41 777.38L912.71 778.03L913.01 778.75L913.31 779.55L913.6 780.41L913.9 781.35L914.2 782.36L914.5 783.45L914.8 784.61L915.1 785.84L915.4 787.15L915.7 788.53L916 789.97L916.3 791.47L916.6 793.03L916.9 794.64L917.2 796.29L917.5 797.99L917.8 799.72L918.1 801.49L918.4 803.28L918.7 805.1L919 806.93L919.3 808.78L919.6 810.64L919.9 812.5L920.2 814.36L920.5 816.22L920.8 818.06L921.09 819.9L921.39 821.71L921.69 823.5L921.99 825.27L922.29 827L922.59 828.69L922.89 830.34L923.19 831.95L923.49 833.51L923.79 835L924.09 836.44L924.39 837.82L924.69 839.12L924.99 840.35L925.29 841.51L925.59 842.58L925.89 843.58L926.19 844.5L926.49 845.34L926.79 846.12L927.09 846.81L927.39 847.44L927.69 847.99L927.99 848.48L928.29 848.89L928.58 849.23L928.88 849.51L929.18 849.72L929.48 849.86L929.78 849.94L930.08 849.96L930.38 849.9L930.68 849.76L930.98 849.51L931.28 849.14L931.58 848.63L931.88 847.95L932.18 847.1L932.48 846.06L932.78 844.8L933.08 843.34L933.38 841.69L933.68 839.86L933.98 837.86L934.28 835.72L934.58 833.44L934.88 831.03L935.18 828.51L935.48 825.9L935.78 823.19L936.08 820.42L936.37 817.58L936.67 814.7L936.97 811.79L937.27 808.85L937.57 805.91L937.87 802.95L938.17 799.91L938.47 796.72L938.77 793.3L939.07 789.61L939.37 785.56L939.67 781.21L939.97 776.66L940.27 772L940.57 767.34L940.87 762.79L941.17 758.41L941.47 754.17L941.77 750.03L942.07 745.94L942.37 741.86L942.67 737.74L942.97 733.61L943.27 729.52L943.57 725.55L943.86 721.76L944.16 718.22L944.46 714.99L944.76 712.04L945.06 709.36L945.36 706.89L945.66 704.61L945.96 702.49L946.26 700.51L946.56 698.66L946.86 696.95L947.16 695.38L947.46 693.95L947.76 692.66L948.06 691.5L948.36 690.49L948.66 689.61L948.96 688.87L949.26 688.27L949.56 687.81L949.86 687.49L950.16 687.31L950.46 687.26L950.76 687.36L951.06 687.6L951.35 687.98L951.65 688.49L951.95 689.15L952.25 689.95L952.55 690.89L952.85 691.95L953.15 693.14L953.45 694.45L953.75 695.88L954.05 697.41L954.35 699.05L954.65 700.79L954.95 702.62L955.25 704.54L955.55 706.55L955.85 708.63L956.15 710.78L956.45 713L956.75 715.28L957.05 717.61L957.35 720L957.65 722.43L957.95 724.9L958.25 727.38L958.55 729.86L958.85 732.32L959.14 734.74L959.44 737.11L959.74 739.41L960.04 741.61L960.34 743.71L960.64 745.68L960.94 747.5L961.24 749.18L961.54 750.74L961.84 752.2L962.14 753.59L962.44 754.93L962.74 756.24L963.04 757.54L963.34 758.8L963.64 760.04L963.94 761.24L964.24 762.39L964.54 763.51L964.84 764.58L965.14 765.59L965.44 766.55L965.74 767.44L966.04 768.27L966.34 769.03L966.63 769.72L966.93 770.32L967.23 770.85L967.53 771.28L967.83 771.62"/>
<path class="ln" stroke="rgb(255,215,0)" stroke-opacity="0.8" d="M967.83 771.68L968.13 772.03L968.43 772.44L968.73 772.93L969.02 773.48L969.32 774.11L969.62 774.8L969.92 775.56L970.21 776.4L970.51 777.3L970.81 778.27L971.11 779.32L971.4 780.43L971.7 781.62L972 782.88L972.3 784.21L972.6 785.61L972.89 787.09L973.19 788.64L973.49 790.26L973.79 791.96L974.08 793.73L974.38 795.57L974.68 797.49L974.98 799.49L975.27 801.56L975.57 803.69L975.87 805.89L976.17 808.14L976.46 810.44L976.76 812.77L977.06 815.13L977.36 817.52L977.65 819.92L977.95 822.33L978.25 824.73L978.55 827.13L978.85 829.51L979.14 831.87L979.44 834.19L979.74 836.48L980.04 838.72L980.33 840.9L980.63 843.01L980.93 845.05L981.23 846.98L981.52 848.81L981.82 850.52L982.12 852.09L982.42 853.51L982.71 854.77L983.01 855.85L983.31 856.75L983.61 857.44L983.9 857.92L984.2 858.16L984.5 858.17L984.8 857.92L985.1 857.4L985.39 856.6L985.69 855.51L985.99 854.14L986.29 852.51L986.58 850.63L986.88 848.51L987.18 846.17L987.48 843.62L987.77 840.87L988.07 837.94L988.37 834.84L988.67 831.58L988.96 828.15L989.26 824.54L989.56 820.73L989.86 816.71L990.15 812.47L990.45 808.02L990.75 803.39L991.05 798.6L991.35 793.69L991.64 788.66L991.94 783.57L992.24 778.46L992.54 773.37L992.83 768.35L993.13 763.47L993.43 758.78L993.73 754.3L994.02 750.08L994.32 746.13L994.62 742.48L994.92 739.15L995.21 736.17L995.51 733.54L995.81 731.27L996.11 729.37L996.4 727.84L996.7 726.7L997 725.94"/>
<path class="ln" stroke="rgb(255,0,0)" stroke-opacity="0.8" d="M997 725.79L997.3 725.26L997.6 725.01L997.9 725.04L998.2 725.36L998.49 725.95L998.79 726.81L999.09 727.95L999.39 729.35L999.69 731.03L999.99 732.96L1000.29 735.16L1000.59 737.62L1000.88 740.34L1001.18 743.32L1001.48 746.58L1001.78 750.14L1002.08 754.02L1002.38 758.23L1002.68 762.81L1002.98 767.7L1003.27 772.81L1003.57 778.05L1003.87 783.34L1004.17 788.57L1004.47 793.68L1004.77 798.65L1005.07 803.46L1005.37 808.12L1005.66 812.62L1005.96 816.95L1006.26 821.11L1006.56 825.09L1006.86 828.88L1007.16 832.48L1007.46 835.89L1007.76 839.09L1008.05 842.09L1008.35 844.88L1008.65 847.44L1008.95 849.79L1009.25 851.9L1009.55 853.77L1009.85 855.41L1010.15 856.79L1010.44 857.93L1010.74 858.81L1011.04 859.42L1011.34 859.76L1011.64 859.83L1011.94 859.62L1012.24 859.14L1012.54 858.37L1012.83 857.31L1013.13 855.96L1013.43 854.31L1013.73 852.39L1014.03 850.19L1014.33 847.72L1014.63 845L1014.93 842.02L1015.22 838.8L1015.52 835.35L1015.82 831.67L1016.12 827.77L1016.42 823.66L1016.72 819.35L1017.02 814.85L1017.32 810.2L1017.61 805.41L1017.91 800.54L1018.21 795.6L1018.51 790.63L1018.81 785.66L1019.11 780.73L1019.41 775.87L1019.71 771.1L1020 766.46L1020.3 761.98L1020.6 757.65L1020.9 753.45L1021.2 749.37L1021.5 745.39L1021.8 741.5L1022.1 737.71L1022.39 734.04L1022.69 730.51L1022.99 727.16L1023.29 723.99L1023.59 721.05L1023.89 718.32L1024.19 715.81L1024.49 713.52L1024.78 711.44L1025.08 709.56L1025.38 707.89L1025.68 706.43L1025.98 705.15L1026.28 704.08L1026.58 703.19L1026.88 702.49L1027.17 701.98L1027.47 701.64L1027.77 701.48L1028.07 701.5L1028.37 701.69L1028.67 702.04L1028.97 702.56L1029.27 703.22L1029.56 704.04L1029.86 705L1030.16 706.1L1030.46 707.33L1030.76 708.7L1031.06 710.18L1031.36 711.78L1031.66 713.5L1031.95 715.32L1032.25 717.23L1032.55 719.22L1032.85 721.29L1033.15 723.43L1033.45 725.62L1033.75 727.86L1034.05 730.13L1034.34 732.44L1034.64 734.76L1034.94 737.09L1035.24 739.42L1035.54 741.74L1035.84 744.05L1036.14 746.35L1036.44 748.64L1036.73 750.91L1037.03 753.17L1037.33 755.42L1037.63 757.66L1037.93 759.88L1038.23 762.09L1038.53 764.3L1038.83 766.49L1039.12 768.66L1039.42 770.83L1039.72 772.99L1040.02 775.13L1040.32 777.26L1040.62 779.39L1040.92 781.53L1041.22 783.68L1041.51 785.85L1041.81 788.04L1042.11 790.28L1042.41 792.55L1042.71 794.88L1043.01 797.26L1043.31 799.72L1043.61 802.24L1043.9 804.85L1044.2 807.55L1044.5 810.35L1044.8 813.25L1045.1 816.27L1045.4 819.38L1045.7 822.54L1046 825.69L1046.29 828.78L1046.59 831.74L1046.89 834.53L1047.19 837.1L1047.49 839.38L1047.79 841.34L1048.09 843.07L1048.39 844.67L1048.68 846.24L1048.98 847.91L1049.28 849.76L1049.58 851.88L1049.88 854.23L1050.18 856.76L1050.48 859.4L1050.78 862.11L1051.07 864.82L1051.37 867.49L1051.67 870.09L1051.97 872.56L1052.27 874.85L1052.57 876.94L1052.87 878.77L1053.17 880.35L1053.46 881.7L1053.76 882.81L1054.06 883.71L1054.36 884.4L1054.66 884.89L1054.96 885.2L1055.26 885.34L1055.56 885.32"/>
<path class="ln" stroke="rgb(0,0,128)" stroke-opacity="0.8" d="M999.67 742.5L1000.83 748.33L1002.5 766.67L1004.17 790L1005.83 820L1007.5 845L1008.33 858.33L1009.67 863.33L1010.83 873.33L1012.5 881.33L1013.83 871.67L1015 870L1016.33 863.33L1017.5 851.67L1019.17 826.67L1020.83 795L1022.5 766.67L1023.67 746.67L1025 740L1026.17 729.17L1027.17 738.33L1028.33 726.67L1029.33 720L1030.33 727.5L1031.33 721.67L1032.5 729.17L1034.17 735L1035.83 743.33L1037.5 755L1039.17 766.67L1040.83 780L1042.5 790L1044.17 803.33L1045.83 823.33L1047.5 846.67L1047.78 847.41L1048.52 858.52L1049.63 871.11L1050.74 885.93L1051.85 887.41L1052.59 898.52L1053.33 897.78L1054.07 905.19L1054.81 906.67"/>
<path class="ln" stroke="rgb(50,205,50)" stroke-opacity="0.8" d="M1054.81 906.67L1055.1 912.43L1055.39 918.19L1055.68 924.03L1055.97 930.17L1056.26 935.64L1056.54 940.01L1056.83 943.96L1057.12 947.35L1057.41 950"/>
</g>
<rect class="sp" x="750.5" y="556.4" width="321.4" height="506.9"/>
<path class="sp" d="M765.1 1063.3v2.6M804.5 1063.3v2.6M844.2 1063.3v2.6M883.6 1063.3v2.6M923.4 1063.3v2.6M962.7 1063.3v2.6M1002.7 1063.3v2.6M1041.9 1063.3v2.6M750.5 610.4h-2.6M750.5 669.7h-2.6M750.5 729h-2.6M750.5 788.3h-2.6M750.5 847.6h-2.6M750.5 906.9h-2.6M750.5 966.2h-2.6M750.5 1025.5h-2.6"/>
<text class="tk" x="765.3" y="1074.1" text-anchor="middle" textLength="25.44" lengthAdjust="spacingAndGlyphs">2018−01</text>
<text class="tk" x="804.7" y="1074.1" text-anchor="middle" textLength="25.44" lengthAdjust="spacingAndGlyphs">2018−07</text>
<text class="tk" x="844.4" y="1074.1" text-anchor="middle" textLength="25.44" lengthAdjust="spacingAndGlyphs">2019−01</text>
<text class="tk" x="883.8" y="1074.1" text-anchor="middle" textLength="25.44" lengthAdjust="spacingAndGlyphs">2019−07</text>
<text class="tk" x="923.6" y="1074.1" text-anchor="middle" textLength="25.44" lengthAdjust="spacingAndGlyphs">2020−01</text>
<text class="tk" x="962.9" y="1074.1" text-anchor="middle" textLength="25.44" lengthAdjust="spacingAndGlyphs">2020−07</text>
<text class="tk" x="1002.9" y="1074.1" text-anchor="middle" textLength="25.44" lengthAdjust="spacingAndGlyphs">2021−01</text>
<text class="tk" x="1042.1" y="1074.1" text-anchor="middle" textLength="25.44" lengthAdjust="spacingAndGlyphs">2021−07</text>
<text class="tk" x="744.9" y="613.2" text-anchor="end" textLength="18.1" lengthAdjust="spacingAndGlyphs">30000</text>
<text class="tk" x="744.9" y="672.5" text-anchor="end" textLength="18.1" lengthAdjust="spacingAndGlyphs">20000</text>
<text class="tk" x="744.9" y="731.8" text-anchor="end" textLength="18.1" lengthAdjust="spacingAndGlyphs">10000</text>
<text class="tk" x="744.9" y="791.1" text-anchor="end" textLength="3.22" lengthAdjust="spacingAndGlyphs">0</text>
<text class="tk" x="744.9" y="850.4" text-anchor="end" textLength="21.82" lengthAdjust="spacingAndGlyphs">−10000</text>
<text class="tk" x="744.9" y="909.7" text-anchor="end" textLength="21.82" lengthAdjust="spacingAndGlyphs">−20000</text>
<text class="tk" x="744.9" y="969" text-anchor="end" textLength="21.82" lengthAdjust="spacingAndGlyphs">−30000</text>
<text class="tk" x="744.9" y="1028.3" text-anchor="end" textLength="21.82" lengthAdjust="spacingAndGlyphs">−40000</text>
<text class="tt" x="911" y="551.9" text-anchor="middle" textLength="16.6" lengthAdjust="spacingAndGlyphs">IMF6</text>
<rect x="995.75" y="560.1" width="72.05" height="56.2" rx="1.5" ry="1.5" fill="#fff" fill-opacity="0.8" stroke="#ccc" stroke-opacity="0.8" stroke-width="0.75"/>
<path class="ln" stroke="rgb(0,0,255)" stroke-opacity="0.8" d="M998.65 566.55h16"/>
<text class="lg" x="1020.15" y="569.15">训练集</text>
<path class="ln" stroke="rgb(255,215,0)" stroke-opacity="0.8" d="M998.65 577.31h16"/>
<text class="lg" x="1020.15" y="579.91">验证集</text>
<path class="ln" stroke="rgb(255,0,0)" stroke-opacity="0.8" d="M998.65 588.07h16"/>
<text class="lg" x="1020.15" y="590.67">测试集</text>
<path class="ln" stroke="rgb(0,0,128)" stroke-opacity="0.8" d="M998.65 598.83h16"/>
<text class="lg" x="1020.15" y="601.43">测试集预测</text>
<path class="ln" stroke="rgb(50,205,50)" stroke-opacity="0.8" d="M998.65 609.59h16"/>
<text class="lg" x="1020.15" y="612.19">向后预测</text><text class="tk" x="1050.25" y="612.29" textLength="7" lengthAdjust="spacingAndGlyphs">10</text><text class="lg" x="1057.65" y="612.19">天</text>
</g>
<g id="ax7">
<clipPath id="cp7"><rect x="36" y="1093.45" width="321.4" height="506.9"/></clipPath>
<path class="gr" d="M50.6 1093.45V1600.35M90 1093.45V1600.35M129.7 1093.45V1600.35M169.1 1093.45V1600.35M208.9 1093.45V1600.35M248.2 1093.45V1600.35M288.2 1093.45V1600.35M327.4 1093.45V1600.35M36 1115.65H357.4M36 1178.5H357.4M36 1241.35H357.4M36 1304.2H357.4M36 1367.05H357.4M36 1429.9H357.4M36 1492.75H357.4M36 1555.6H357.4"/>
<g clip-path="url(#cp7)">
<path class="ln" stroke="rgb(0,0,255)" stroke-opacity="0.8" d="M50.33 1577.48L50.63 1577.25L50.93 1577.02L51.23 1576.79L51.53 1576.54L51.83 1576.27L52.13 1575.97L52.43 1575.63L52.73 1575.23L53.03 1574.78L53.33 1574.27L53.63 1573.68L53.93 1573L54.23 1572.23L54.53 1571.36L54.83 1570.38L55.13 1569.28L55.43 1568.05L55.73 1566.69L56.03 1565.18L56.33 1563.51L56.63 1561.68L56.93 1559.69L57.23 1557.54L57.53 1555.25L57.83 1552.84L58.13 1550.33L58.43 1547.74L58.73 1545.08L59.03 1542.38L59.33 1539.65L59.63 1536.92L59.93 1534.19L60.23 1531.5L60.53 1528.82L60.83 1526.15L61.13 1523.47L61.43 1520.77L61.73 1518.02L62.03 1515.23L62.33 1512.36L62.63 1509.4L62.93 1506.35L63.23 1503.18L63.53 1499.88L63.83 1496.43L64.13 1492.81L64.43 1489.03L64.73 1485.07L65.03 1480.97L65.33 1476.72L65.63 1472.36L65.93 1467.88L66.23 1463.3L66.53 1458.65L66.83 1453.93L67.13 1449.15L67.43 1444.34L67.73 1439.5L68.03 1434.66L68.33 1429.82L68.63 1425L68.93 1420.2L69.23 1415.43L69.53 1410.7L69.83 1406.01L70.13 1401.37L70.43 1396.79L70.73 1392.26L71.03 1387.8L71.33 1383.41L71.63 1379.1L71.93 1374.87L72.23 1370.73L72.53 1366.68L72.83 1362.73L73.13 1358.86L73.43 1355.07L73.73 1351.33L74.03 1347.64L74.33 1343.99L74.63 1340.36L74.93 1336.73L75.23 1333.11L75.53 1329.46L75.82 1325.79L76.12 1322.07L76.42 1318.29L76.72 1314.45L77.02 1310.53L77.32 1306.51L77.62 1302.38L77.92 1298.15L78.22 1293.82L78.52 1289.4L78.82 1284.91L79.12 1280.37L79.42 1275.78L79.72 1271.15L80.02 1266.5L80.32 1261.85L80.62 1257.2L80.92 1252.56L81.22 1247.96L81.52 1243.39L81.82 1238.88L82.12 1234.44L82.42 1230.07L82.72 1225.77L83.02 1221.57L83.32 1217.46L83.62 1213.45L83.92 1209.55L84.22 1205.77L84.52 1202.11L84.82 1198.59L85.12 1195.2L85.42 1191.96L85.72 1188.85L86.02 1185.88L86.32 1183.03L86.62 1180.31L86.92 1177.7L87.22 1175.21L87.52 1172.82L87.82 1170.54L88.12 1168.36L88.42 1166.27L88.72 1164.28L89.02 1162.37L89.32 1160.55L89.62 1158.82L89.92 1157.18L90.22 1155.62L90.52 1154.15L90.82 1152.77L91.12 1151.47L91.42 1150.25L91.72 1149.12L92.02 1148.07L92.32 1147.1L92.62 1146.21L92.92 1145.41L93.22 1144.68L93.52 1144.04L93.82 1143.47L94.12 1142.98L94.42 1142.57L94.72 1142.23L95.02 1141.97L95.32 1141.79L95.62 1141.68L95.92 1141.64L96.22 1141.68L96.52 1141.79L96.82 1141.97L97.12 1142.22L97.42 1142.56L97.72 1142.97L98.02 1143.45L98.32 1144.02L98.62 1144.67L98.92 1145.4L99.22 1146.21L99.52 1147.11L99.82 1148.1L100.12 1149.17L100.42 1150.33L100.72 1151.58L101.02 1152.93L101.32 1154.36L101.62 1155.89L101.92 1157.52L102.22 1159.24L102.52 1161.06L102.82 1162.98L103.12 1165L103.42 1167.12L103.72 1169.34L104.02 1171.67L104.32 1174.11L104.62 1176.65L104.92 1179.3L105.22 1182.06L105.52 1184.93L105.82 1187.92L106.12 1191.02L106.41 1194.23L106.71 1197.56L107.01 1201L107.31 1204.56L107.61 1208.23L107.91 1211.99L108.21 1215.85L108.51 1219.8L108.81 1223.84L109.11 1227.95L109.41 1232.15L109.71 1236.41L110.01 1240.73L110.31 1245.12L110.61 1249.56L110.91 1254.05L111.21 1258.58L111.51 1263.15L111.81 1267.76L112.11 1272.39L112.41 1277.04L112.71 1281.72L113.01 1286.4L113.31 1291.1L113.61 1295.79L113.91 1300.48L114.21 1305.17L114.51 1309.84L114.81 1314.49L115.11 1319.13L115.41 1323.75L115.71 1328.34L116.01 1332.91L116.31 1337.45L116.61 1341.96L116.91 1346.43L117.21 1350.87L117.51 1355.27L117.81 1359.63L118.11 1363.95L118.41 1368.22L118.71 1372.44L119.01 1376.61L119.31 1380.72L119.61 1384.78L119.91 1388.78L120.21 1392.72L120.51 1396.6L120.81 1400.41L121.11 1404.15L121.41 1407.82L121.71 1411.41L122.01 1414.93L122.31 1418.37L122.61 1421.73L122.91 1425L123.21 1428.19L123.51 1431.28L123.81 1434.29L124.11 1437.21L124.41 1440.05L124.71 1442.81L125.01 1445.49L125.31 1448.09L125.61 1450.62L125.91 1453.08L126.21 1455.48L126.51 1457.8L126.81 1460.07L127.11 1462.27L127.41 1464.42L127.71 1466.51L128.01 1468.54L128.31 1470.51L128.61 1472.4L128.91 1474.22L129.21 1475.95L129.51 1477.58L129.81 1479.12L130.11 1480.55L130.41 1481.86L130.71 1483.06L131.01 1484.12L131.31 1485.06L131.61 1485.87L131.91 1486.54L132.21 1487.09L132.51 1487.51L132.81 1487.79L133.11 1487.95L133.41 1487.98L133.71 1487.88L134.01 1487.66L134.31 1487.3L134.61 1486.82L134.91 1486.2L135.21 1485.46L135.51 1484.6L135.81 1483.6L136.11 1482.48L136.41 1481.24L136.71 1479.88L137 1478.41L137.3 1476.84L137.6 1475.16L137.9 1473.4L138.2 1471.55L138.5 1469.61L138.8 1467.6L139.1 1465.52L139.4 1463.38L139.7 1461.16L140 1458.87L140.3 1456.48L140.6 1454L140.9 1451.41L141.2 1448.7L141.5 1445.87L141.8 1442.89L142.1 1439.78L142.4 1436.5L142.7 1433.07L143 1429.46L143.3 1425.67L143.6 1421.72L143.9 1417.64L144.2 1413.45L144.5 1409.18L144.8 1404.84L145.1 1400.47L145.4 1396.1L145.7 1391.73L146 1387.41L146.3 1383.15L146.6 1378.98L146.9 1374.93L147.2 1371.01L147.5 1367.26L147.8 1363.69L148.1 1360.3L148.4 1357.1L148.7 1354.09L149 1351.26L149.3 1348.61L149.6 1346.14L149.9 1343.84L150.2 1341.73L150.5 1339.78L150.8 1338.02L151.1 1336.42L151.4 1335L151.7 1333.75L152 1332.67L152.3 1331.77L152.6 1331.05L152.9 1330.51L153.2 1330.14L153.5 1329.96L153.8 1329.95L154.1 1330.13L154.4 1330.48L154.7 1331.03L155 1331.75L155.3 1332.66L155.6 1333.76L155.9 1335.04L156.2 1336.51L156.5 1338.13L156.8 1339.89L157.1 1341.76L157.4 1343.72L157.7 1345.74L158 1347.8L158.3 1349.88L158.6 1351.95L158.9 1354.01L159.2 1356.05L159.5 1358.07L159.8 1360.06L160.1 1362.03L160.4 1363.97L160.7 1365.87L161 1367.73L161.3 1369.54L161.6 1371.31L161.9 1373.03L162.2 1374.7L162.5 1376.31L162.8 1377.85L163.1 1379.33L163.4 1380.74L163.7 1382.08L164 1383.35L164.3 1384.53L164.6 1385.62L164.9 1386.6L165.2 1387.44L165.5 1388.13L165.8 1388.64L166.1 1388.96L166.4 1389.06L166.7 1388.94L167 1388.61L167.29 1388.09L167.59 1387.4L167.89 1386.58L168.19 1385.63L168.49 1384.58L168.79 1383.46L169.09 1382.26L169.39 1381L169.69 1379.67L169.99 1378.27L170.29 1376.79L170.59 1375.23L170.89 1373.59L171.19 1371.86L171.49 1370.05L171.79 1368.16L172.09 1366.17L172.39 1364.09L172.69 1361.93L172.99 1359.69L173.29 1357.4L173.59 1355.05L173.89 1352.65L174.19 1350.22L174.49 1347.76L174.79 1345.28L175.09 1342.8L175.39 1340.31L175.69 1337.83L175.99 1335.36L176.29 1332.93L176.59 1330.53L176.89 1328.19L177.19 1325.91L177.49 1323.72L177.79 1321.61L178.09 1319.6L178.39 1317.71L178.69 1315.95L178.99 1314.33L179.29 1312.87L179.59 1311.56L179.89 1310.4L180.19 1309.39L180.49 1308.52L180.79 1307.79L181.09 1307.18L181.39 1306.7L181.69 1306.34L181.99 1306.09L182.29 1305.94L182.59 1305.89L182.89 1305.94L183.19 1306.08L183.49 1306.31L183.79 1306.62L184.09 1307.04L184.39 1307.55L184.69 1308.17L184.99 1308.89L185.29 1309.73L185.59 1310.68L185.89 1311.75L186.19 1312.94L186.49 1314.25L186.79 1315.69L187.09 1317.27L187.39 1318.98L187.69 1320.84L187.99 1322.83L188.29 1324.98L188.59 1327.27L188.89 1329.72L189.19 1332.33L189.49 1335.1L189.79 1338.03L190.09 1341.14L190.39 1344.41L190.69 1347.84L190.99 1351.41L191.29 1355.12L191.59 1358.94L191.89 1362.87L192.19 1366.89L192.49 1371L192.79 1375.18L193.09 1379.41L193.39 1383.68L193.69 1387.99L193.99 1392.32L194.29 1396.66L194.59 1400.99L194.89 1405.31L195.19 1409.6L195.49 1413.84L195.79 1418.03L196.09 1422.16L196.39 1426.2L196.69 1430.16L196.99 1434.01L197.29 1437.77L197.59 1441.43L197.88 1445L198.18 1448.5L198.48 1451.91L198.78 1455.25L199.08 1458.52L199.38 1461.73L199.68 1464.88L199.98 1467.97L200.28 1471.02L200.58 1474.02L200.88 1476.98L201.18 1479.9L201.48 1482.8L201.78 1485.67L202.08 1488.52L202.38 1491.35L202.68 1494.17L202.98 1496.98L203.28 1499.78L203.58 1502.57L203.88 1505.34L204.18 1508.09L204.48 1510.83L204.78 1513.54L205.08 1516.24L205.38 1518.9L205.68 1521.55L205.98 1524.16L206.28 1526.74L206.58 1529.3L206.88 1531.82L207.18 1534.3L207.48 1536.75L207.78 1539.15L208.08 1541.51L208.38 1543.82L208.68 1546.08L208.98 1548.28L209.28 1550.42L209.58 1552.5L209.88 1554.52L210.18 1556.47L210.48 1558.34L210.78 1560.13L211.08 1561.84L211.38 1563.45L211.68 1564.95L211.98 1566.36L212.28 1567.64L212.58 1568.81L212.88 1569.84L213.18 1570.74L213.48 1571.5L213.78 1572.11L214.08 1572.57L214.38 1572.86L214.68 1572.98L214.98 1572.93L215.28 1572.71L215.58 1572.34L215.88 1571.82L216.18 1571.16L216.48 1570.38L216.78 1569.47L217.08 1568.46L217.38 1567.34L217.68 1566.11L217.98 1564.77L218.28 1563.32L218.58 1561.75L218.88 1560.05L219.18 1558.23L219.48 1556.28L219.78 1554.2L220.08 1551.98L220.38 1549.64L220.68 1547.19L220.98 1544.62L221.28 1541.96L221.58 1539.21L221.88 1536.38L222.18 1533.48L222.48 1530.51L222.78 1527.49L223.08 1524.41L223.38 1521.27L223.68 1518.05L223.98 1514.75L224.28 1511.38L224.58 1507.91L224.88 1504.34L225.18 1500.68L225.48 1496.9L225.78 1493.01L226.08 1489L226.38 1484.88L226.68 1480.65L226.98 1476.34L227.28 1471.94L227.58 1467.46L227.88 1462.93L228.18 1458.35L228.47 1453.72L228.77 1449.07L229.07 1444.39L229.37 1439.71L229.67 1435.02L229.97 1430.35L230.27 1425.7L230.57 1421.06L230.87 1416.45L231.17 1411.86L231.47 1407.28L231.77 1402.72L232.07 1398.18L232.37 1393.64L232.67 1389.12L232.97 1384.61L233.27 1380.11L233.57 1375.62L233.87 1371.13L234.17 1366.65L234.47 1362.17L234.77 1357.69L235.07 1353.21L235.37 1348.74L235.67 1344.26L235.97 1339.77L236.27 1335.29L236.57 1330.79L236.87 1326.29L237.17 1321.78L237.47 1317.26L237.77 1312.73L238.07 1308.19L238.37 1303.63L238.67 1299.06L238.97 1294.48L239.27 1289.89L239.57 1285.3L239.87 1280.71L240.17 1276.13L240.47 1271.56L240.77 1267L241.07 1262.47L241.37 1257.96L241.67 1253.47L241.97 1249.02L242.27 1244.61L242.57 1240.24L242.87 1235.92L243.17 1231.64L243.47 1227.42L243.77 1223.26L244.07 1219.16L244.37 1215.13L244.67 1211.17L244.97 1207.29L245.27 1203.49L245.57 1199.77L245.87 1196.13L246.17 1192.57L246.47 1189.1L246.77 1185.72L247.07 1182.42L247.37 1179.2L247.67 1176.08L247.97 1173.04L248.27 1170.09L248.57 1167.24L248.87 1164.47L249.17 1161.79L249.47 1159.21L249.77 1156.72L250.07 1154.33L250.37 1152.03L250.67 1149.83L250.97 1147.72L251.27 1145.71L251.57 1143.8L251.87 1141.99L252.17 1140.28L252.47 1138.67L252.77 1137.16L253.07 1135.75L253.37 1134.45L253.67 1133.25"/>
<path class="ln" stroke="rgb(255,215,0)" stroke-opacity="0.8" d="M253.67 1133.34L253.97 1131.59L254.27 1129.93L254.57 1128.36L254.87 1126.89L255.17 1125.5L255.47 1124.21L255.77 1123.01L256.06 1121.9L256.36 1120.89L256.66 1119.98L256.96 1119.16L257.26 1118.43L257.56 1117.81L257.86 1117.28L258.16 1116.85L258.46 1116.51L258.76 1116.28L259.06 1116.14L259.36 1116.11L259.66 1116.18L259.96 1116.35L260.26 1116.62L260.56 1116.99L260.86 1117.47L261.16 1118.05L261.46 1118.74L261.76 1119.53L262.06 1120.43L262.36 1121.43L262.66 1122.54L262.96 1123.76L263.26 1125.08L263.56 1126.5L263.86 1128.02L264.16 1129.63L264.46 1131.34L264.76 1133.14L265.06 1135.02L265.36 1136.99L265.66 1139.05L265.96 1141.18L266.26 1143.4L266.56 1145.69L266.86 1148.05L267.16 1150.48L267.46 1152.98L267.76 1155.55L268.06 1158.2L268.36 1160.94L268.66 1163.81L268.95 1166.81L269.25 1169.96L269.55 1173.29L269.85 1176.81L270.15 1180.54L270.45 1184.47L270.75 1188.59L271.05 1192.87L271.35 1197.28L271.65 1201.8L271.95 1206.41L272.25 1211.08L272.55 1215.79L272.85 1220.52L273.15 1225.25L273.45 1229.94L273.75 1234.57L274.05 1239.13L274.35 1243.58L274.65 1247.94L274.95 1252.24L275.25 1256.49L275.55 1260.74L275.85 1264.99L276.15 1269.29L276.45 1273.67L276.75 1278.14L277.05 1282.73L277.35 1287.48L277.65 1292.41L277.95 1297.55L278.25 1302.93L278.55 1308.57L278.85 1314.44L279.15 1320.52L279.45 1326.74L279.75 1333.07L280.05 1339.47L280.35 1345.89L280.65 1352.28L280.95 1358.6L281.25 1364.81L281.55 1370.86L281.84 1376.7L282.14 1382.31L282.44 1387.62"/>
<path class="ln" stroke="rgb(255,0,0)" stroke-opacity="0.8" d="M282.44 1391.11L282.74 1395.56L283.04 1400.63L283.34 1406.19L283.64 1412.08L283.94 1418.16L284.24 1424.28L284.54 1430.3L284.84 1436.07L285.14 1441.48L285.44 1446.53L285.74 1451.25L286.04 1455.65L286.34 1459.77L286.64 1463.62L286.94 1467.23L287.24 1470.63L287.53 1473.83L287.83 1476.91L288.13 1479.96L288.43 1483.09L288.73 1486.41L289.03 1490.02L289.33 1493.68L289.63 1497.13L289.93 1500.39L290.23 1503.48L290.53 1506.43L290.83 1509.26L291.13 1512L291.43 1514.67L291.73 1517.3L292.03 1519.9L292.33 1522.46L292.63 1524.97L292.92 1527.41L293.22 1529.77L293.52 1532.03L293.82 1534.19L294.12 1536.22L294.42 1538.12L294.72 1539.89L295.02 1541.5L295.32 1542.98L295.62 1544.31L295.92 1545.49L296.22 1546.51L296.52 1547.39L296.82 1548.11L297.12 1548.66L297.42 1549.06L297.72 1549.3L298.01 1549.37L298.31 1549.27L298.61 1549.01L298.91 1548.59L299.21 1548.04L299.51 1547.37L299.81 1546.6L300.11 1545.76L300.41 1544.85L300.71 1543.88L301.01 1542.85L301.31 1541.75L301.61 1540.54L301.91 1539.23L302.21 1537.8L302.51 1536.23L302.81 1534.52L303.11 1532.64L303.4 1530.59L303.7 1528.36L304 1525.96L304.3 1523.38L304.6 1520.62L304.9 1517.67L305.2 1514.55L305.5 1511.3L305.8 1508L306.1 1504.75L306.4 1501.61L306.7 1498.69L307 1496.05L307.3 1493.79L307.6 1491.99L307.9 1490.61L308.2 1489.45L308.49 1488.28L308.79 1486.87L309.09 1485L309.39 1482.45L309.69 1479.19L309.99 1475.42L310.29 1471.36L310.59 1467.21L310.89 1463.18L311.19 1459.35L311.49 1455.65L311.79 1452.02L312.09 1448.41L312.39 1444.73L312.69 1440.98L312.99 1437.18L313.29 1433.35L313.59 1429.51L313.88 1425.68L314.18 1421.89L314.48 1418.16L314.78 1414.5L315.08 1410.94L315.38 1407.5L315.68 1404.21L315.98 1401.1L316.28 1398.19L316.58 1395.51L316.88 1393.08L317.18 1390.84L317.48 1388.67L317.78 1386.45L318.08 1384.07L318.38 1381.4L318.68 1378.35L318.97 1374.87L319.27 1371.04L319.57 1366.91L319.87 1362.55L320.17 1358.02L320.47 1353.38L320.77 1348.69L321.07 1344.01L321.37 1339.42L321.67 1334.96L321.97 1330.69L322.27 1326.6L322.57 1322.69L322.87 1318.93L323.17 1315.32L323.47 1311.84L323.77 1308.47L324.07 1305.2L324.36 1302.02L324.66 1298.92L324.96 1295.9L325.26 1292.96L325.56 1290.1L325.86 1287.31L326.16 1284.6L326.46 1281.96L326.76 1279.4L327.06 1276.91L327.36 1274.49L327.66 1272.14L327.96 1269.86L328.26 1267.65L328.56 1265.51L328.86 1263.43L329.16 1261.42L329.45 1259.47L329.75 1257.58L330.05 1255.76L330.35 1254L330.65 1252.3L330.95 1250.65L331.25 1249.07L331.55 1247.54L331.85 1246.07L332.15 1244.65L332.45 1243.29L332.75 1241.97L333.05 1240.72L333.35 1239.51L333.65 1238.35L333.95 1237.24L334.25 1236.17L334.55 1235.16L334.84 1234.19L335.14 1233.27L335.44 1232.39L335.74 1231.57L336.04 1230.79L336.34 1230.07L336.64 1229.39L336.94 1228.76L337.24 1228.19L337.54 1227.66L337.84 1227.19L338.14 1226.77L338.44 1226.4L338.74 1226.08L339.04 1225.82L339.34 1225.61L339.64 1225.45L339.94 1225.35L340.23 1225.3L340.53 1225.31L340.83 1225.37"/>
<path class="ln" stroke="rgb(0,0,128)" stroke-opacity="0.8" d="M285.19 1413.33L285.93 1424.44L286.67 1439.26L287.78 1457.78L288.89 1472.59L290 1487.41L290.08 1496.67L292 1523.33L293.67 1539.17L295.83 1540.83L296.67 1551.67L298.33 1555.83L299.67 1548.33L300.83 1541.67L302.5 1535L303.67 1531.67L305 1513.33L306.67 1492.5L306.75 1492.96L307.78 1483.7L308.89 1465.19L309.63 1448.89L310.74 1442.96L311.48 1428.89L312.22 1436.3L312.96 1425.93L314.07 1413.33L315.56 1391.11L317.04 1380L322.5 1335L325 1304.17L327.5 1278.33L330 1263.33L332.5 1252.5L333.33 1247.5L335 1243.33L336.67 1240L338.33 1236.67L340.33 1234.17"/>
<path class="ln" stroke="rgb(50,205,50)" stroke-opacity="0.8" d="M340.33 1234.17L341.67 1256.67L343 1284.67"/>
</g>
<rect class="sp" x="36" y="1093.45" width="321.4" height="506.9"/>
<path class="sp" d="M50.6 1600.35v2.6M90 1600.35v2.6M129.7 1600.35v2.6M169.1 1600.35v2.6M208.9 1600.35v2.6M248.2 1600.35v2.6M288.2 1600.35v2.6M327.4 1600.35v2.6M36 1115.65h-2.6M36 1178.5h-2.6M36 1241.35h-2.6M36 1304.2h-2.6M36 1367.05h-2.6M36 1429.9h-2.6M36 1492.75h-2.6M36 1555.6h-2.6"/>
<text class="tk" x="50.8" y="1611.15" text-anchor="middle" textLength="25.44" lengthAdjust="spacingAndGlyphs">2018−01</text>
<text class="tk" x="90.2" y="1611.15" text-anchor="middle" textLength="25.44" lengthAdjust="spacingAndGlyphs">2018−07</text>
<text class="tk" x="129.9" y="1611.15" text-anchor="middle" textLength="25.44" lengthAdjust="spacingAndGlyphs">2019−01</text>
<text class="tk" x="169.3" y="1611.15" text-anchor="middle" textLength="25.44" lengthAdjust="spacingAndGlyphs">2019−07</text>
<text class="tk" x="209.1" y="1611.15" text-anchor="middle" textLength="25.44" lengthAdjust="spacingAndGlyphs">2020−01</text>
<text class="tk" x="248.4" y="1611.15" text-anchor="middle" textLength="25.44" lengthAdjust="spacingAndGlyphs">2020−07</text>
<text class="tk" x="288.4" y="1611.15" text-anchor="middle" textLength="25.44" lengthAdjust="spacingAndGlyphs">2021−01</text>
<text class="tk" x="327.6" y="1611.15" text-anchor="middle" textLength="25.44" lengthAdjust="spacingAndGlyphs">2021−07</text>
<text class="tk" x="30.4" y="1118.45" text-anchor="end" textLength="18.1" lengthAdjust="spacingAndGlyphs">40000</text>
<text class="tk" x="30.4" y="1181.3" text-anchor="end" textLength="18.1" lengthAdjust="spacingAndGlyphs">30000</text>
<text class="tk" x="30.4" y="1244.15" text-anchor="end" textLength="18.1" lengthAdjust="spacingAndGlyphs">20000</text>
<text class="tk" x="30.4" y="1307" text-anchor="end" textLength="18.1" lengthAdjust="spacingAndGlyphs">10000</text>
<text class="tk" x="30.4" y="1369.85" text-anchor="end" textLength="3.22" lengthAdjust="spacingAndGlyphs">0</text>
<text class="tk" x="30.4" y="1432.7" text-anchor="end" textLength="21.82" lengthAdjust="spacingAndGlyphs">−10000</text>
<text class="tk" x="30.4" y="1495.55" text-anchor="end" textLength="21.82" lengthAdjust="spacingAndGlyphs">−20000</text>
<text class="tk" x="30.4" y="1558.4" text-anchor="end" textLength="21.82" lengthAdjust="spacingAndGlyphs">−30000</text>
<text class="tt" x="196.5" y="1088.95" text-anchor="middle" textLength="16.6" lengthAdjust="spacingAndGlyphs">IMF7</text>
<rect x="281.25" y="1097.15" width="72.05" height="56.2" rx="1.5" ry="1.5" fill="#fff" fill-opacity="0.8" stroke="#ccc" stroke-opacity="0.8" stroke-width="0.75"/>
<path class="ln" stroke="rgb(0,0,255)" stroke-opacity="0.8" d="M284.15 1103.6h16"/>
<text class="lg" x="305.65" y="1106.2">训练集</text>
<path class="ln" stroke="rgb(255,215,0)" stroke-opacity="0.8" d="M284.15 1114.36h16"/>
<text class="lg" x="305.65" y="1116.96">验证集</text>
<path class="ln" stroke="rgb(255,0,0)" stroke-opacity="0.8" d="M284.15 1125.12h16"/>
<text class="lg" x="305.65" y="1127.72">测试集</text>
<path class="ln" stroke="rgb(0,0,128)" stroke-opacity="0.8" d="M284.15 1135.88h16"/>
<text class="lg" x="305.65" y="1138.48">测试集预测</text>
<path class="ln" stroke="rgb(50,205,50)" stroke-opacity="0.8" d="M284.15 1146.64h16"/>
<text class="lg" x="305.65" y="1149.24">向后预测</text><text class="tk" x="335.75" y="1149.34" textLength="7" lengthAdjust="spacingAndGlyphs">10</text><text class="lg" x="343.15" y="1149.24">天</text>
</g>
<g id="ax8">
<clipPath id="cp8"><rect x="393.3" y="1093.45" width="321.4" height="506.9"/></clipPath>
<path class="gr" d="M407.9 1093.45V1600.35M447.3 1093.45V1600.35M487 1093.45V1600.35M526.4 1093.45V1600.35M566.2 1093.45V1600.35M605.5 1093.45V1600.35M645.5 1093.45V1600.35M684.7 1093.45V1600.35M393.3 1101.05H714.7M393.3 1158.1H714.7M393.3 1215.15H714.7M393.3 1272.2H714.7M393.3 1329.25H714.7M393.3 1386.3H714.7M393.3 1443.35H714.7M393.3 1500.4H714.7M393.3 1557.45H714.7"/>
<g clip-path="url(#cp8)">
<path class="ln" stroke="rgb(0,0,255)" stroke-opacity="0.8" d="M407.5 1117.55L407.8 1117.26L408.1 1117L408.4 1116.78L408.7 1116.6L409 1116.45L409.3 1116.33L409.6 1116.25L409.9 1116.21L410.2 1116.19L410.5 1116.21L410.8 1116.27L411.1 1116.36L411.4 1116.48L411.7 1116.64L412 1116.83L412.3 1117.05L412.6 1117.31L412.9 1117.59L413.2 1117.92L413.5 1118.27L413.8 1118.66L414.1 1119.07L414.4 1119.53L414.7 1120.01L415 1120.52L415.3 1121.07L415.6 1121.65L415.9 1122.25L416.2 1122.89L416.5 1123.57L416.8 1124.27L417.1 1125L417.4 1125.76L417.7 1126.56L418 1127.38L418.3 1128.23L418.6 1129.12L418.9 1130.03L419.2 1130.98L419.5 1131.95L419.8 1132.95L420.1 1133.98L420.4 1135.04L420.7 1136.13L421 1137.25L421.3 1138.4L421.6 1139.57L421.9 1140.78L422.2 1142.01L422.5 1143.27L422.79 1144.56L423.09 1145.87L423.39 1147.21L423.69 1148.58L423.99 1149.98L424.29 1151.4L424.59 1152.86L424.89 1154.33L425.19 1155.84L425.49 1157.37L425.79 1158.93L426.09 1160.51L426.39 1162.12L426.69 1163.76L426.99 1165.42L427.29 1167.1L427.59 1168.82L427.89 1170.55L428.19 1172.32L428.49 1174.1L428.79 1175.92L429.09 1177.75L429.39 1179.61L429.69 1181.5L429.99 1183.41L430.29 1185.34L430.59 1187.3L430.89 1189.28L431.19 1191.29L431.49 1193.32L431.79 1195.37L432.09 1197.44L432.39 1199.54L432.69 1201.66L432.99 1203.81L433.29 1205.97L433.59 1208.16L433.89 1210.37L434.19 1212.6L434.49 1214.86L434.79 1217.13L435.09 1219.43L435.39 1221.75L435.69 1224.09L435.99 1226.45L436.29 1228.83L436.59 1231.23L436.89 1233.64L437.19 1236.08L437.49 1238.53L437.79 1241L438.09 1243.49L438.39 1245.99L438.69 1248.5L438.99 1251.03L439.29 1253.58L439.59 1256.14L439.89 1258.71L440.19 1261.29L440.49 1263.88L440.79 1266.49L441.09 1269.1L441.39 1271.73L441.69 1274.36L441.99 1277.01L442.29 1279.66L442.59 1282.32L442.89 1284.98L443.19 1287.66L443.49 1290.34L443.79 1293.02L444.09 1295.71L444.39 1298.4L444.69 1301.1L444.99 1303.8L445.29 1306.5L445.59 1309.21L445.89 1311.91L446.19 1314.62L446.49 1317.32L446.79 1320.03L447.09 1322.74L447.39 1325.44L447.69 1328.14L447.99 1330.84L448.29 1333.54L448.59 1336.23L448.89 1338.92L449.19 1341.61L449.49 1344.3L449.79 1346.99L450.09 1349.67L450.39 1352.35L450.69 1355.03L450.99 1357.71L451.29 1360.38L451.59 1363.05L451.89 1365.72L452.19 1368.39L452.49 1371.05L452.79 1373.71L453.09 1376.37L453.38 1379.03L453.68 1381.69L453.98 1384.34L454.28 1386.99L454.58 1389.64L454.88 1392.28L455.18 1394.92L455.48 1397.56L455.78 1400.2L456.08 1402.84L456.38 1405.47L456.68 1408.1L456.98 1410.73L457.28 1413.36L457.58 1415.98L457.88 1418.6L458.18 1421.22L458.48 1423.84L458.78 1426.45L459.08 1429.07L459.38 1431.68L459.68 1434.28L459.98 1436.89L460.28 1439.49L460.58 1442.09L460.88 1444.68L461.18 1447.27L461.48 1449.85L461.78 1452.43L462.08 1455L462.38 1457.55L462.68 1460.1L462.98 1462.64L463.28 1465.16L463.58 1467.67L463.88 1470.16L464.18 1472.64L464.48 1475.11L464.78 1477.55L465.08 1479.98L465.38 1482.39L465.68 1484.77L465.98 1487.14L466.28 1489.48L466.58 1491.8L466.88 1494.1L467.18 1496.37L467.48 1498.61L467.78 1500.83L468.08 1503.03L468.38 1505.19L468.68 1507.34L468.98 1509.45L469.28 1511.54L469.58 1513.6L469.88 1515.63L470.18 1517.63L470.48 1519.61L470.78 1521.56L471.08 1523.48L471.38 1525.37L471.68 1527.23L471.98 1529.06L472.28 1530.86L472.58 1532.64L472.88 1534.38L473.18 1536.09L473.48 1537.77L473.78 1539.42L474.08 1541.03L474.38 1542.62L474.68 1544.17L474.98 1545.69L475.28 1547.18L475.58 1548.63L475.88 1550.06L476.18 1551.44L476.48 1552.8L476.78 1554.12L477.08 1555.4L477.38 1556.66L477.68 1557.87L477.98 1559.05L478.28 1560.2L478.58 1561.31L478.88 1562.38L479.18 1563.42L479.48 1564.42L479.78 1565.38L480.08 1566.31L480.38 1567.2L480.68 1568.05L480.98 1568.86L481.28 1569.63L481.58 1570.37L481.88 1571.07L482.18 1571.72L482.48 1572.34L482.78 1572.92L483.08 1573.46L483.38 1573.96L483.68 1574.41L483.97 1574.83L484.27 1575.2L484.57 1575.54L484.87 1575.83L485.17 1576.08L485.47 1576.29L485.77 1576.45L486.07 1576.57L486.37 1576.65L486.67 1576.68L486.97 1576.68L487.27 1576.62L487.57 1576.52L487.87 1576.38L488.17 1576.2L488.47 1575.96L488.77 1575.69L489.07 1575.36L489.37 1574.99L489.67 1574.58L489.97 1574.11L490.27 1573.6L490.57 1573.04L490.87 1572.43L491.17 1571.77L491.47 1571.05L491.77 1570.29L492.07 1569.47L492.37 1568.6L492.67 1567.67L492.97 1566.69L493.27 1565.65L493.57 1564.55L493.87 1563.4L494.17 1562.19L494.47 1560.92L494.77 1559.59L495.07 1558.2L495.37 1556.74L495.67 1555.23L495.97 1553.65L496.27 1552L496.57 1550.29L496.87 1548.52L497.17 1546.68L497.47 1544.77L497.77 1542.8L498.07 1540.76L498.37 1538.65L498.67 1536.49L498.97 1534.28L499.27 1532.01L499.57 1529.69L499.87 1527.32L500.17 1524.91L500.47 1522.46L500.77 1519.98L501.07 1517.46L501.37 1514.9L501.67 1512.33L501.97 1509.72L502.27 1507.1L502.57 1504.46L502.87 1501.8L503.17 1499.13L503.47 1496.45L503.77 1493.77L504.07 1491.07L504.37 1488.37L504.67 1485.68L504.97 1482.98L505.27 1480.29L505.57 1477.6L505.87 1474.92L506.17 1472.25L506.47 1469.6L506.77 1466.96L507.07 1464.34L507.37 1461.73L507.67 1459.15L507.97 1456.6L508.27 1454.07L508.57 1451.57L508.87 1449.1L509.17 1446.66L509.47 1444.23L509.77 1441.83L510.07 1439.44L510.37 1437.06L510.67 1434.69L510.97 1432.33L511.27 1429.97L511.57 1427.61L511.87 1425.25L512.17 1422.88L512.47 1420.51L512.77 1418.12L513.07 1415.72L513.37 1413.3L513.67 1410.86L513.97 1408.4L514.26 1405.91L514.56 1403.41L514.86 1400.89L515.16 1398.34L515.46 1395.77L515.76 1393.18L516.06 1390.56L516.36 1387.93L516.66 1385.27L516.96 1382.58L517.26 1379.88L517.56 1377.16L517.86 1374.43L518.16 1371.7L518.46 1368.97L518.76 1366.24L519.06 1363.53L519.36 1360.83L519.66 1358.15L519.96 1355.49L520.26 1352.87L520.56 1350.28L520.86 1347.73L521.16 1345.22L521.46 1342.77L521.76 1340.37L522.06 1338.02L522.36 1335.73L522.66 1333.5L522.96 1331.32L523.26 1329.19L523.56 1327.11L523.86 1325.09L524.16 1323.11L524.46 1321.18L524.76 1319.3L525.06 1317.46L525.36 1315.67L525.66 1313.93L525.96 1312.23L526.26 1310.58L526.56 1308.98L526.86 1307.42L527.16 1305.9L527.46 1304.43L527.76 1303L528.06 1301.62L528.36 1300.28L528.66 1298.98L528.96 1297.72L529.26 1296.51L529.56 1295.34L529.86 1294.21L530.16 1293.12L530.46 1292.07L530.76 1291.06L531.06 1290.09L531.36 1289.17L531.66 1288.28L531.96 1287.43L532.26 1286.61L532.56 1285.84L532.86 1285.11L533.16 1284.41L533.46 1283.75L533.76 1283.12L534.06 1282.54L534.36 1281.99L534.66 1281.47L534.96 1280.99L535.26 1280.55L535.56 1280.14L535.86 1279.76L536.16 1279.42L536.46 1279.12L536.76 1278.85L537.06 1278.61L537.36 1278.4L537.66 1278.23L537.96 1278.09L538.26 1277.99L538.56 1277.91L538.86 1277.87L539.16 1277.86L539.46 1277.89L539.76 1277.94L540.06 1278.02L540.36 1278.14L540.66 1278.28L540.96 1278.46L541.26 1278.66L541.56 1278.9L541.86 1279.16L542.16 1279.46L542.46 1279.78L542.76 1280.13L543.06 1280.51L543.36 1280.92L543.66 1281.35L543.96 1281.82L544.26 1282.31L544.56 1282.83L544.85 1283.37L545.15 1283.94L545.45 1284.54L545.75 1285.16L546.05 1285.81L546.35 1286.48L546.65 1287.18L546.95 1287.9L547.25 1288.65L547.55 1289.42L547.85 1290.22L548.15 1291.04L548.45 1291.88L548.75 1292.75L549.05 1293.63L549.35 1294.55L549.65 1295.48L549.95 1296.44L550.25 1297.42L550.55 1298.42L550.85 1299.44L551.15 1300.48L551.45 1301.54L551.75 1302.62L552.05 1303.73L552.35 1304.85L552.65 1306L552.95 1307.16L553.25 1308.34L553.55 1309.54L553.85 1310.76L554.15 1312L554.45 1313.25L554.75 1314.53L555.05 1315.82L555.35 1317.13L555.65 1318.45L555.95 1319.79L556.25 1321.15L556.55 1322.53L556.85 1323.92L557.15 1325.32L557.45 1326.75L557.75 1328.18L558.05 1329.63L558.35 1331.1L558.65 1332.58L558.95 1334.07L559.25 1335.58L559.55 1337.1L559.85 1338.64L560.15 1340.19L560.45 1341.75L560.75 1343.32L561.05 1344.9L561.35 1346.49L561.65 1348.09L561.95 1349.69L562.25 1351.3L562.55 1352.91L562.85 1354.52L563.15 1356.14L563.45 1357.76L563.75 1359.37L564.05 1360.99L564.35 1362.6L564.65 1364.21L564.95 1365.81L565.25 1367.4L565.55 1368.99L565.85 1370.56L566.15 1372.13L566.45 1373.69L566.75 1375.23L567.05 1376.76L567.35 1378.27L567.65 1379.77L567.95 1381.25L568.25 1382.71L568.55 1384.16L568.85 1385.58L569.15 1386.98L569.45 1388.35L569.75 1389.7L570.05 1391.03L570.35 1392.33L570.65 1393.6L570.95 1394.85L571.25 1396.08L571.55 1397.28L571.85 1398.46L572.15 1399.62L572.45 1400.76L572.75 1401.88L573.05 1402.98L573.35 1404.07L573.65 1405.14L573.95 1406.19L574.25 1407.23L574.55 1408.26L574.85 1409.28L575.15 1410.28L575.44 1411.27L575.74 1412.25L576.04 1413.22L576.34 1414.18L576.64 1415.13L576.94 1416.07L577.24 1416.99L577.54 1417.9L577.84 1418.8L578.14 1419.69L578.44 1420.57L578.74 1421.44L579.04 1422.29L579.34 1423.13L579.64 1423.96L579.94 1424.78L580.24 1425.58L580.54 1426.37L580.84 1427.15L581.14 1427.92L581.44 1428.67L581.74 1429.42L582.04 1430.14L582.34 1430.86L582.64 1431.56L582.94 1432.25L583.24 1432.92L583.54 1433.58L583.84 1434.23L584.14 1434.87L584.44 1435.49L584.74 1436.09L585.04 1436.69L585.34 1437.27L585.64 1437.83L585.94 1438.38L586.24 1438.92L586.54 1439.44L586.84 1439.95L587.14 1440.44L587.44 1440.92L587.74 1441.38L588.04 1441.83L588.34 1442.26L588.64 1442.68L588.94 1443.09L589.24 1443.47L589.54 1443.85L589.84 1444.2L590.14 1444.55L590.44 1444.87L590.74 1445.18L591.04 1445.48L591.34 1445.76L591.64 1446.03L591.94 1446.28L592.24 1446.52L592.54 1446.74L592.84 1446.95L593.14 1447.15L593.44 1447.33L593.74 1447.5L594.04 1447.65L594.34 1447.79L594.64 1447.92L594.94 1448.03L595.24 1448.14L595.54 1448.23L595.84 1448.31L596.14 1448.37L596.44 1448.42L596.74 1448.47L597.04 1448.5L597.34 1448.51L597.64 1448.52L597.94 1448.52L598.24 1448.5L598.54 1448.48L598.84 1448.44L599.14 1448.39L599.44 1448.34L599.74 1448.27L600.04 1448.19L600.34 1448.1L600.64 1448.01L600.94 1447.9L601.24 1447.79L601.54 1447.66L601.84 1447.53L602.14 1447.38L602.44 1447.23L602.74 1447.07L603.04 1446.91L603.34 1446.73L603.64 1446.55L603.94 1446.36L604.24 1446.16L604.54 1445.95L604.84 1445.74L605.14 1445.52L605.44 1445.29L605.74 1445.05L606.03 1444.81L606.33 1444.57L606.63 1444.31L606.93 1444.05L607.23 1443.79L607.53 1443.52L607.83 1443.24L608.13 1442.96L608.43 1442.67L608.73 1442.38L609.03 1442.08L609.33 1441.78L609.63 1441.48L609.93 1441.16L610.23 1440.85L610.53 1440.53L610.83 1440.21"/>
<path class="ln" stroke="rgb(255,215,0)" stroke-opacity="0.8" d="M610.83 1440.3L611.13 1439.93L611.43 1439.55L611.73 1439.16L612.03 1438.75L612.33 1438.35L612.62 1437.93L612.92 1437.5L613.22 1437.07L613.52 1436.63L613.82 1436.18L614.12 1435.72L614.42 1435.25L614.72 1434.78L615.01 1434.3L615.31 1433.81L615.61 1433.31L615.91 1432.8L616.21 1432.29L616.51 1431.77L616.81 1431.25L617.1 1430.72L617.4 1430.18L617.7 1429.63L618 1429.08L618.3 1428.52L618.6 1427.95L618.9 1427.38L619.19 1426.8L619.49 1426.22L619.79 1425.63L620.09 1425.03L620.39 1424.43L620.69 1423.82L620.99 1423.21L621.28 1422.59L621.58 1421.96L621.88 1421.33L622.18 1420.7L622.48 1420.06L622.78 1419.42L623.08 1418.77L623.38 1418.11L623.67 1417.46L623.97 1416.79L624.27 1416.12L624.57 1415.45L624.87 1414.78L625.17 1414.1L625.47 1413.41L625.76 1412.73L626.06 1412.03L626.36 1411.34L626.66 1410.64L626.96 1409.94L627.26 1409.23L627.56 1408.53L627.85 1407.81L628.15 1407.1L628.45 1406.38L628.75 1405.66L629.05 1404.94L629.35 1404.21L629.65 1403.49L629.94 1402.76L630.24 1402.02L630.54 1401.29L630.84 1400.55L631.14 1399.81L631.44 1399.07L631.74 1398.33L632.03 1397.59L632.33 1396.84L632.63 1396.09L632.93 1395.35L633.23 1394.6L633.53 1393.85L633.83 1393.1L634.12 1392.34L634.42 1391.59L634.72 1390.84L635.02 1390.08L635.32 1389.33L635.62 1388.58L635.92 1387.82L636.22 1387.07L636.51 1386.31L636.81 1385.56L637.11 1384.8L637.41 1384.05L637.71 1383.29L638.01 1382.54L638.31 1381.79L638.6 1381.03L638.9 1380.28L639.2 1379.53L639.5 1378.78"/>
<path class="ln" stroke="rgb(255,0,0)" stroke-opacity="0.8" d="M639.44 1378.77L639.74 1377.92L640.04 1377.08L640.34 1376.25L640.64 1375.43L640.94 1374.61L641.24 1373.8L641.54 1373.01L641.84 1372.21L642.13 1371.43L642.43 1370.66L642.73 1369.89L643.03 1369.13L643.33 1368.38L643.63 1367.64L643.93 1366.9L644.23 1366.17L644.53 1365.45L644.83 1364.74L645.12 1364.04L645.42 1363.34L645.72 1362.65L646.02 1361.97L646.32 1361.3L646.62 1360.63L646.92 1359.97L647.22 1359.32L647.52 1358.68L647.81 1358.04L648.11 1357.41L648.41 1356.79L648.71 1356.18L649.01 1355.57L649.31 1354.97L649.61 1354.38L649.91 1353.79L650.21 1353.21L650.5 1352.64L650.8 1352.08L651.1 1351.52L651.4 1350.97L651.7 1350.43L652 1349.89L652.3 1349.36L652.6 1348.84L652.9 1348.32L653.2 1347.82L653.49 1347.31L653.79 1346.82L654.09 1346.33L654.39 1345.85L654.69 1345.37L654.99 1344.91L655.29 1344.44L655.59 1343.99L655.89 1343.54L656.18 1343.1L656.48 1342.66L656.78 1342.23L657.08 1341.81L657.38 1341.39L657.68 1340.98L657.98 1340.58L658.28 1340.18L658.58 1339.79L658.87 1339.4L659.17 1339.02L659.47 1338.65L659.77 1338.28L660.07 1337.92L660.37 1337.56L660.67 1337.21L660.97 1336.87L661.27 1336.53L661.57 1336.2L661.86 1335.87L662.16 1335.55L662.46 1335.24L662.76 1334.93L663.06 1334.63L663.36 1334.33L663.66 1334.04L663.96 1333.75L664.26 1333.47L664.55 1333.2L664.85 1332.93L665.15 1332.66L665.45 1332.41L665.75 1332.15L666.05 1331.9L666.35 1331.66L666.65 1331.42L666.95 1331.19L667.24 1330.97L667.54 1330.74L667.84 1330.53L668.14 1330.32L668.44 1330.11L668.74 1329.91L669.04 1329.71L669.34 1329.52L669.64 1329.34L669.94 1329.16L670.23 1328.98L670.53 1328.81L670.83 1328.64L671.13 1328.48L671.43 1328.32L671.73 1328.17L672.03 1328.02L672.33 1327.88L672.63 1327.74L672.92 1327.61L673.22 1327.48L673.52 1327.35L673.82 1327.23L674.12 1327.12L674.42 1327.01L674.72 1326.9L675.02 1326.8L675.32 1326.7L675.61 1326.61L675.91 1326.52L676.21 1326.43L676.51 1326.35L676.81 1326.27L677.11 1326.2L677.41 1326.13L677.71 1326.06L678.01 1326L678.31 1325.95L678.6 1325.89L678.9 1325.85L679.2 1325.8L679.5 1325.76L679.8 1325.72L680.1 1325.69L680.4 1325.66L680.7 1325.63L681 1325.61L681.29 1325.59L681.59 1325.58L681.89 1325.56L682.19 1325.56L682.49 1325.55L682.79 1325.55L683.09 1325.55L683.39 1325.56L683.69 1325.57L683.98 1325.58L684.28 1325.6L684.58 1325.61L684.88 1325.64L685.18 1325.66L685.48 1325.69L685.78 1325.72L686.08 1325.76L686.38 1325.8L686.68 1325.84L686.97 1325.88L687.27 1325.93L687.57 1325.98L687.87 1326.03L688.17 1326.09L688.47 1326.15L688.77 1326.21L689.07 1326.27L689.37 1326.34L689.66 1326.41L689.96 1326.48L690.26 1326.56L690.56 1326.63L690.86 1326.71L691.16 1326.8L691.46 1326.88L691.76 1326.97L692.06 1327.06L692.35 1327.15L692.65 1327.25L692.95 1327.34L693.25 1327.44L693.55 1327.55L693.85 1327.65L694.15 1327.76L694.45 1327.87L694.75 1327.98L695.05 1328.09L695.34 1328.2L695.64 1328.32L695.94 1328.44L696.24 1328.56L696.54 1328.68L696.84 1328.81L697.14 1328.93L697.44 1329.06L697.74 1329.19L698.03 1329.33L698.33 1329.46"/>
<path class="ln" stroke="rgb(0,0,128)" stroke-opacity="0.8" d="M642.41 1380.74L643.89 1376.3L645.37 1377.78L647.22 1372.96L649.07 1368.52L650.93 1365.56L652.41 1360.74L653.89 1370.37L656.11 1360L657.22 1364.07L658.7 1354.44L660.19 1350.37L662.04 1355.19L663.52 1355.93L665 1352.22L666.48 1352.96L667.96 1348.15L669.07 1350.74L669.81 1343.33L670.78 1357.04L672.04 1343.33L673.15 1345.93L674.26 1341.85L675.74 1338.15L676.85 1331.48L677.96 1325.56L679.07 1322.59L680.19 1318.52L681.3 1321.11L682.78 1319.63L684.63 1322.59L686.11 1319.63L687.96 1317.78L689.07 1321.85L690.19 1324.07L691.67 1321.48L693.15 1324.07L694.26 1323.33L695.74 1325.56L697.59 1326.67"/>
<path class="ln" stroke="rgb(50,205,50)" stroke-opacity="0.8" d="M697.59 1326.67L697.88 1325.28L698.17 1323.53L698.46 1321.52L698.74 1319.3L699.03 1316.51L699.32 1313.45L699.61 1310.68L699.9 1308.06L700.19 1305.56"/>
</g>
<rect class="sp" x="393.3" y="1093.45" width="321.4" height="506.9"/>
<path class="sp" d="M407.9 1600.35v2.6M447.3 1600.35v2.6M487 1600.35v2.6M526.4 1600.35v2.6M566.2 1600.35v2.6M605.5 1600.35v2.6M645.5 1600.35v2.6M684.7 1600.35v2.6M393.3 1101.05h-2.6M393.3 1158.1h-2.6M393.3 1215.15h-2.6M393.3 1272.2h-2.6M393.3 1329.25h-2.6M393.3 1386.3h-2.6M393.3 1443.35h-2.6M393.3 1500.4h-2.6M393.3 1557.45h-2.6"/>
<text class="tk" x="408.1" y="1611.15" text-anchor="middle" textLength="25.44" lengthAdjust="spacingAndGlyphs">2018−01</text>
<text class="tk" x="447.5" y="1611.15" text-anchor="middle" textLength="25.44" lengthAdjust="spacingAndGlyphs">2018−07</text>
<text class="tk" x="487.2" y="1611.15" text-anchor="middle" textLength="25.44" lengthAdjust="spacingAndGlyphs">2019−01</text>
<text class="tk" x="526.6" y="1611.15" text-anchor="middle" textLength="25.44" lengthAdjust="spacingAndGlyphs">2019−07</text>
<text class="tk" x="566.4" y="1611.15" text-anchor="middle" textLength="25.44" lengthAdjust="spacingAndGlyphs">2020−01</text>
<text class="tk" x="605.7" y="1611.15" text-anchor="middle" textLength="25.44" lengthAdjust="spacingAndGlyphs">2020−07</text>
<text class="tk" x="645.7" y="1611.15" text-anchor="middle" textLength="25.44" lengthAdjust="spacingAndGlyphs">2021−01</text>
<text class="tk" x="684.9" y="1611.15" text-anchor="middle" textLength="25.44" lengthAdjust="spacingAndGlyphs">2021−07</text>
<text class="tk" x="387.7" y="1103.85" text-anchor="end" textLength="18.1" lengthAdjust="spacingAndGlyphs">50000</text>
<text class="tk" x="387.7" y="1160.9" text-anchor="end" textLength="18.1" lengthAdjust="spacingAndGlyphs">40000</text>
<text class="tk" x="387.7" y="1217.95" text-anchor="end" textLength="18.1" lengthAdjust="spacingAndGlyphs">30000</text>
<text class="tk" x="387.7" y="1275" text-anchor="end" textLength="18.1" lengthAdjust="spacingAndGlyphs">20000</text>
<text class="tk" x="387.7" y="1332.05" text-anchor="end" textLength="18.1" lengthAdjust="spacingAndGlyphs">10000</text>
<text class="tk" x="387.7" y="1389.1" text-anchor="end" textLength="3.22" lengthAdjust="spacingAndGlyphs">0</text>
<text class="tk" x="387.7" y="1446.15" text-anchor="end" textLength="21.82" lengthAdjust="spacingAndGlyphs">−10000</text>
<text class="tk" x="387.7" y="1503.2" text-anchor="end" textLength="21.82" lengthAdjust="spacingAndGlyphs">−20000</text>
<text class="tk" x="387.7" y="1560.25" text-anchor="end" textLength="21.82" lengthAdjust="spacingAndGlyphs">−30000</text>
<text class="tt" x="553.8" y="1088.95" text-anchor="middle" textLength="16.6" lengthAdjust="spacingAndGlyphs">IMF8</text>
<rect x="638.55" y="1097.15" width="72.05" height="56.2" rx="1.5" ry="1.5" fill="#fff" fill-opacity="0.8" stroke="#ccc" stroke-opacity="0.8" stroke-width="0.75"/>
<path class="ln" stroke="rgb(0,0,255)" stroke-opacity="0.8" d="M641.45 1103.6h16"/>
<text class="lg" x="662.95" y="1106.2">训练集</text>
<path class="ln" stroke="rgb(255,215,0)" stroke-opacity="0.8" d="M641.45 1114.36h16"/>
<text class="lg" x="662.95" y="1116.96">验证集</text>
<path class="ln" stroke="rgb(255,0,0)" stroke-opacity="0.8" d="M641.45 1125.12h16"/>
<text class="lg" x="662.95" y="1127.72">测试集</text>
<path class="ln" stroke="rgb(0,0,128)" stroke-opacity="0.8" d="M641.45 1135.88h16"/>
<text class="lg" x="662.95" y="1138.48">测试集预测</text>
<path class="ln" stroke="rgb(50,205,50)" stroke-opacity="0.8" d="M641.45 1146.64h16"/>
<text class="lg" x="662.95" y="1149.24">向后预测</text><text class="tk" x="693.05" y="1149.34" textLength="7" lengthAdjust="spacingAndGlyphs">10</text><text class="lg" x="700.45" y="1149.24">天</text>
</g>
<g id="ax9">
<clipPath id="cp9"><rect x="750.5" y="1093.45" width="321.4" height="506.9"/></clipPath>
<path class="gr" d="M765.1 1093.45V1600.35M804.5 1093.45V1600.35M844.2 1093.45V1600.35M883.6 1093.45V1600.35M923.4 1093.45V1600.35M962.7 1093.45V1600.35M1002.7 1093.45V1600.35M1041.9 1093.45V1600.35M750.5 1165.52H1071.9M750.5 1252.89H1071.9M750.5 1340.26H1071.9M750.5 1427.63H1071.9M750.5 1515H1071.9"/>
<g clip-path="url(#cp9)">
<path class="ln" stroke="rgb(0,0,255)" stroke-opacity="0.8" d="M765 1115.76L765.3 1116.25L765.6 1116.75L765.9 1117.27L766.2 1117.79L766.5 1118.33L766.8 1118.88L767.1 1119.44L767.4 1120.01L767.7 1120.59L768 1121.18L768.3 1121.79L768.6 1122.4L768.9 1123.03L769.2 1123.66L769.5 1124.31L769.8 1124.97L770.1 1125.63L770.4 1126.31L770.7 1127L771 1127.69L771.3 1128.4L771.6 1129.11L771.9 1129.84L772.2 1130.57L772.5 1131.31L772.8 1132.07L773.1 1132.83L773.4 1133.59L773.7 1134.37L774 1135.16L774.3 1135.95L774.6 1136.75L774.9 1137.56L775.2 1138.38L775.5 1139.2L775.8 1140.04L776.1 1140.88L776.4 1141.72L776.7 1142.58L777 1143.44L777.3 1144.31L777.6 1145.18L777.9 1146.06L778.2 1146.95L778.5 1147.84L778.8 1148.74L779.1 1149.65L779.4 1150.56L779.7 1151.48L780 1152.4L780.3 1153.33L780.6 1154.27L780.9 1155.21L781.2 1156.15L781.5 1157.1L781.8 1158.06L782.1 1159.02L782.4 1159.98L782.7 1160.95L783 1161.92L783.3 1162.9L783.6 1163.88L783.9 1164.86L784.2 1165.85L784.5 1166.84L784.8 1167.84L785.1 1168.84L785.4 1169.84L785.7 1170.85L786 1171.85L786.3 1172.87L786.6 1173.88L786.9 1174.9L787.2 1175.91L787.5 1176.94L787.8 1177.96L788.1 1178.98L788.4 1180.01L788.7 1181.04L789 1182.07L789.3 1183.1L789.6 1184.14L789.9 1185.17L790.2 1186.21L790.5 1187.24L790.8 1188.28L791.1 1189.32L791.4 1190.36L791.7 1191.4L792 1192.44L792.3 1193.47L792.6 1194.51L792.9 1195.55L793.2 1196.59L793.5 1197.63L793.8 1198.67L794.1 1199.71L794.4 1200.74L794.7 1201.78L795 1202.81L795.3 1203.85L795.6 1204.88L795.9 1205.91L796.2 1206.94L796.5 1207.97L796.8 1209L797.1 1210.03L797.4 1211.05L797.7 1212.08L798 1213.11L798.3 1214.13L798.6 1215.16L798.9 1216.19L799.2 1217.21L799.5 1218.24L799.8 1219.26L800.1 1220.29L800.4 1221.31L800.7 1222.34L801 1223.36L801.3 1224.39L801.6 1225.42L801.9 1226.45L802.2 1227.48L802.5 1228.5L802.8 1229.53L803.1 1230.57L803.4 1231.6L803.7 1232.63L804 1233.67L804.3 1234.7L804.6 1235.74L804.9 1236.78L805.2 1237.82L805.5 1238.86L805.8 1239.9L806.1 1240.95L806.4 1241.99L806.7 1243.04L807 1244.09L807.3 1245.15L807.6 1246.2L807.9 1247.26L808.2 1248.32L808.5 1249.38L808.8 1250.44L809.1 1251.51L809.4 1252.58L809.7 1253.65L810 1254.73L810.3 1255.81L810.6 1256.89L810.9 1257.97L811.2 1259.06L811.5 1260.15L811.8 1261.24L812.1 1262.34L812.4 1263.44L812.7 1264.55L813 1265.65L813.3 1266.77L813.6 1267.88L813.9 1269L814.2 1270.12L814.5 1271.25L814.8 1272.38L815.1 1273.52L815.4 1274.66L815.7 1275.8L816 1276.95L816.3 1278.11L816.6 1279.26L816.9 1280.43L817.2 1281.59L817.5 1282.77L817.8 1283.94L818.1 1285.13L818.4 1286.31L818.7 1287.51L819 1288.7L819.3 1289.91L819.6 1291.12L819.9 1292.33L820.2 1293.55L820.5 1294.78L820.8 1296.01L821.1 1297.24L821.4 1298.49L821.7 1299.73L822 1300.98L822.3 1302.24L822.6 1303.5L822.9 1304.77L823.2 1306.04L823.5 1307.31L823.8 1308.59L824.1 1309.87L824.4 1311.16L824.7 1312.44L825 1313.74L825.3 1315.03L825.6 1316.33L825.9 1317.64L826.2 1318.94L826.5 1320.25L826.8 1321.56L827.1 1322.88L827.4 1324.2L827.7 1325.51L828 1326.84L828.3 1328.16L828.6 1329.49L828.9 1330.81L829.2 1332.14L829.5 1333.47L829.8 1334.81L830.1 1336.14L830.4 1337.48L830.7 1338.81L831 1340.15L831.3 1341.49L831.6 1342.82L831.9 1344.16L832.2 1345.5L832.5 1346.84L832.8 1348.18L833.1 1349.52L833.4 1350.86L833.7 1352.2L834 1353.54L834.3 1354.88L834.6 1356.22L834.9 1357.56L835.2 1358.89L835.5 1360.23L835.8 1361.56L836.1 1362.9L836.4 1364.23L836.7 1365.56L837 1366.89L837.3 1368.21L837.6 1369.54L837.9 1370.86L838.2 1372.18L838.5 1373.5L838.8 1374.81L839.1 1376.13L839.4 1377.44L839.7 1378.74L840 1380.05L840.3 1381.35L840.6 1382.65L840.9 1383.94L841.2 1385.23L841.5 1386.52L841.8 1387.8L842.1 1389.08L842.4 1390.36L842.7 1391.63L843 1392.9L843.3 1394.16L843.6 1395.42L843.9 1396.67L844.2 1397.92L844.5 1399.17L844.8 1400.4L845.1 1401.64L845.4 1402.87L845.7 1404.09L846 1405.31L846.3 1406.53L846.6 1407.74L846.9 1408.94L847.2 1410.15L847.5 1411.34L847.8 1412.54L848.1 1413.73L848.4 1414.91L848.7 1416.09L849 1417.27L849.3 1418.44L849.6 1419.61L849.9 1420.78L850.2 1421.94L850.5 1423.1L850.8 1424.26L851.1 1425.41L851.4 1426.56L851.7 1427.7L852 1428.84L852.3 1429.98L852.6 1431.11L852.9 1432.25L853.2 1433.37L853.5 1434.5L853.8 1435.62L854.1 1436.74L854.4 1437.86L854.7 1438.97L855 1440.08L855.3 1441.18L855.6 1442.29L855.9 1443.39L856.2 1444.48L856.5 1445.58L856.8 1446.67L857.1 1447.76L857.4 1448.84L857.7 1449.92L858 1451L858.3 1452.08L858.6 1453.15L858.9 1454.22L859.2 1455.29L859.5 1456.35L859.8 1457.41L860.1 1458.47L860.4 1459.53L860.7 1460.58L861 1461.63L861.3 1462.68L861.6 1463.72L861.9 1464.77L862.2 1465.81L862.5 1466.84L862.8 1467.88L863.1 1468.91L863.4 1469.94L863.7 1470.96L864 1471.99L864.3 1473.01L864.6 1474.03L864.9 1475.04L865.2 1476.06L865.5 1477.07L865.8 1478.07L866.1 1479.08L866.4 1480.08L866.7 1481.09L867 1482.08L867.3 1483.08L867.6 1484.07L867.9 1485.06L868.2 1486.05L868.5 1487.04L868.8 1488.02L869.1 1489L869.4 1489.97L869.7 1490.94L870 1491.91L870.3 1492.87L870.6 1493.83L870.9 1494.79L871.2 1495.74L871.5 1496.69L871.8 1497.63L872.1 1498.57L872.4 1499.5L872.7 1500.43L873 1501.36L873.3 1502.28L873.6 1503.19L873.9 1504.1L874.2 1505L874.5 1505.9L874.8 1506.79L875.1 1507.68L875.4 1508.56L875.7 1509.43L876 1510.3L876.3 1511.17L876.6 1512.02L876.9 1512.87L877.2 1513.71L877.5 1514.55L877.8 1515.38L878.1 1516.2L878.4 1517.02L878.7 1517.83L879 1518.63L879.3 1519.43L879.6 1520.22L879.9 1521L880.2 1521.78L880.5 1522.55L880.8 1523.31L881.1 1524.07L881.4 1524.82L881.7 1525.57L882 1526.31L882.3 1527.04L882.6 1527.77L882.9 1528.49L883.2 1529.2L883.5 1529.91L883.8 1530.62L884.1 1531.32L884.4 1532.01L884.7 1532.7L885 1533.38L885.3 1534.05L885.6 1534.72L885.9 1535.39L886.2 1536.04L886.5 1536.7L886.8 1537.34L887.1 1537.98L887.4 1538.62L887.7 1539.25L888 1539.87L888.3 1540.49L888.6 1541.11L888.9 1541.71L889.2 1542.32L889.5 1542.91L889.8 1543.5L890.1 1544.09L890.4 1544.67L890.7 1545.24L891 1545.81L891.3 1546.38L891.6 1546.93L891.9 1547.49L892.2 1548.03L892.5 1548.57L892.8 1549.11L893.1 1549.64L893.4 1550.16L893.7 1550.68L894 1551.2L894.3 1551.71L894.6 1552.21L894.9 1552.71L895.2 1553.2L895.5 1553.68L895.8 1554.17L896.1 1554.64L896.4 1555.11L896.7 1555.58L897 1556.04L897.3 1556.49L897.6 1556.94L897.9 1557.38L898.2 1557.82L898.5 1558.26L898.8 1558.68L899.1 1559.11L899.4 1559.52L899.7 1559.94L900 1560.34L900.3 1560.74L900.6 1561.14L900.9 1561.53L901.2 1561.92L901.5 1562.3L901.8 1562.67L902.1 1563.04L902.4 1563.41L902.7 1563.77L903 1564.12L903.3 1564.47L903.6 1564.81L903.9 1565.15L904.2 1565.49L904.5 1565.81L904.8 1566.14L905.1 1566.46L905.4 1566.77L905.7 1567.08L906 1567.38L906.3 1567.68L906.6 1567.97L906.9 1568.26L907.2 1568.54L907.5 1568.82L907.8 1569.09L908.1 1569.36L908.4 1569.62L908.7 1569.88L909 1570.13L909.3 1570.38L909.6 1570.62L909.9 1570.86L910.2 1571.09L910.5 1571.32L910.8 1571.54L911.1 1571.76L911.4 1571.97L911.7 1572.18L912 1572.38L912.3 1572.58L912.6 1572.77L912.9 1572.96L913.2 1573.14L913.5 1573.32L913.8 1573.49L914.1 1573.66L914.4 1573.82L914.7 1573.98L915 1574.14L915.3 1574.29L915.6 1574.43L915.9 1574.57L916.2 1574.7L916.5 1574.83L916.8 1574.96L917.1 1575.08L917.4 1575.19L917.7 1575.31L918 1575.41L918.3 1575.51L918.6 1575.61L918.9 1575.7L919.2 1575.79L919.5 1575.87L919.8 1575.95L920.1 1576.02L920.4 1576.09L920.7 1576.15L921 1576.21L921.3 1576.26L921.6 1576.31L921.9 1576.36L922.2 1576.4L922.5 1576.43L922.8 1576.47L923.1 1576.49L923.4 1576.51L923.7 1576.53L924 1576.54L924.3 1576.55L924.6 1576.56L924.9 1576.55L925.2 1576.55L925.5 1576.54L925.8 1576.52L926.1 1576.5L926.4 1576.48L926.7 1576.45L927 1576.42L927.3 1576.38L927.6 1576.34L927.9 1576.29L928.2 1576.24L928.5 1576.19L928.8 1576.13L929.1 1576.06L929.4 1576L929.7 1575.92L930 1575.85L930.3 1575.76L930.6 1575.68L930.9 1575.59L931.2 1575.49L931.5 1575.39L931.8 1575.29L932.1 1575.18L932.4 1575.07L932.7 1574.96L933 1574.84L933.3 1574.71L933.6 1574.59L933.9 1574.46L934.2 1574.32L934.5 1574.18L934.8 1574.04L935.1 1573.89L935.4 1573.74L935.7 1573.59L936 1573.43L936.3 1573.27L936.6 1573.1L936.9 1572.93L937.2 1572.76L937.5 1572.58L937.8 1572.4L938.1 1572.22L938.4 1572.04L938.7 1571.85L939 1571.65L939.3 1571.46L939.6 1571.26L939.9 1571.06L940.2 1570.85L940.5 1570.64L940.8 1570.43L941.1 1570.22L941.4 1570L941.7 1569.78L942 1569.55L942.3 1569.33L942.6 1569.1L942.9 1568.87L943.2 1568.63L943.5 1568.39L943.8 1568.15L944.1 1567.91L944.4 1567.66L944.7 1567.42L945 1567.16L945.3 1566.91L945.6 1566.66L945.9 1566.4L946.2 1566.14L946.5 1565.87L946.8 1565.61L947.1 1565.34L947.4 1565.07L947.7 1564.8L948 1564.53L948.3 1564.25L948.6 1563.97L948.9 1563.69L949.2 1563.41L949.5 1563.13L949.8 1562.84L950.1 1562.55L950.4 1562.26L950.7 1561.97L951 1561.68L951.3 1561.38L951.6 1561.08L951.9 1560.79L952.2 1560.49L952.5 1560.18L952.8 1559.88L953.1 1559.58L953.4 1559.27L953.7 1558.96L954 1558.65L954.3 1558.34L954.6 1558.03L954.9 1557.72L955.2 1557.4L955.5 1557.09L955.8 1556.77L956.1 1556.45L956.4 1556.13L956.7 1555.81L957 1555.49L957.3 1555.17L957.6 1554.85L957.9 1554.52L958.2 1554.2L958.5 1553.87L958.8 1553.55L959.1 1553.22L959.4 1552.89L959.7 1552.57L960 1552.24L960.3 1551.91L960.6 1551.58L960.9 1551.25L961.2 1550.91L961.5 1550.58L961.8 1550.25L962.1 1549.92L962.4 1549.59L962.7 1549.25L963 1548.92L963.3 1548.59L963.6 1548.25L963.9 1547.92L964.2 1547.58L964.5 1547.25L964.8 1546.92L965.1 1546.58L965.4 1546.25L965.7 1545.91L966 1545.58L966.3 1545.25L966.6 1544.91L966.9 1544.58L967.2 1544.25L967.5 1543.91"/>
<path class="ln" stroke="rgb(255,215,0)" stroke-opacity="0.8" d="M967.5 1544.21L967.8 1543.76L968.1 1543.32L968.39 1542.88L968.69 1542.44L968.99 1542L969.29 1541.56L969.58 1541.12L969.88 1540.68L970.18 1540.24L970.48 1539.8L970.77 1539.36L971.07 1538.92L971.37 1538.49L971.67 1538.05L971.96 1537.61L972.26 1537.17L972.56 1536.74L972.86 1536.3L973.15 1535.87L973.45 1535.43L973.75 1535L974.05 1534.56L974.35 1534.13L974.64 1533.69L974.94 1533.26L975.24 1532.83L975.54 1532.39L975.83 1531.96L976.13 1531.53L976.43 1531.1L976.73 1530.66L977.02 1530.23L977.32 1529.8L977.62 1529.37L977.92 1528.94L978.21 1528.51L978.51 1528.08L978.81 1527.65L979.11 1527.22L979.4 1526.79L979.7 1526.37L980 1525.94L980.3 1525.51L980.6 1525.08L980.89 1524.65L981.19 1524.23L981.49 1523.8L981.79 1523.37L982.08 1522.95L982.38 1522.52L982.68 1522.1L982.98 1521.67L983.27 1521.25L983.57 1520.82L983.87 1520.4L984.17 1519.97L984.46 1519.55L984.76 1519.12L985.06 1518.7L985.36 1518.27L985.65 1517.84L985.95 1517.41L986.25 1516.98L986.55 1516.55L986.85 1516.12L987.14 1515.68L987.44 1515.25L987.74 1514.8L988.04 1514.36L988.33 1513.92L988.63 1513.47L988.93 1513.02L989.23 1512.56L989.52 1512.1L989.82 1511.64L990.12 1511.17L990.42 1510.7L990.71 1510.23L991.01 1509.75L991.31 1509.27L991.61 1508.78L991.9 1508.28L992.2 1507.79L992.5 1507.28L992.8 1506.77L993.1 1506.26L993.39 1505.73L993.69 1505.21L993.99 1504.67L994.29 1504.13L994.58 1503.58L994.88 1503.03L995.18 1502.47L995.48 1501.9L995.77 1501.32L996.07 1500.73L996.37 1500.14L996.67 1499.54"/>
<path class="ln" stroke="rgb(255,0,0)" stroke-opacity="0.8" d="M997.04 1499.49L997.34 1498.99L997.63 1498.49L997.93 1497.99L998.23 1497.48L998.53 1496.98L998.83 1496.48L999.13 1495.98L999.43 1495.48L999.72 1494.98L1000.02 1494.48L1000.32 1493.98L1000.62 1493.48L1000.92 1492.98L1001.22 1492.48L1001.52 1491.98L1001.81 1491.48L1002.11 1490.98L1002.41 1490.49L1002.71 1489.99L1003.01 1489.49L1003.31 1488.99L1003.61 1488.49L1003.9 1487.99L1004.2 1487.5L1004.5 1487L1004.8 1486.5L1005.1 1486L1005.4 1485.51L1005.7 1485.01L1005.99 1484.51L1006.29 1484.02L1006.59 1483.52L1006.89 1483.03L1007.19 1482.53L1007.49 1482.04L1007.79 1481.54L1008.08 1481.05L1008.38 1480.55L1008.68 1480.06L1008.98 1479.56L1009.28 1479.07L1009.58 1478.58L1009.88 1478.08L1010.17 1477.59L1010.47 1477.1L1010.77 1476.61L1011.07 1476.11L1011.37 1475.62L1011.67 1475.13L1011.97 1474.64L1012.26 1474.15L1012.56 1473.66L1012.86 1473.17L1013.16 1472.68L1013.46 1472.19L1013.76 1471.7L1014.06 1471.21L1014.35 1470.73L1014.65 1470.24L1014.95 1469.75L1015.25 1469.26L1015.55 1468.78L1015.85 1468.29L1016.15 1467.81L1016.44 1467.32L1016.74 1466.83L1017.04 1466.35L1017.34 1465.87L1017.64 1465.38L1017.94 1464.9L1018.24 1464.42L1018.53 1463.93L1018.83 1463.45L1019.13 1462.97L1019.43 1462.49L1019.73 1462.01L1020.03 1461.53L1020.33 1461.05L1020.62 1460.57L1020.92 1460.09L1021.22 1459.61L1021.52 1459.13L1021.82 1458.65L1022.12 1458.18L1022.41 1457.7L1022.71 1457.22L1023.01 1456.75L1023.31 1456.27L1023.61 1455.8L1023.91 1455.32L1024.21 1454.85L1024.5 1454.38L1024.8 1453.91L1025.1 1453.43L1025.4 1452.96L1025.7 1452.49L1026 1452.02L1026.3 1451.55L1026.59 1451.08L1026.89 1450.61L1027.19 1450.14L1027.49 1449.68L1027.79 1449.21L1028.09 1448.74L1028.39 1448.28L1028.68 1447.81L1028.98 1447.35L1029.28 1446.88L1029.58 1446.42L1029.88 1445.96L1030.18 1445.49L1030.48 1445.03L1030.77 1444.57L1031.07 1444.11L1031.37 1443.65L1031.67 1443.19L1031.97 1442.74L1032.27 1442.28L1032.57 1441.83L1032.86 1441.37L1033.16 1440.92L1033.46 1440.46L1033.76 1440.01L1034.06 1439.56L1034.36 1439.11L1034.66 1438.66L1034.95 1438.22L1035.25 1437.77L1035.55 1437.33L1035.85 1436.88L1036.15 1436.44L1036.45 1436L1036.75 1435.56L1037.04 1435.12L1037.34 1434.68L1037.64 1434.24L1037.94 1433.81L1038.24 1433.38L1038.54 1432.94L1038.84 1432.51L1039.13 1432.09L1039.43 1431.66L1039.73 1431.23L1040.03 1430.81L1040.33 1430.38L1040.63 1429.96L1040.93 1429.54L1041.22 1429.13L1041.52 1428.71L1041.82 1428.29L1042.12 1427.88L1042.42 1427.47L1042.72 1427.06L1043.02 1426.65L1043.31 1426.25L1043.61 1425.84L1043.91 1425.44L1044.21 1425.04L1044.51 1424.64L1044.81 1424.25L1045.11 1423.85L1045.4 1423.46L1045.7 1423.07L1046 1422.68L1046.3 1422.3L1046.6 1421.91L1046.9 1421.53L1047.2 1421.15L1047.49 1420.78L1047.79 1420.4L1048.09 1420.03L1048.39 1419.66L1048.69 1419.29L1048.99 1418.92L1049.29 1418.56L1049.58 1418.2L1049.88 1417.84L1050.18 1417.48L1050.48 1417.13L1050.78 1416.78L1051.08 1416.43L1051.38 1416.08L1051.67 1415.74L1051.97 1415.4L1052.27 1415.06L1052.57 1414.72L1052.87 1414.39L1053.17 1414.06L1053.47 1413.73L1053.76 1413.4L1054.06 1413.08L1054.36 1412.76L1054.66 1412.45L1054.96 1412.13L1055.26 1411.82L1055.56 1411.51"/>
<path class="ln" stroke="rgb(0,0,128)" stroke-opacity="0.8" d="M999.63 1512.59L1001.85 1508.52L1003.33 1499.26L1004.81 1505.93L1007.41 1506.3L1009.63 1496.3L1011.11 1500.74L1012.22 1491.11L1013.7 1487.78L1015.56 1490L1018.52 1493.33L1020.74 1478.52L1022.22 1480L1023.33 1465.93L1025.56 1475.56L1026.67 1471.85L1027.41 1483.33L1028.89 1457.04L1029.63 1463.7L1031.11 1464.81L1033.7 1461.48L1035.93 1451.11L1038.15 1446.67L1039.63 1452.96L1041.85 1444.81L1043.33 1445.93L1047.04 1441.48L1047.78 1438.52L1048.52 1440L1049.26 1436.67L1050.37 1437.78L1051.48 1435.56L1052.96 1434.81L1054.81 1430"/>
<path class="ln" stroke="rgb(50,205,50)" stroke-opacity="0.8" d="M1054.81 1430L1055.93 1441.48L1057.41 1451.11"/>
</g>
<rect class="sp" x="750.5" y="1093.45" width="321.4" height="506.9"/>
<path class="sp" d="M765.1 1600.35v2.6M804.5 1600.35v2.6M844.2 1600.35v2.6M883.6 1600.35v2.6M923.4 1600.35v2.6M962.7 1600.35v2.6M1002.7 1600.35v2.6M1041.9 1600.35v2.6M750.5 1165.52h-2.6M750.5 1252.89h-2.6M750.5 1340.26h-2.6M750.5 1427.63h-2.6M750.5 1515h-2.6"/>
<text class="tk" x="765.3" y="1611.15" text-anchor="middle" textLength="25.44" lengthAdjust="spacingAndGlyphs">2018−01</text>
<text class="tk" x="804.7" y="1611.15" text-anchor="middle" textLength="25.44" lengthAdjust="spacingAndGlyphs">2018−07</text>
<text class="tk" x="844.4" y="1611.15" text-anchor="middle" textLength="25.44" lengthAdjust="spacingAndGlyphs">2019−01</text>
<text class="tk" x="883.8" y="1611.15" text-anchor="middle" textLength="25.44" lengthAdjust="spacingAndGlyphs">2019−07</text>
<text class="tk" x="923.6" y="1611.15" text-anchor="middle" textLength="25.44" lengthAdjust="spacingAndGlyphs">2020−01</text>
<text class="tk" x="962.9" y="1611.15" text-anchor="middle" textLength="25.44" lengthAdjust="spacingAndGlyphs">2020−07</text>
<text class="tk" x="1002.9" y="1611.15" text-anchor="middle" textLength="25.44" lengthAdjust="spacingAndGlyphs">2021−01</text>
<text class="tk" x="1042.1" y="1611.15" text-anchor="middle" textLength="25.44" lengthAdjust="spacingAndGlyphs">2021−07</text>
<text class="tk" x="744.9" y="1168.32" text-anchor="end" textLength="21.82" lengthAdjust="spacingAndGlyphs">240000</text>
<text class="tk" x="744.9" y="1255.69" text-anchor="end" textLength="21.82" lengthAdjust="spacingAndGlyphs">230000</text>
<text class="tk" x="744.9" y="1343.06" text-anchor="end" textLength="21.82" lengthAdjust="spacingAndGlyphs">220000</text>
<text class="tk" x="744.9" y="1430.43" text-anchor="end" textLength="21.82" lengthAdjust="spacingAndGlyphs">210000</text>
<text class="tk" x="744.9" y="1517.8" text-anchor="end" textLength="21.82" lengthAdjust="spacingAndGlyphs">200000</text>
<text class="tt" x="911" y="1088.95" text-anchor="middle" textLength="16.6" lengthAdjust="spacingAndGlyphs">IMF9</text>
<rect x="995.75" y="1097.15" width="72.05" height="56.2" rx="1.5" ry="1.5" fill="#fff" fill-opacity="0.8" stroke="#ccc" stroke-opacity="0.8" stroke-width="0.75"/>
<path class="ln" stroke="rgb(0,0,255)" stroke-opacity="0.8" d="M998.65 1103.6h16"/>
<text class="lg" x="1020.15" y="1106.2">训练集</text>
<path class="ln" stroke="rgb(255,215,0)" stroke-opacity="0.8" d="M998.65 1114.36h16"/>
<text class="lg" x="1020.15" y="1116.96">验证集</text>
<path class="ln" stroke="rgb(255,0,0)" stroke-opacity="0.8" d="M998.65 1125.12h16"/>
<text class="lg" x="1020.15" y="1127.72">测试集</text>
<path class="ln" stroke="rgb(0,0,128)" stroke-opacity="0.8" d="M998.65 1135.88h16"/>
<text class="lg" x="1020.15" y="1138.48">测试集预测</text>
<path class="ln" stroke="rgb(50,205,50)" stroke-opacity="0.8" d="M998.65 1146.64h16"/>
<text class="lg" x="1020.15" y="1149.24">向后预测</text><text class="tk" x="1050.25" y="1149.34" textLength="7" lengthAdjust="spacingAndGlyphs">10</text><text class="lg" x="1057.65" y="1149.24">天</text>
</g>
</svg>
</body></html>
